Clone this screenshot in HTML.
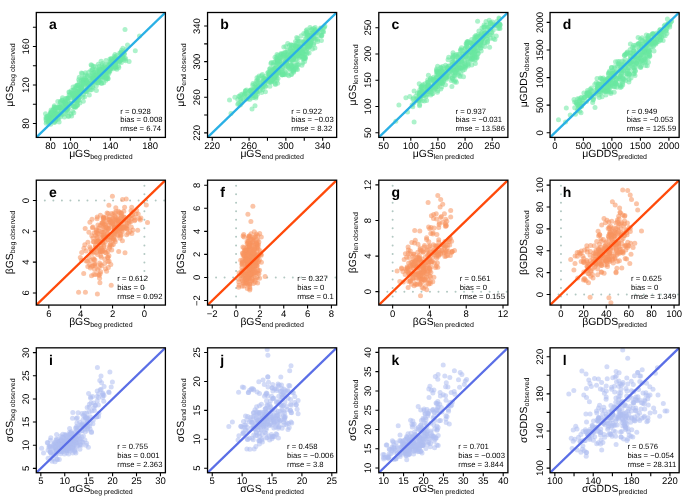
<!DOCTYPE html>
<html><head><meta charset="utf-8"><style>
html,body{margin:0;padding:0;background:#fff;width:685px;height:503px;overflow:hidden}
svg{display:block;font-family:"Liberation Sans",sans-serif;fill:#000;text-rendering:geometricPrecision;will-change:transform}
text{fill:#000}
</style></head><body>
<svg width="685" height="503" viewBox="0 0 685 503">
<rect width="685" height="503" fill="#fff"/>
<defs><clipPath id="ca"><rect x="36.30" y="12.50" width="129.10" height="124.90"/></clipPath><clipPath id="cb"><rect x="207.55" y="12.50" width="129.10" height="124.90"/></clipPath><clipPath id="cc"><rect x="378.80" y="12.50" width="129.10" height="124.90"/></clipPath><clipPath id="cd"><rect x="550.05" y="12.50" width="129.10" height="124.90"/></clipPath><clipPath id="ce"><rect x="36.30" y="180.17" width="129.10" height="124.90"/></clipPath><clipPath id="cf"><rect x="207.55" y="180.17" width="129.10" height="124.90"/></clipPath><clipPath id="cg"><rect x="378.80" y="180.17" width="129.10" height="124.90"/></clipPath><clipPath id="ch"><rect x="550.05" y="180.17" width="129.10" height="124.90"/></clipPath><clipPath id="ci"><rect x="36.30" y="347.83" width="129.10" height="124.90"/></clipPath><clipPath id="cj"><rect x="207.55" y="347.83" width="129.10" height="124.90"/></clipPath><clipPath id="ck"><rect x="378.80" y="347.83" width="129.10" height="124.90"/></clipPath><clipPath id="cl"><rect x="550.05" y="347.83" width="129.10" height="124.90"/></clipPath></defs>
<g clip-path="url(#ca)">
<g fill="rgb(105,232,160)" fill-opacity="0.55"><circle cx="60.2" cy="107.9" r="2.5"/><circle cx="115.9" cy="67.2" r="2.5"/><circle cx="86.2" cy="80.3" r="2.5"/><circle cx="91.7" cy="79.6" r="2.5"/><circle cx="101.6" cy="74.4" r="2.5"/><circle cx="105.4" cy="71.4" r="2.5"/><circle cx="87.8" cy="84.1" r="2.5"/><circle cx="115.4" cy="62.7" r="2.5"/><circle cx="108.8" cy="73.4" r="2.5"/><circle cx="116.3" cy="61.1" r="2.5"/><circle cx="68.7" cy="107.7" r="2.5"/><circle cx="48.3" cy="118.7" r="2.5"/><circle cx="96.3" cy="85.7" r="2.5"/><circle cx="78.0" cy="85.6" r="2.5"/><circle cx="51.1" cy="116.9" r="2.5"/><circle cx="89.3" cy="95.1" r="2.5"/><circle cx="80.0" cy="93.3" r="2.5"/><circle cx="100.6" cy="79.2" r="2.5"/><circle cx="77.4" cy="94.5" r="2.5"/><circle cx="46.8" cy="116.4" r="2.5"/><circle cx="75.9" cy="91.0" r="2.5"/><circle cx="56.1" cy="119.7" r="2.5"/><circle cx="67.1" cy="109.5" r="2.5"/><circle cx="119.2" cy="61.9" r="2.5"/><circle cx="53.4" cy="109.4" r="2.5"/><circle cx="86.6" cy="82.2" r="2.5"/><circle cx="75.1" cy="101.1" r="2.5"/><circle cx="95.4" cy="66.8" r="2.5"/><circle cx="99.3" cy="71.7" r="2.5"/><circle cx="104.3" cy="75.8" r="2.5"/><circle cx="113.4" cy="62.3" r="2.5"/><circle cx="59.5" cy="107.8" r="2.5"/><circle cx="70.2" cy="97.5" r="2.5"/><circle cx="112.6" cy="63.5" r="2.5"/><circle cx="50.6" cy="113.6" r="2.5"/><circle cx="84.7" cy="84.6" r="2.5"/><circle cx="79.6" cy="94.0" r="2.5"/><circle cx="62.1" cy="100.4" r="2.5"/><circle cx="125.9" cy="49.6" r="2.5"/><circle cx="114.4" cy="67.6" r="2.5"/><circle cx="54.7" cy="110.5" r="2.5"/><circle cx="75.6" cy="107.2" r="2.5"/><circle cx="60.3" cy="101.4" r="2.5"/><circle cx="93.7" cy="78.3" r="2.5"/><circle cx="67.9" cy="97.9" r="2.5"/><circle cx="93.8" cy="72.4" r="2.5"/><circle cx="74.8" cy="98.8" r="2.5"/><circle cx="104.4" cy="77.5" r="2.5"/><circle cx="87.2" cy="80.6" r="2.5"/><circle cx="97.5" cy="70.9" r="2.5"/><circle cx="115.3" cy="59.3" r="2.5"/><circle cx="59.9" cy="110.9" r="2.5"/><circle cx="74.8" cy="96.7" r="2.5"/><circle cx="91.6" cy="76.4" r="2.5"/><circle cx="60.6" cy="102.4" r="2.5"/><circle cx="113.0" cy="65.9" r="2.5"/><circle cx="124.4" cy="53.9" r="2.5"/><circle cx="109.8" cy="66.9" r="2.5"/><circle cx="46.6" cy="118.3" r="2.5"/><circle cx="122.9" cy="48.3" r="2.5"/><circle cx="77.6" cy="101.6" r="2.5"/><circle cx="54.2" cy="113.2" r="2.5"/><circle cx="48.9" cy="121.1" r="2.5"/><circle cx="113.9" cy="61.3" r="2.5"/><circle cx="69.9" cy="104.0" r="2.5"/><circle cx="101.8" cy="83.3" r="2.5"/><circle cx="108.2" cy="78.5" r="2.5"/><circle cx="113.2" cy="66.3" r="2.5"/><circle cx="85.4" cy="91.2" r="2.5"/><circle cx="64.8" cy="102.3" r="2.5"/><circle cx="124.2" cy="60.0" r="2.5"/><circle cx="54.8" cy="111.2" r="2.5"/><circle cx="76.7" cy="102.4" r="2.5"/><circle cx="99.3" cy="73.7" r="2.5"/><circle cx="84.7" cy="96.7" r="2.5"/><circle cx="64.1" cy="102.4" r="2.5"/><circle cx="94.3" cy="81.3" r="2.5"/><circle cx="74.2" cy="90.0" r="2.5"/><circle cx="83.3" cy="89.6" r="2.5"/><circle cx="95.6" cy="69.4" r="2.5"/><circle cx="108.9" cy="65.2" r="2.5"/><circle cx="87.5" cy="75.7" r="2.5"/><circle cx="106.0" cy="60.6" r="2.5"/><circle cx="46.2" cy="123.2" r="2.5"/><circle cx="64.4" cy="117.0" r="2.5"/><circle cx="111.4" cy="67.7" r="2.5"/><circle cx="115.0" cy="66.6" r="2.5"/><circle cx="46.0" cy="119.8" r="2.5"/><circle cx="112.9" cy="64.1" r="2.5"/><circle cx="99.0" cy="77.2" r="2.5"/><circle cx="91.7" cy="65.5" r="2.5"/><circle cx="81.2" cy="87.0" r="2.5"/><circle cx="114.1" cy="56.4" r="2.5"/><circle cx="52.3" cy="118.8" r="2.5"/><circle cx="62.2" cy="99.9" r="2.5"/><circle cx="75.7" cy="100.4" r="2.5"/><circle cx="99.3" cy="66.3" r="2.5"/><circle cx="60.3" cy="116.9" r="2.5"/><circle cx="51.9" cy="115.6" r="2.5"/><circle cx="113.5" cy="68.7" r="2.5"/><circle cx="77.4" cy="91.7" r="2.5"/><circle cx="102.3" cy="67.4" r="2.5"/><circle cx="97.5" cy="77.6" r="2.5"/><circle cx="98.4" cy="79.8" r="2.5"/><circle cx="125.7" cy="60.8" r="2.5"/><circle cx="73.1" cy="86.9" r="2.5"/><circle cx="49.9" cy="115.7" r="2.5"/><circle cx="121.3" cy="62.6" r="2.5"/><circle cx="54.6" cy="114.8" r="2.5"/><circle cx="71.0" cy="114.0" r="2.5"/><circle cx="115.3" cy="66.5" r="2.5"/><circle cx="75.4" cy="106.8" r="2.5"/><circle cx="68.2" cy="101.4" r="2.5"/><circle cx="99.5" cy="68.7" r="2.5"/><circle cx="73.0" cy="95.8" r="2.5"/><circle cx="92.1" cy="78.3" r="2.5"/><circle cx="102.8" cy="76.9" r="2.5"/><circle cx="76.7" cy="100.5" r="2.5"/><circle cx="55.4" cy="109.2" r="2.5"/><circle cx="92.4" cy="70.1" r="2.5"/><circle cx="74.7" cy="107.1" r="2.5"/><circle cx="90.9" cy="70.5" r="2.5"/><circle cx="112.6" cy="62.3" r="2.5"/><circle cx="54.3" cy="122.3" r="2.5"/><circle cx="74.8" cy="98.3" r="2.5"/><circle cx="87.3" cy="83.1" r="2.5"/><circle cx="61.3" cy="111.1" r="2.5"/><circle cx="53.7" cy="116.0" r="2.5"/><circle cx="71.6" cy="115.9" r="2.5"/><circle cx="93.9" cy="74.5" r="2.5"/><circle cx="54.6" cy="107.6" r="2.5"/><circle cx="72.5" cy="93.5" r="2.5"/><circle cx="111.4" cy="59.0" r="2.5"/><circle cx="106.4" cy="67.6" r="2.5"/><circle cx="57.2" cy="114.3" r="2.5"/><circle cx="58.2" cy="119.3" r="2.5"/><circle cx="45.9" cy="117.7" r="2.5"/><circle cx="56.3" cy="113.6" r="2.5"/><circle cx="92.9" cy="78.0" r="2.5"/><circle cx="99.8" cy="73.2" r="2.5"/><circle cx="81.0" cy="88.5" r="2.5"/><circle cx="104.7" cy="64.7" r="2.5"/><circle cx="50.7" cy="124.2" r="2.5"/><circle cx="53.0" cy="114.5" r="2.5"/><circle cx="106.7" cy="72.3" r="2.5"/><circle cx="99.2" cy="73.5" r="2.5"/><circle cx="97.8" cy="82.2" r="2.5"/><circle cx="91.3" cy="78.5" r="2.5"/><circle cx="104.4" cy="76.2" r="2.5"/><circle cx="109.7" cy="63.2" r="2.5"/><circle cx="95.8" cy="74.4" r="2.5"/><circle cx="65.6" cy="103.6" r="2.5"/><circle cx="73.7" cy="105.9" r="2.5"/><circle cx="124.4" cy="57.9" r="2.5"/><circle cx="110.7" cy="68.8" r="2.5"/><circle cx="49.2" cy="115.7" r="2.5"/><circle cx="55.0" cy="113.6" r="2.5"/><circle cx="54.1" cy="107.0" r="2.5"/><circle cx="118.8" cy="67.5" r="2.5"/><circle cx="91.2" cy="84.8" r="2.5"/><circle cx="66.9" cy="98.4" r="2.5"/><circle cx="48.3" cy="118.0" r="2.5"/><circle cx="65.4" cy="102.6" r="2.5"/><circle cx="59.4" cy="105.6" r="2.5"/><circle cx="122.6" cy="57.7" r="2.5"/><circle cx="113.5" cy="64.4" r="2.5"/><circle cx="83.4" cy="82.4" r="2.5"/><circle cx="72.5" cy="94.9" r="2.5"/><circle cx="102.2" cy="69.7" r="2.5"/><circle cx="68.9" cy="91.9" r="2.5"/><circle cx="53.1" cy="117.3" r="2.5"/><circle cx="64.4" cy="110.0" r="2.5"/><circle cx="111.0" cy="66.5" r="2.5"/><circle cx="85.5" cy="79.8" r="2.5"/><circle cx="51.1" cy="110.0" r="2.5"/><circle cx="59.6" cy="107.3" r="2.5"/><circle cx="107.7" cy="78.8" r="2.5"/><circle cx="111.3" cy="68.1" r="2.5"/><circle cx="85.8" cy="91.5" r="2.5"/><circle cx="60.6" cy="113.2" r="2.5"/><circle cx="116.0" cy="68.1" r="2.5"/><circle cx="109.9" cy="59.1" r="2.5"/><circle cx="114.0" cy="64.7" r="2.5"/><circle cx="68.1" cy="116.2" r="2.5"/><circle cx="57.5" cy="114.7" r="2.5"/><circle cx="92.2" cy="83.1" r="2.5"/><circle cx="82.9" cy="97.1" r="2.5"/><circle cx="63.6" cy="106.5" r="2.5"/><circle cx="98.3" cy="64.2" r="2.5"/><circle cx="105.5" cy="76.9" r="2.5"/><circle cx="50.6" cy="116.8" r="2.5"/><circle cx="116.1" cy="59.4" r="2.5"/><circle cx="51.6" cy="118.6" r="2.5"/><circle cx="55.2" cy="113.7" r="2.5"/><circle cx="65.2" cy="103.5" r="2.5"/><circle cx="111.9" cy="63.0" r="2.5"/><circle cx="65.8" cy="103.5" r="2.5"/><circle cx="51.2" cy="119.7" r="2.5"/><circle cx="119.7" cy="61.6" r="2.5"/><circle cx="50.3" cy="121.5" r="2.5"/><circle cx="78.6" cy="97.4" r="2.5"/><circle cx="94.6" cy="81.5" r="2.5"/><circle cx="104.2" cy="71.4" r="2.5"/><circle cx="51.2" cy="113.5" r="2.5"/><circle cx="57.8" cy="101.4" r="2.5"/><circle cx="120.8" cy="59.4" r="2.5"/><circle cx="121.0" cy="54.8" r="2.5"/><circle cx="63.0" cy="102.4" r="2.5"/><circle cx="78.1" cy="96.7" r="2.5"/><circle cx="67.1" cy="110.5" r="2.5"/><circle cx="83.4" cy="80.1" r="2.5"/><circle cx="55.7" cy="108.1" r="2.5"/><circle cx="106.0" cy="76.7" r="2.5"/><circle cx="74.0" cy="93.8" r="2.5"/><circle cx="65.4" cy="104.6" r="2.5"/><circle cx="93.5" cy="66.3" r="2.5"/><circle cx="116.6" cy="59.4" r="2.5"/><circle cx="52.6" cy="110.3" r="2.5"/><circle cx="80.5" cy="91.3" r="2.5"/><circle cx="95.0" cy="83.1" r="2.5"/><circle cx="93.6" cy="77.8" r="2.5"/><circle cx="51.4" cy="119.8" r="2.5"/><circle cx="80.6" cy="91.8" r="2.5"/><circle cx="88.2" cy="84.1" r="2.5"/><circle cx="109.6" cy="64.4" r="2.5"/><circle cx="78.9" cy="91.8" r="2.5"/><circle cx="69.8" cy="92.2" r="2.5"/><circle cx="79.3" cy="77.2" r="2.5"/><circle cx="65.9" cy="104.5" r="2.5"/><circle cx="100.6" cy="73.6" r="2.5"/><circle cx="121.3" cy="51.9" r="2.5"/><circle cx="55.7" cy="107.8" r="2.5"/><circle cx="102.0" cy="75.8" r="2.5"/><circle cx="116.9" cy="69.3" r="2.5"/><circle cx="120.1" cy="58.2" r="2.5"/><circle cx="68.1" cy="106.8" r="2.5"/><circle cx="120.6" cy="53.1" r="2.5"/><circle cx="83.7" cy="80.5" r="2.5"/><circle cx="76.6" cy="87.6" r="2.5"/><circle cx="68.2" cy="98.4" r="2.5"/><circle cx="55.1" cy="121.1" r="2.5"/><circle cx="100.2" cy="80.6" r="2.5"/><circle cx="65.7" cy="102.6" r="2.5"/><circle cx="109.9" cy="71.3" r="2.5"/><circle cx="79.9" cy="103.1" r="2.5"/><circle cx="83.4" cy="79.6" r="2.5"/><circle cx="116.0" cy="60.0" r="2.5"/><circle cx="101.0" cy="76.6" r="2.5"/><circle cx="109.5" cy="71.1" r="2.5"/><circle cx="76.4" cy="93.6" r="2.5"/><circle cx="113.6" cy="62.1" r="2.5"/><circle cx="81.5" cy="80.5" r="2.5"/><circle cx="81.6" cy="86.6" r="2.5"/><circle cx="103.7" cy="82.7" r="2.5"/><circle cx="67.8" cy="111.9" r="2.5"/><circle cx="80.5" cy="87.9" r="2.5"/><circle cx="91.7" cy="89.7" r="2.5"/><circle cx="51.2" cy="118.0" r="2.5"/><circle cx="72.6" cy="98.2" r="2.5"/><circle cx="54.4" cy="105.7" r="2.5"/><circle cx="100.2" cy="74.8" r="2.5"/><circle cx="122.3" cy="55.6" r="2.5"/><circle cx="75.5" cy="96.8" r="2.5"/><circle cx="114.4" cy="58.2" r="2.5"/><circle cx="100.1" cy="71.7" r="2.5"/><circle cx="59.2" cy="114.3" r="2.5"/><circle cx="119.7" cy="53.0" r="2.5"/><circle cx="116.8" cy="61.2" r="2.5"/><circle cx="97.4" cy="76.5" r="2.5"/><circle cx="50.7" cy="112.7" r="2.5"/><circle cx="106.4" cy="71.4" r="2.5"/><circle cx="95.6" cy="75.7" r="2.5"/><circle cx="124.1" cy="53.7" r="2.5"/><circle cx="50.8" cy="112.0" r="2.5"/><circle cx="98.8" cy="69.7" r="2.5"/><circle cx="92.3" cy="81.2" r="2.5"/><circle cx="73.3" cy="106.2" r="2.5"/><circle cx="98.9" cy="82.6" r="2.5"/><circle cx="115.0" cy="54.6" r="2.5"/><circle cx="87.4" cy="87.7" r="2.5"/><circle cx="84.2" cy="91.3" r="2.5"/><circle cx="55.5" cy="110.1" r="2.5"/><circle cx="93.5" cy="78.7" r="2.5"/><circle cx="66.3" cy="107.5" r="2.5"/><circle cx="123.8" cy="52.0" r="2.5"/><circle cx="81.6" cy="87.0" r="2.5"/><circle cx="74.6" cy="98.7" r="2.5"/><circle cx="79.4" cy="84.7" r="2.5"/><circle cx="114.8" cy="66.5" r="2.5"/><circle cx="51.4" cy="117.7" r="2.5"/><circle cx="125.6" cy="58.5" r="2.5"/><circle cx="113.6" cy="64.5" r="2.5"/><circle cx="59.4" cy="106.8" r="2.5"/><circle cx="102.1" cy="65.7" r="2.5"/><circle cx="105.7" cy="73.6" r="2.5"/><circle cx="102.2" cy="73.0" r="2.5"/><circle cx="50.7" cy="118.8" r="2.5"/><circle cx="76.8" cy="105.0" r="2.5"/><circle cx="86.9" cy="76.6" r="2.5"/><circle cx="79.4" cy="81.4" r="2.5"/><circle cx="72.5" cy="111.2" r="2.5"/><circle cx="95.1" cy="78.4" r="2.5"/><circle cx="77.2" cy="105.6" r="2.5"/><circle cx="95.1" cy="81.3" r="2.5"/><circle cx="90.0" cy="75.6" r="2.5"/><circle cx="85.0" cy="81.8" r="2.5"/><circle cx="100.4" cy="69.6" r="2.5"/><circle cx="105.8" cy="80.3" r="2.5"/><circle cx="76.2" cy="97.8" r="2.5"/><circle cx="73.8" cy="112.7" r="2.5"/><circle cx="107.9" cy="71.6" r="2.5"/><circle cx="95.3" cy="74.9" r="2.5"/><circle cx="71.5" cy="93.0" r="2.5"/><circle cx="86.9" cy="80.1" r="2.5"/><circle cx="53.7" cy="114.1" r="2.5"/><circle cx="60.5" cy="106.7" r="2.5"/><circle cx="87.6" cy="89.9" r="2.5"/><circle cx="105.2" cy="69.0" r="2.5"/><circle cx="67.8" cy="108.8" r="2.5"/><circle cx="73.6" cy="106.5" r="2.5"/><circle cx="100.1" cy="71.1" r="2.5"/><circle cx="55.3" cy="114.4" r="2.5"/><circle cx="122.1" cy="52.8" r="2.5"/><circle cx="85.4" cy="74.9" r="2.5"/><circle cx="54.3" cy="114.1" r="2.5"/><circle cx="96.3" cy="73.7" r="2.5"/><circle cx="71.5" cy="90.4" r="2.5"/><circle cx="115.8" cy="64.8" r="2.5"/><circle cx="78.6" cy="91.2" r="2.5"/><circle cx="70.1" cy="103.4" r="2.5"/><circle cx="119.4" cy="57.9" r="2.5"/><circle cx="118.4" cy="66.1" r="2.5"/><circle cx="77.2" cy="85.4" r="2.5"/><circle cx="78.8" cy="100.3" r="2.5"/><circle cx="45.5" cy="113.7" r="2.5"/><circle cx="51.8" cy="113.1" r="2.5"/><circle cx="111.1" cy="58.8" r="2.5"/><circle cx="107.3" cy="76.2" r="2.5"/><circle cx="56.6" cy="114.0" r="2.5"/><circle cx="107.9" cy="68.1" r="2.5"/><circle cx="117.3" cy="61.1" r="2.5"/><circle cx="76.0" cy="93.1" r="2.5"/><circle cx="73.5" cy="90.0" r="2.5"/><circle cx="61.5" cy="108.2" r="2.5"/><circle cx="96.4" cy="90.4" r="2.5"/><circle cx="81.4" cy="73.0" r="2.5"/><circle cx="101.4" cy="70.2" r="2.5"/><circle cx="64.9" cy="101.3" r="2.5"/><circle cx="55.6" cy="119.6" r="2.5"/><circle cx="54.5" cy="122.2" r="2.5"/><circle cx="109.1" cy="70.1" r="2.5"/><circle cx="77.9" cy="94.4" r="2.5"/><circle cx="99.2" cy="80.7" r="2.5"/><circle cx="103.5" cy="77.1" r="2.5"/><circle cx="114.5" cy="57.9" r="2.5"/><circle cx="105.5" cy="78.4" r="2.5"/><circle cx="59.1" cy="122.0" r="2.5"/><circle cx="89.9" cy="83.2" r="2.5"/><circle cx="65.8" cy="103.8" r="2.5"/><circle cx="74.1" cy="102.8" r="2.5"/><circle cx="84.9" cy="89.9" r="2.5"/><circle cx="78.4" cy="99.7" r="2.5"/><circle cx="111.6" cy="61.0" r="2.5"/><circle cx="65.5" cy="113.1" r="2.5"/><circle cx="50.9" cy="113.4" r="2.5"/><circle cx="93.0" cy="88.1" r="2.5"/><circle cx="112.3" cy="63.6" r="2.5"/><circle cx="113.0" cy="62.1" r="2.5"/><circle cx="83.3" cy="101.2" r="2.5"/><circle cx="114.6" cy="64.3" r="2.5"/><circle cx="87.9" cy="84.1" r="2.5"/><circle cx="59.7" cy="108.1" r="2.5"/><circle cx="122.7" cy="57.4" r="2.5"/><circle cx="81.5" cy="87.8" r="2.5"/><circle cx="91.1" cy="64.8" r="2.5"/><circle cx="58.0" cy="117.8" r="2.5"/><circle cx="81.3" cy="83.2" r="2.5"/><circle cx="63.2" cy="105.9" r="2.5"/><circle cx="107.6" cy="64.5" r="2.5"/><circle cx="69.1" cy="95.0" r="2.5"/><circle cx="104.3" cy="67.0" r="2.5"/><circle cx="65.2" cy="109.3" r="2.5"/><circle cx="64.0" cy="113.9" r="2.5"/><circle cx="92.7" cy="69.6" r="2.5"/><circle cx="101.3" cy="83.3" r="2.5"/><circle cx="86.8" cy="91.7" r="2.5"/><circle cx="83.5" cy="83.7" r="2.5"/><circle cx="58.4" cy="107.9" r="2.5"/><circle cx="75.8" cy="86.1" r="2.5"/><circle cx="95.4" cy="72.0" r="2.5"/><circle cx="68.8" cy="116.2" r="2.5"/><circle cx="115.9" cy="57.1" r="2.5"/><circle cx="102.5" cy="63.6" r="2.5"/><circle cx="47.7" cy="116.1" r="2.5"/><circle cx="109.2" cy="69.5" r="2.5"/><circle cx="71.0" cy="103.1" r="2.5"/><circle cx="96.8" cy="76.0" r="2.5"/><circle cx="96.3" cy="78.8" r="2.5"/><circle cx="110.4" cy="61.3" r="2.5"/><circle cx="55.6" cy="118.1" r="2.5"/><circle cx="82.3" cy="73.4" r="2.5"/><circle cx="75.6" cy="95.9" r="2.5"/><circle cx="77.6" cy="84.8" r="2.5"/><circle cx="112.2" cy="64.7" r="2.5"/><circle cx="86.9" cy="82.4" r="2.5"/><circle cx="113.4" cy="63.5" r="2.5"/><circle cx="98.1" cy="77.0" r="2.5"/><circle cx="74.8" cy="99.5" r="2.5"/><circle cx="82.1" cy="77.9" r="2.5"/><circle cx="78.7" cy="79.8" r="2.5"/><circle cx="80.3" cy="92.1" r="2.5"/><circle cx="104.9" cy="74.0" r="2.5"/><circle cx="60.6" cy="114.0" r="2.5"/><circle cx="121.5" cy="57.6" r="2.5"/><circle cx="89.8" cy="84.1" r="2.5"/><circle cx="101.1" cy="61.2" r="2.5"/><circle cx="97.9" cy="82.9" r="2.5"/><circle cx="120.3" cy="60.6" r="2.5"/><circle cx="104.3" cy="69.2" r="2.5"/><circle cx="84.0" cy="78.0" r="2.5"/><circle cx="103.6" cy="68.4" r="2.5"/><circle cx="104.8" cy="71.8" r="2.5"/><circle cx="85.5" cy="72.8" r="2.5"/><circle cx="48.4" cy="121.6" r="2.5"/><circle cx="116.9" cy="55.4" r="2.5"/><circle cx="57.5" cy="115.0" r="2.5"/><circle cx="64.0" cy="107.9" r="2.5"/><circle cx="105.5" cy="68.3" r="2.5"/><circle cx="110.7" cy="64.0" r="2.5"/><circle cx="78.2" cy="88.2" r="2.5"/><circle cx="65.6" cy="98.5" r="2.5"/><circle cx="46.5" cy="121.6" r="2.5"/><circle cx="107.1" cy="77.1" r="2.5"/><circle cx="90.0" cy="83.4" r="2.5"/><circle cx="88.7" cy="88.3" r="2.5"/><circle cx="108.2" cy="72.5" r="2.5"/><circle cx="77.5" cy="104.9" r="2.5"/><circle cx="53.8" cy="117.0" r="2.5"/><circle cx="106.5" cy="78.6" r="2.5"/><circle cx="115.5" cy="65.7" r="2.5"/><circle cx="92.5" cy="73.3" r="2.5"/><circle cx="82.8" cy="83.0" r="2.5"/><circle cx="106.9" cy="69.9" r="2.5"/><circle cx="81.1" cy="88.0" r="2.5"/><circle cx="57.5" cy="107.2" r="2.5"/><circle cx="88.8" cy="72.3" r="2.5"/><circle cx="92.7" cy="86.8" r="2.5"/><circle cx="61.2" cy="106.9" r="2.5"/><circle cx="87.1" cy="82.3" r="2.5"/><circle cx="75.1" cy="88.4" r="2.5"/><circle cx="70.0" cy="95.0" r="2.5"/><circle cx="62.5" cy="97.7" r="2.5"/><circle cx="121.6" cy="50.3" r="2.5"/><circle cx="61.5" cy="114.9" r="2.5"/><circle cx="92.3" cy="75.2" r="2.5"/><circle cx="87.5" cy="81.9" r="2.5"/><circle cx="78.4" cy="93.7" r="2.5"/><circle cx="83.5" cy="84.3" r="2.5"/><circle cx="76.9" cy="98.8" r="2.5"/><circle cx="90.1" cy="90.1" r="2.5"/><circle cx="67.3" cy="99.9" r="2.5"/><circle cx="83.4" cy="94.4" r="2.5"/><circle cx="58.1" cy="113.0" r="2.5"/><circle cx="122.0" cy="59.2" r="2.5"/><circle cx="48.6" cy="123.0" r="2.5"/><circle cx="115.5" cy="63.8" r="2.5"/><circle cx="86.1" cy="85.4" r="2.5"/><circle cx="73.5" cy="94.3" r="2.5"/><circle cx="79.5" cy="97.2" r="2.5"/><circle cx="66.0" cy="109.6" r="2.5"/><circle cx="125.0" cy="29.5" r="2.5"/><circle cx="139.5" cy="36.0" r="2.5"/><circle cx="127.5" cy="44.9" r="2.5"/><circle cx="135.3" cy="50.8" r="2.5"/><circle cx="129.1" cy="61.6" r="2.5"/></g>
<line x1="36.30" y1="137.40" x2="165.40" y2="12.50" stroke="#2ab0e5" stroke-width="2.3"/>
</g>
<rect x="36.30" y="12.50" width="129.10" height="124.90" fill="none" stroke="#000" stroke-width="1.3"/>
<path d="M50.60 137.40v3.4M36.30 123.57h-3.4M70.51 137.40v3.4M36.30 104.30h-3.4M90.43 137.40v3.4M36.30 85.04h-3.4M110.34 137.40v3.4M36.30 65.77h-3.4M130.25 137.40v3.4M36.30 46.50h-3.4M150.17 137.40v3.4M36.30 27.24h-3.4" stroke="#000" stroke-width="1.1" fill="none"/>
<text x="50.60" y="148.90" text-anchor="middle" font-size="9.5">80</text>
<text x="70.51" y="148.90" text-anchor="middle" font-size="9.5">100</text>
<text x="110.34" y="148.90" text-anchor="middle" font-size="9.5">140</text>
<text x="150.17" y="148.90" text-anchor="middle" font-size="9.5">180</text>
<text x="28.90" y="123.57" text-anchor="middle" font-size="9.5" transform="rotate(-90 28.90 123.57)">80</text>
<text x="28.90" y="85.04" text-anchor="middle" font-size="9.5" transform="rotate(-90 28.90 85.04)">120</text>
<text x="28.90" y="46.50" text-anchor="middle" font-size="9.5" transform="rotate(-90 28.90 46.50)">160</text>
<text x="100.85" y="157.10" text-anchor="middle" font-size="10.4">μGS<tspan font-size="7" dy="2">beg predicted</tspan></text>
<text x="13.10" y="74.95" text-anchor="middle" font-size="10.4" transform="rotate(-90 13.10 74.95)">μGS<tspan font-size="7" dy="2">beg observed</tspan></text>
<text x="48.90" y="29.20" font-size="14" font-weight="bold">a</text>
<g font-size="7.7">
<text x="120.33" y="113.75">r = 0.928</text>
<text x="120.33" y="122.30">bias = 0.008</text>
<text x="120.33" y="131.35">rmse = 6.74</text>
</g>
<g clip-path="url(#cb)">
<g fill="rgb(105,232,160)" fill-opacity="0.55"><circle cx="296.7" cy="37.5" r="2.5"/><circle cx="271.0" cy="75.7" r="2.5"/><circle cx="268.7" cy="75.2" r="2.5"/><circle cx="314.3" cy="31.5" r="2.5"/><circle cx="307.5" cy="42.3" r="2.5"/><circle cx="310.6" cy="42.7" r="2.5"/><circle cx="286.6" cy="63.3" r="2.5"/><circle cx="292.8" cy="61.1" r="2.5"/><circle cx="275.1" cy="70.5" r="2.5"/><circle cx="270.9" cy="63.6" r="2.5"/><circle cx="311.8" cy="29.9" r="2.5"/><circle cx="265.4" cy="79.2" r="2.5"/><circle cx="295.0" cy="56.6" r="2.5"/><circle cx="288.3" cy="67.4" r="2.5"/><circle cx="311.5" cy="38.5" r="2.5"/><circle cx="293.4" cy="55.8" r="2.5"/><circle cx="313.7" cy="28.4" r="2.5"/><circle cx="274.1" cy="70.9" r="2.5"/><circle cx="293.3" cy="57.5" r="2.5"/><circle cx="246.5" cy="89.9" r="2.5"/><circle cx="292.0" cy="45.3" r="2.5"/><circle cx="273.1" cy="64.9" r="2.5"/><circle cx="282.3" cy="72.6" r="2.5"/><circle cx="276.0" cy="75.9" r="2.5"/><circle cx="299.1" cy="41.6" r="2.5"/><circle cx="274.4" cy="78.6" r="2.5"/><circle cx="301.3" cy="51.0" r="2.5"/><circle cx="283.0" cy="54.8" r="2.5"/><circle cx="276.8" cy="56.7" r="2.5"/><circle cx="285.6" cy="52.2" r="2.5"/><circle cx="253.7" cy="97.5" r="2.5"/><circle cx="253.1" cy="95.6" r="2.5"/><circle cx="259.1" cy="76.1" r="2.5"/><circle cx="263.3" cy="78.1" r="2.5"/><circle cx="263.3" cy="78.0" r="2.5"/><circle cx="305.8" cy="47.1" r="2.5"/><circle cx="303.8" cy="41.8" r="2.5"/><circle cx="283.2" cy="55.9" r="2.5"/><circle cx="279.7" cy="61.5" r="2.5"/><circle cx="315.2" cy="27.6" r="2.5"/><circle cx="276.0" cy="73.0" r="2.5"/><circle cx="256.0" cy="91.9" r="2.5"/><circle cx="308.4" cy="35.3" r="2.5"/><circle cx="277.0" cy="74.3" r="2.5"/><circle cx="305.2" cy="57.7" r="2.5"/><circle cx="305.6" cy="51.4" r="2.5"/><circle cx="299.7" cy="56.8" r="2.5"/><circle cx="278.8" cy="72.7" r="2.5"/><circle cx="308.8" cy="44.8" r="2.5"/><circle cx="284.8" cy="74.8" r="2.5"/><circle cx="301.6" cy="53.2" r="2.5"/><circle cx="294.1" cy="65.6" r="2.5"/><circle cx="308.4" cy="45.0" r="2.5"/><circle cx="310.4" cy="33.3" r="2.5"/><circle cx="245.8" cy="94.3" r="2.5"/><circle cx="297.4" cy="51.7" r="2.5"/><circle cx="268.4" cy="72.5" r="2.5"/><circle cx="260.6" cy="83.8" r="2.5"/><circle cx="305.0" cy="43.3" r="2.5"/><circle cx="283.4" cy="74.6" r="2.5"/><circle cx="299.7" cy="50.0" r="2.5"/><circle cx="256.1" cy="91.5" r="2.5"/><circle cx="258.0" cy="80.1" r="2.5"/><circle cx="291.0" cy="64.9" r="2.5"/><circle cx="300.7" cy="55.5" r="2.5"/><circle cx="295.3" cy="68.5" r="2.5"/><circle cx="303.6" cy="58.7" r="2.5"/><circle cx="305.3" cy="43.7" r="2.5"/><circle cx="277.5" cy="70.5" r="2.5"/><circle cx="293.9" cy="57.8" r="2.5"/><circle cx="310.8" cy="45.0" r="2.5"/><circle cx="279.3" cy="58.5" r="2.5"/><circle cx="321.4" cy="40.5" r="2.5"/><circle cx="296.3" cy="56.1" r="2.5"/><circle cx="287.3" cy="74.6" r="2.5"/><circle cx="269.9" cy="86.2" r="2.5"/><circle cx="309.6" cy="38.5" r="2.5"/><circle cx="286.2" cy="58.7" r="2.5"/><circle cx="294.7" cy="52.6" r="2.5"/><circle cx="256.0" cy="85.8" r="2.5"/><circle cx="239.6" cy="96.5" r="2.5"/><circle cx="276.5" cy="67.0" r="2.5"/><circle cx="273.0" cy="79.3" r="2.5"/><circle cx="287.8" cy="65.4" r="2.5"/><circle cx="292.2" cy="53.5" r="2.5"/><circle cx="286.3" cy="61.3" r="2.5"/><circle cx="281.3" cy="54.5" r="2.5"/><circle cx="282.2" cy="75.0" r="2.5"/><circle cx="283.8" cy="47.0" r="2.5"/><circle cx="269.1" cy="75.9" r="2.5"/><circle cx="315.0" cy="30.6" r="2.5"/><circle cx="265.3" cy="86.2" r="2.5"/><circle cx="292.2" cy="67.3" r="2.5"/><circle cx="307.8" cy="43.9" r="2.5"/><circle cx="309.4" cy="41.7" r="2.5"/><circle cx="285.8" cy="55.2" r="2.5"/><circle cx="312.3" cy="35.5" r="2.5"/><circle cx="299.0" cy="47.2" r="2.5"/><circle cx="260.1" cy="90.4" r="2.5"/><circle cx="307.0" cy="44.7" r="2.5"/><circle cx="296.5" cy="47.1" r="2.5"/><circle cx="287.5" cy="50.2" r="2.5"/><circle cx="255.9" cy="97.9" r="2.5"/><circle cx="254.8" cy="93.6" r="2.5"/><circle cx="306.5" cy="32.4" r="2.5"/><circle cx="301.4" cy="45.5" r="2.5"/><circle cx="274.1" cy="81.2" r="2.5"/><circle cx="302.3" cy="53.8" r="2.5"/><circle cx="292.8" cy="59.2" r="2.5"/><circle cx="306.9" cy="43.4" r="2.5"/><circle cx="281.0" cy="54.6" r="2.5"/><circle cx="252.8" cy="85.2" r="2.5"/><circle cx="275.2" cy="74.9" r="2.5"/><circle cx="320.6" cy="27.9" r="2.5"/><circle cx="293.4" cy="69.9" r="2.5"/><circle cx="320.8" cy="28.4" r="2.5"/><circle cx="304.1" cy="54.3" r="2.5"/><circle cx="269.6" cy="68.9" r="2.5"/><circle cx="282.4" cy="68.3" r="2.5"/><circle cx="284.5" cy="54.8" r="2.5"/><circle cx="297.5" cy="56.0" r="2.5"/><circle cx="310.7" cy="36.1" r="2.5"/><circle cx="301.9" cy="65.3" r="2.5"/><circle cx="307.6" cy="48.3" r="2.5"/><circle cx="302.7" cy="63.1" r="2.5"/><circle cx="299.4" cy="47.7" r="2.5"/><circle cx="308.8" cy="45.4" r="2.5"/><circle cx="297.7" cy="38.5" r="2.5"/><circle cx="314.0" cy="33.4" r="2.5"/><circle cx="256.2" cy="87.4" r="2.5"/><circle cx="246.7" cy="99.1" r="2.5"/><circle cx="297.9" cy="53.8" r="2.5"/><circle cx="258.5" cy="77.8" r="2.5"/><circle cx="308.9" cy="41.4" r="2.5"/><circle cx="291.0" cy="54.3" r="2.5"/><circle cx="296.2" cy="65.3" r="2.5"/><circle cx="269.5" cy="75.7" r="2.5"/><circle cx="248.1" cy="98.6" r="2.5"/><circle cx="286.6" cy="56.7" r="2.5"/><circle cx="299.6" cy="46.2" r="2.5"/><circle cx="265.8" cy="79.9" r="2.5"/><circle cx="271.5" cy="75.7" r="2.5"/><circle cx="291.1" cy="47.5" r="2.5"/><circle cx="272.7" cy="72.6" r="2.5"/><circle cx="288.3" cy="53.7" r="2.5"/><circle cx="311.6" cy="33.7" r="2.5"/><circle cx="296.0" cy="47.2" r="2.5"/><circle cx="264.4" cy="84.6" r="2.5"/><circle cx="245.4" cy="90.8" r="2.5"/><circle cx="304.1" cy="58.3" r="2.5"/><circle cx="286.4" cy="62.1" r="2.5"/><circle cx="292.5" cy="51.1" r="2.5"/><circle cx="299.1" cy="49.4" r="2.5"/><circle cx="277.6" cy="83.3" r="2.5"/><circle cx="321.8" cy="35.6" r="2.5"/><circle cx="307.3" cy="34.7" r="2.5"/><circle cx="275.8" cy="64.8" r="2.5"/><circle cx="309.3" cy="39.5" r="2.5"/><circle cx="300.2" cy="45.9" r="2.5"/><circle cx="294.0" cy="51.2" r="2.5"/><circle cx="292.0" cy="60.2" r="2.5"/><circle cx="274.0" cy="69.2" r="2.5"/><circle cx="240.9" cy="101.4" r="2.5"/><circle cx="296.6" cy="67.1" r="2.5"/><circle cx="263.7" cy="80.8" r="2.5"/><circle cx="313.9" cy="42.9" r="2.5"/><circle cx="271.4" cy="62.4" r="2.5"/><circle cx="297.5" cy="46.6" r="2.5"/><circle cx="273.6" cy="62.4" r="2.5"/><circle cx="316.1" cy="38.9" r="2.5"/><circle cx="293.6" cy="72.2" r="2.5"/><circle cx="293.9" cy="53.9" r="2.5"/><circle cx="279.8" cy="61.4" r="2.5"/><circle cx="264.6" cy="78.4" r="2.5"/><circle cx="255.8" cy="96.4" r="2.5"/><circle cx="271.4" cy="80.4" r="2.5"/><circle cx="288.4" cy="66.2" r="2.5"/><circle cx="292.1" cy="53.1" r="2.5"/><circle cx="282.2" cy="74.7" r="2.5"/><circle cx="271.5" cy="79.0" r="2.5"/><circle cx="302.0" cy="51.2" r="2.5"/><circle cx="289.9" cy="55.7" r="2.5"/><circle cx="277.2" cy="60.4" r="2.5"/><circle cx="281.7" cy="60.5" r="2.5"/><circle cx="282.3" cy="57.1" r="2.5"/><circle cx="251.8" cy="93.9" r="2.5"/><circle cx="305.3" cy="47.6" r="2.5"/><circle cx="262.8" cy="81.4" r="2.5"/><circle cx="250.5" cy="90.5" r="2.5"/><circle cx="303.2" cy="41.9" r="2.5"/><circle cx="276.7" cy="72.5" r="2.5"/><circle cx="306.4" cy="37.3" r="2.5"/><circle cx="292.7" cy="57.5" r="2.5"/><circle cx="309.1" cy="53.0" r="2.5"/><circle cx="265.3" cy="79.4" r="2.5"/><circle cx="301.2" cy="50.8" r="2.5"/><circle cx="285.9" cy="72.8" r="2.5"/><circle cx="285.1" cy="62.0" r="2.5"/><circle cx="299.5" cy="50.3" r="2.5"/><circle cx="300.5" cy="41.0" r="2.5"/><circle cx="270.2" cy="78.3" r="2.5"/><circle cx="272.4" cy="80.1" r="2.5"/><circle cx="296.0" cy="59.8" r="2.5"/><circle cx="269.8" cy="81.9" r="2.5"/><circle cx="275.0" cy="68.5" r="2.5"/><circle cx="296.7" cy="51.9" r="2.5"/><circle cx="285.5" cy="57.7" r="2.5"/><circle cx="261.6" cy="92.6" r="2.5"/><circle cx="291.5" cy="74.5" r="2.5"/><circle cx="278.0" cy="78.5" r="2.5"/><circle cx="269.2" cy="73.7" r="2.5"/><circle cx="305.3" cy="39.0" r="2.5"/><circle cx="274.6" cy="77.1" r="2.5"/><circle cx="256.9" cy="89.5" r="2.5"/><circle cx="240.7" cy="94.8" r="2.5"/><circle cx="305.3" cy="43.6" r="2.5"/><circle cx="307.2" cy="31.9" r="2.5"/><circle cx="252.4" cy="95.8" r="2.5"/><circle cx="273.6" cy="69.0" r="2.5"/><circle cx="286.1" cy="65.9" r="2.5"/><circle cx="290.2" cy="69.1" r="2.5"/><circle cx="274.1" cy="75.5" r="2.5"/><circle cx="253.1" cy="90.9" r="2.5"/><circle cx="252.3" cy="93.0" r="2.5"/><circle cx="280.1" cy="72.3" r="2.5"/><circle cx="307.5" cy="36.3" r="2.5"/><circle cx="287.8" cy="52.0" r="2.5"/><circle cx="315.4" cy="32.5" r="2.5"/><circle cx="274.1" cy="74.1" r="2.5"/><circle cx="313.3" cy="34.0" r="2.5"/><circle cx="257.5" cy="91.7" r="2.5"/><circle cx="265.9" cy="79.5" r="2.5"/><circle cx="257.8" cy="86.5" r="2.5"/><circle cx="281.0" cy="53.6" r="2.5"/><circle cx="297.2" cy="52.6" r="2.5"/><circle cx="290.2" cy="61.9" r="2.5"/><circle cx="242.4" cy="98.2" r="2.5"/><circle cx="309.9" cy="45.7" r="2.5"/><circle cx="313.7" cy="44.4" r="2.5"/><circle cx="289.2" cy="57.3" r="2.5"/><circle cx="304.6" cy="61.4" r="2.5"/><circle cx="275.0" cy="57.3" r="2.5"/><circle cx="279.1" cy="71.4" r="2.5"/><circle cx="277.2" cy="62.5" r="2.5"/><circle cx="285.3" cy="61.3" r="2.5"/><circle cx="292.5" cy="70.6" r="2.5"/><circle cx="253.0" cy="83.6" r="2.5"/><circle cx="275.1" cy="61.7" r="2.5"/><circle cx="288.8" cy="75.8" r="2.5"/><circle cx="266.8" cy="80.5" r="2.5"/><circle cx="256.9" cy="77.8" r="2.5"/><circle cx="322.1" cy="31.9" r="2.5"/><circle cx="238.7" cy="103.4" r="2.5"/><circle cx="290.4" cy="57.9" r="2.5"/><circle cx="315.8" cy="32.9" r="2.5"/><circle cx="310.0" cy="27.4" r="2.5"/><circle cx="270.7" cy="82.1" r="2.5"/><circle cx="290.6" cy="53.8" r="2.5"/><circle cx="303.9" cy="48.9" r="2.5"/><circle cx="305.3" cy="58.8" r="2.5"/><circle cx="296.1" cy="54.2" r="2.5"/><circle cx="306.7" cy="49.2" r="2.5"/><circle cx="311.7" cy="41.5" r="2.5"/><circle cx="282.3" cy="66.4" r="2.5"/><circle cx="269.6" cy="73.8" r="2.5"/><circle cx="250.1" cy="90.8" r="2.5"/><circle cx="303.8" cy="33.5" r="2.5"/><circle cx="262.9" cy="86.5" r="2.5"/><circle cx="295.6" cy="53.5" r="2.5"/><circle cx="293.6" cy="71.2" r="2.5"/><circle cx="313.8" cy="38.3" r="2.5"/><circle cx="280.7" cy="58.2" r="2.5"/><circle cx="288.0" cy="59.6" r="2.5"/><circle cx="309.8" cy="44.7" r="2.5"/><circle cx="324.4" cy="27.2" r="2.5"/><circle cx="302.8" cy="58.7" r="2.5"/><circle cx="262.4" cy="74.6" r="2.5"/><circle cx="291.7" cy="68.6" r="2.5"/><circle cx="269.6" cy="76.5" r="2.5"/><circle cx="323.5" cy="31.9" r="2.5"/><circle cx="298.2" cy="53.3" r="2.5"/><circle cx="312.0" cy="39.2" r="2.5"/><circle cx="314.9" cy="48.1" r="2.5"/><circle cx="265.2" cy="80.5" r="2.5"/><circle cx="318.2" cy="30.8" r="2.5"/><circle cx="241.7" cy="102.8" r="2.5"/><circle cx="285.8" cy="46.4" r="2.5"/><circle cx="299.6" cy="52.4" r="2.5"/><circle cx="293.7" cy="59.1" r="2.5"/><circle cx="274.6" cy="77.3" r="2.5"/><circle cx="311.3" cy="29.2" r="2.5"/><circle cx="310.0" cy="46.4" r="2.5"/><circle cx="308.8" cy="47.3" r="2.5"/><circle cx="252.6" cy="90.3" r="2.5"/><circle cx="317.6" cy="41.5" r="2.5"/><circle cx="278.6" cy="73.4" r="2.5"/><circle cx="269.5" cy="77.3" r="2.5"/><circle cx="293.3" cy="59.3" r="2.5"/><circle cx="257.8" cy="85.1" r="2.5"/><circle cx="275.9" cy="71.0" r="2.5"/><circle cx="261.4" cy="85.2" r="2.5"/><circle cx="278.4" cy="70.1" r="2.5"/><circle cx="284.9" cy="71.5" r="2.5"/><circle cx="283.8" cy="55.8" r="2.5"/><circle cx="290.7" cy="49.3" r="2.5"/><circle cx="289.5" cy="45.2" r="2.5"/><circle cx="254.1" cy="87.2" r="2.5"/><circle cx="237.8" cy="99.6" r="2.5"/><circle cx="297.9" cy="46.4" r="2.5"/><circle cx="245.6" cy="93.3" r="2.5"/><circle cx="276.7" cy="80.6" r="2.5"/><circle cx="295.8" cy="46.1" r="2.5"/><circle cx="276.4" cy="77.8" r="2.5"/><circle cx="281.6" cy="69.7" r="2.5"/><circle cx="295.7" cy="46.3" r="2.5"/><circle cx="295.5" cy="41.5" r="2.5"/><circle cx="268.3" cy="79.8" r="2.5"/><circle cx="297.9" cy="41.7" r="2.5"/><circle cx="291.1" cy="74.2" r="2.5"/><circle cx="291.0" cy="44.8" r="2.5"/><circle cx="293.8" cy="69.8" r="2.5"/><circle cx="250.3" cy="93.3" r="2.5"/><circle cx="261.5" cy="75.7" r="2.5"/><circle cx="245.4" cy="91.3" r="2.5"/><circle cx="307.2" cy="46.5" r="2.5"/><circle cx="283.3" cy="74.3" r="2.5"/><circle cx="262.8" cy="89.6" r="2.5"/><circle cx="304.9" cy="54.2" r="2.5"/><circle cx="295.5" cy="46.3" r="2.5"/><circle cx="261.2" cy="87.9" r="2.5"/><circle cx="315.4" cy="29.6" r="2.5"/><circle cx="251.1" cy="91.2" r="2.5"/><circle cx="302.8" cy="52.1" r="2.5"/><circle cx="296.5" cy="47.1" r="2.5"/><circle cx="302.2" cy="56.6" r="2.5"/><circle cx="271.3" cy="82.1" r="2.5"/><circle cx="257.5" cy="94.1" r="2.5"/><circle cx="304.6" cy="42.6" r="2.5"/><circle cx="298.3" cy="65.0" r="2.5"/><circle cx="290.2" cy="49.0" r="2.5"/><circle cx="316.7" cy="33.2" r="2.5"/><circle cx="312.0" cy="37.2" r="2.5"/><circle cx="312.4" cy="49.0" r="2.5"/><circle cx="305.6" cy="33.8" r="2.5"/><circle cx="257.4" cy="82.0" r="2.5"/><circle cx="289.5" cy="69.5" r="2.5"/><circle cx="305.2" cy="57.2" r="2.5"/><circle cx="288.3" cy="57.6" r="2.5"/><circle cx="286.3" cy="62.4" r="2.5"/><circle cx="297.5" cy="69.4" r="2.5"/><circle cx="274.6" cy="70.5" r="2.5"/><circle cx="284.7" cy="52.9" r="2.5"/><circle cx="320.9" cy="35.4" r="2.5"/><circle cx="295.7" cy="47.9" r="2.5"/><circle cx="324.9" cy="26.1" r="2.5"/><circle cx="255.0" cy="84.1" r="2.5"/><circle cx="265.1" cy="82.0" r="2.5"/><circle cx="277.5" cy="63.6" r="2.5"/><circle cx="277.1" cy="62.2" r="2.5"/><circle cx="242.6" cy="94.0" r="2.5"/><circle cx="275.1" cy="83.5" r="2.5"/><circle cx="317.9" cy="31.7" r="2.5"/><circle cx="244.4" cy="95.0" r="2.5"/><circle cx="299.3" cy="55.2" r="2.5"/><circle cx="279.7" cy="67.0" r="2.5"/><circle cx="275.4" cy="68.2" r="2.5"/><circle cx="288.1" cy="54.9" r="2.5"/><circle cx="269.9" cy="73.7" r="2.5"/><circle cx="275.4" cy="84.4" r="2.5"/><circle cx="277.5" cy="60.8" r="2.5"/><circle cx="317.4" cy="39.5" r="2.5"/><circle cx="308.4" cy="40.2" r="2.5"/><circle cx="249.8" cy="90.8" r="2.5"/><circle cx="262.7" cy="87.2" r="2.5"/><circle cx="287.7" cy="43.6" r="2.5"/><circle cx="307.2" cy="52.3" r="2.5"/><circle cx="273.4" cy="75.7" r="2.5"/><circle cx="321.6" cy="35.8" r="2.5"/><circle cx="282.4" cy="74.6" r="2.5"/><circle cx="276.2" cy="58.7" r="2.5"/><circle cx="323.3" cy="28.3" r="2.5"/><circle cx="278.4" cy="72.2" r="2.5"/><circle cx="278.6" cy="59.6" r="2.5"/><circle cx="292.7" cy="65.9" r="2.5"/><circle cx="304.3" cy="58.1" r="2.5"/><circle cx="300.9" cy="52.4" r="2.5"/><circle cx="306.9" cy="29.7" r="2.5"/><circle cx="293.3" cy="45.3" r="2.5"/><circle cx="301.2" cy="35.7" r="2.5"/><circle cx="314.1" cy="36.3" r="2.5"/><circle cx="265.4" cy="80.6" r="2.5"/><circle cx="310.1" cy="43.6" r="2.5"/><circle cx="244.2" cy="94.3" r="2.5"/><circle cx="250.2" cy="94.7" r="2.5"/><circle cx="281.9" cy="64.1" r="2.5"/><circle cx="310.3" cy="41.3" r="2.5"/><circle cx="299.3" cy="57.6" r="2.5"/><circle cx="258.1" cy="86.4" r="2.5"/><circle cx="278.7" cy="64.6" r="2.5"/><circle cx="291.5" cy="65.5" r="2.5"/><circle cx="265.4" cy="91.7" r="2.5"/><circle cx="297.3" cy="55.9" r="2.5"/><circle cx="251.3" cy="89.4" r="2.5"/><circle cx="300.1" cy="48.6" r="2.5"/><circle cx="292.5" cy="49.7" r="2.5"/><circle cx="272.8" cy="78.0" r="2.5"/><circle cx="297.3" cy="61.6" r="2.5"/><circle cx="256.4" cy="89.8" r="2.5"/><circle cx="265.8" cy="86.2" r="2.5"/><circle cx="237.8" cy="104.3" r="2.5"/><circle cx="313.1" cy="32.2" r="2.5"/><circle cx="306.4" cy="41.1" r="2.5"/><circle cx="270.3" cy="68.5" r="2.5"/><circle cx="275.0" cy="75.7" r="2.5"/><circle cx="289.2" cy="56.2" r="2.5"/><circle cx="278.2" cy="55.5" r="2.5"/><circle cx="272.9" cy="72.3" r="2.5"/><circle cx="283.6" cy="53.0" r="2.5"/><circle cx="301.3" cy="48.9" r="2.5"/><circle cx="287.8" cy="58.7" r="2.5"/><circle cx="308.0" cy="42.2" r="2.5"/><circle cx="268.6" cy="81.8" r="2.5"/><circle cx="291.0" cy="66.0" r="2.5"/><circle cx="302.6" cy="52.7" r="2.5"/><circle cx="319.0" cy="35.2" r="2.5"/><circle cx="256.3" cy="80.9" r="2.5"/><circle cx="254.2" cy="89.9" r="2.5"/><circle cx="302.4" cy="52.6" r="2.5"/><circle cx="243.5" cy="99.0" r="2.5"/><circle cx="256.4" cy="92.3" r="2.5"/><circle cx="309.5" cy="35.2" r="2.5"/><circle cx="271.5" cy="75.4" r="2.5"/><circle cx="306.2" cy="30.8" r="2.5"/><circle cx="280.3" cy="64.5" r="2.5"/><circle cx="272.0" cy="80.7" r="2.5"/><circle cx="267.7" cy="72.8" r="2.5"/><circle cx="310.7" cy="38.9" r="2.5"/><circle cx="277.4" cy="59.1" r="2.5"/><circle cx="279.9" cy="56.9" r="2.5"/><circle cx="251.8" cy="97.9" r="2.5"/><circle cx="302.7" cy="52.7" r="2.5"/><circle cx="270.1" cy="71.0" r="2.5"/><circle cx="295.1" cy="45.4" r="2.5"/><circle cx="282.4" cy="71.0" r="2.5"/><circle cx="275.9" cy="68.5" r="2.5"/><circle cx="296.2" cy="69.2" r="2.5"/><circle cx="284.2" cy="64.0" r="2.5"/><circle cx="263.2" cy="81.4" r="2.5"/><circle cx="296.6" cy="43.2" r="2.5"/><circle cx="302.3" cy="49.2" r="2.5"/><circle cx="277.0" cy="54.5" r="2.5"/><circle cx="265.0" cy="76.6" r="2.5"/><circle cx="291.1" cy="59.8" r="2.5"/><circle cx="255.9" cy="96.3" r="2.5"/><circle cx="247.5" cy="96.8" r="2.5"/><circle cx="297.7" cy="64.6" r="2.5"/><circle cx="274.5" cy="75.4" r="2.5"/><circle cx="272.1" cy="69.9" r="2.5"/><circle cx="255.5" cy="87.7" r="2.5"/><circle cx="322.9" cy="31.2" r="2.5"/><circle cx="259.2" cy="81.7" r="2.5"/><circle cx="240.6" cy="98.7" r="2.5"/><circle cx="295.4" cy="49.2" r="2.5"/><circle cx="249.6" cy="99.6" r="2.5"/><circle cx="265.1" cy="83.4" r="2.5"/><circle cx="314.5" cy="38.1" r="2.5"/><circle cx="285.9" cy="67.0" r="2.5"/><circle cx="306.9" cy="53.9" r="2.5"/><circle cx="269.4" cy="73.2" r="2.5"/><circle cx="255.8" cy="90.8" r="2.5"/><circle cx="229.5" cy="99.9" r="2.5"/><circle cx="234.9" cy="97.3" r="2.5"/><circle cx="238.8" cy="96.2" r="2.5"/><circle cx="231.0" cy="113.6" r="2.5"/><circle cx="240.3" cy="105.0" r="2.5"/><circle cx="252.0" cy="108.9" r="2.5"/><circle cx="255.0" cy="105.8" r="2.5"/></g>
<line x1="207.55" y1="137.40" x2="336.65" y2="12.50" stroke="#2ab0e5" stroke-width="2.3"/>
</g>
<rect x="207.55" y="12.50" width="129.10" height="124.90" fill="none" stroke="#000" stroke-width="1.3"/>
<path d="M212.24 137.40v3.4M207.55 132.86h-3.4M230.65 137.40v3.4M207.55 115.06h-3.4M249.05 137.40v3.4M207.55 97.25h-3.4M267.45 137.40v3.4M207.55 79.45h-3.4M285.86 137.40v3.4M207.55 61.64h-3.4M304.26 137.40v3.4M207.55 43.84h-3.4M322.66 137.40v3.4M207.55 26.03h-3.4" stroke="#000" stroke-width="1.1" fill="none"/>
<text x="212.24" y="148.90" text-anchor="middle" font-size="9.5">220</text>
<text x="249.05" y="148.90" text-anchor="middle" font-size="9.5">260</text>
<text x="285.86" y="148.90" text-anchor="middle" font-size="9.5">300</text>
<text x="322.66" y="148.90" text-anchor="middle" font-size="9.5">340</text>
<text x="200.15" y="132.86" text-anchor="middle" font-size="9.5" transform="rotate(-90 200.15 132.86)">220</text>
<text x="200.15" y="97.25" text-anchor="middle" font-size="9.5" transform="rotate(-90 200.15 97.25)">260</text>
<text x="200.15" y="61.64" text-anchor="middle" font-size="9.5" transform="rotate(-90 200.15 61.64)">300</text>
<text x="200.15" y="26.03" text-anchor="middle" font-size="9.5" transform="rotate(-90 200.15 26.03)">340</text>
<text x="272.10" y="157.10" text-anchor="middle" font-size="10.4">μGS<tspan font-size="7" dy="2">end predicted</tspan></text>
<text x="184.35" y="74.95" text-anchor="middle" font-size="10.4" transform="rotate(-90 184.35 74.95)">μGS<tspan font-size="7" dy="2">end observed</tspan></text>
<text x="220.15" y="29.20" font-size="14" font-weight="bold">b</text>
<g font-size="7.7">
<text x="291.37" y="113.75">r = 0.922</text>
<text x="291.37" y="122.30">bias = −0.03</text>
<text x="291.37" y="131.35">rmse = 8.32</text>
</g>
<g clip-path="url(#cc)">
<g fill="rgb(105,232,160)" fill-opacity="0.55"><circle cx="427.8" cy="86.9" r="2.5"/><circle cx="431.9" cy="93.8" r="2.5"/><circle cx="422.2" cy="92.8" r="2.5"/><circle cx="465.2" cy="48.3" r="2.5"/><circle cx="495.0" cy="25.4" r="2.5"/><circle cx="480.5" cy="41.7" r="2.5"/><circle cx="478.2" cy="53.2" r="2.5"/><circle cx="487.6" cy="41.4" r="2.5"/><circle cx="467.0" cy="59.7" r="2.5"/><circle cx="467.8" cy="47.9" r="2.5"/><circle cx="499.6" cy="23.8" r="2.5"/><circle cx="477.5" cy="43.1" r="2.5"/><circle cx="446.5" cy="79.2" r="2.5"/><circle cx="436.2" cy="78.1" r="2.5"/><circle cx="443.1" cy="76.7" r="2.5"/><circle cx="442.1" cy="71.5" r="2.5"/><circle cx="499.4" cy="27.9" r="2.5"/><circle cx="466.4" cy="56.5" r="2.5"/><circle cx="428.4" cy="75.3" r="2.5"/><circle cx="421.9" cy="87.9" r="2.5"/><circle cx="500.0" cy="28.6" r="2.5"/><circle cx="498.0" cy="28.5" r="2.5"/><circle cx="474.7" cy="36.7" r="2.5"/><circle cx="455.8" cy="67.6" r="2.5"/><circle cx="441.1" cy="80.0" r="2.5"/><circle cx="474.0" cy="54.6" r="2.5"/><circle cx="448.7" cy="57.3" r="2.5"/><circle cx="434.7" cy="84.3" r="2.5"/><circle cx="461.1" cy="58.4" r="2.5"/><circle cx="456.2" cy="54.5" r="2.5"/><circle cx="422.6" cy="92.1" r="2.5"/><circle cx="443.4" cy="75.0" r="2.5"/><circle cx="437.0" cy="82.5" r="2.5"/><circle cx="456.8" cy="56.7" r="2.5"/><circle cx="412.8" cy="106.8" r="2.5"/><circle cx="426.5" cy="86.5" r="2.5"/><circle cx="471.4" cy="58.4" r="2.5"/><circle cx="438.4" cy="74.9" r="2.5"/><circle cx="423.0" cy="84.7" r="2.5"/><circle cx="467.3" cy="44.3" r="2.5"/><circle cx="492.0" cy="34.3" r="2.5"/><circle cx="421.1" cy="90.9" r="2.5"/><circle cx="439.4" cy="81.1" r="2.5"/><circle cx="479.7" cy="36.5" r="2.5"/><circle cx="453.1" cy="57.3" r="2.5"/><circle cx="449.2" cy="76.3" r="2.5"/><circle cx="475.4" cy="57.0" r="2.5"/><circle cx="486.0" cy="21.5" r="2.5"/><circle cx="456.6" cy="69.2" r="2.5"/><circle cx="471.7" cy="39.5" r="2.5"/><circle cx="422.2" cy="93.4" r="2.5"/><circle cx="470.9" cy="43.3" r="2.5"/><circle cx="472.9" cy="56.8" r="2.5"/><circle cx="459.6" cy="54.4" r="2.5"/><circle cx="477.4" cy="40.2" r="2.5"/><circle cx="421.9" cy="93.5" r="2.5"/><circle cx="440.8" cy="88.9" r="2.5"/><circle cx="437.4" cy="92.2" r="2.5"/><circle cx="424.1" cy="90.9" r="2.5"/><circle cx="426.6" cy="100.6" r="2.5"/><circle cx="419.6" cy="94.4" r="2.5"/><circle cx="427.7" cy="80.1" r="2.5"/><circle cx="473.0" cy="43.7" r="2.5"/><circle cx="476.0" cy="51.1" r="2.5"/><circle cx="448.1" cy="59.8" r="2.5"/><circle cx="476.3" cy="51.1" r="2.5"/><circle cx="447.6" cy="68.0" r="2.5"/><circle cx="459.2" cy="75.5" r="2.5"/><circle cx="443.6" cy="80.0" r="2.5"/><circle cx="454.7" cy="62.4" r="2.5"/><circle cx="439.7" cy="72.1" r="2.5"/><circle cx="461.2" cy="62.1" r="2.5"/><circle cx="436.8" cy="72.0" r="2.5"/><circle cx="435.9" cy="87.5" r="2.5"/><circle cx="462.9" cy="57.0" r="2.5"/><circle cx="437.9" cy="90.6" r="2.5"/><circle cx="473.1" cy="59.1" r="2.5"/><circle cx="433.2" cy="86.7" r="2.5"/><circle cx="428.1" cy="82.2" r="2.5"/><circle cx="421.7" cy="95.8" r="2.5"/><circle cx="474.1" cy="49.1" r="2.5"/><circle cx="448.5" cy="66.3" r="2.5"/><circle cx="430.8" cy="91.9" r="2.5"/><circle cx="473.2" cy="42.9" r="2.5"/><circle cx="453.4" cy="75.8" r="2.5"/><circle cx="435.2" cy="89.0" r="2.5"/><circle cx="458.1" cy="67.1" r="2.5"/><circle cx="436.5" cy="77.6" r="2.5"/><circle cx="420.9" cy="87.3" r="2.5"/><circle cx="487.4" cy="27.9" r="2.5"/><circle cx="496.3" cy="36.1" r="2.5"/><circle cx="479.8" cy="45.6" r="2.5"/><circle cx="482.3" cy="39.1" r="2.5"/><circle cx="472.5" cy="58.1" r="2.5"/><circle cx="494.7" cy="25.1" r="2.5"/><circle cx="441.5" cy="81.3" r="2.5"/><circle cx="481.0" cy="40.9" r="2.5"/><circle cx="475.2" cy="45.3" r="2.5"/><circle cx="433.6" cy="89.9" r="2.5"/><circle cx="490.3" cy="22.4" r="2.5"/><circle cx="451.2" cy="71.6" r="2.5"/><circle cx="472.7" cy="44.3" r="2.5"/><circle cx="435.6" cy="84.1" r="2.5"/><circle cx="415.9" cy="96.1" r="2.5"/><circle cx="472.3" cy="53.6" r="2.5"/><circle cx="451.3" cy="70.4" r="2.5"/><circle cx="472.3" cy="48.7" r="2.5"/><circle cx="412.9" cy="99.3" r="2.5"/><circle cx="476.4" cy="43.4" r="2.5"/><circle cx="456.2" cy="64.9" r="2.5"/><circle cx="492.5" cy="22.0" r="2.5"/><circle cx="455.4" cy="80.4" r="2.5"/><circle cx="419.7" cy="92.5" r="2.5"/><circle cx="440.7" cy="75.9" r="2.5"/><circle cx="460.1" cy="76.4" r="2.5"/><circle cx="475.6" cy="44.4" r="2.5"/><circle cx="451.8" cy="62.5" r="2.5"/><circle cx="490.5" cy="23.6" r="2.5"/><circle cx="496.9" cy="24.5" r="2.5"/><circle cx="458.4" cy="64.4" r="2.5"/><circle cx="480.4" cy="44.9" r="2.5"/><circle cx="427.0" cy="90.2" r="2.5"/><circle cx="464.6" cy="67.0" r="2.5"/><circle cx="492.4" cy="25.2" r="2.5"/><circle cx="452.5" cy="58.8" r="2.5"/><circle cx="432.8" cy="87.5" r="2.5"/><circle cx="454.6" cy="75.8" r="2.5"/><circle cx="442.7" cy="66.6" r="2.5"/><circle cx="416.9" cy="99.6" r="2.5"/><circle cx="436.6" cy="70.2" r="2.5"/><circle cx="451.9" cy="86.5" r="2.5"/><circle cx="441.2" cy="67.9" r="2.5"/><circle cx="474.6" cy="38.7" r="2.5"/><circle cx="428.5" cy="83.4" r="2.5"/><circle cx="456.8" cy="71.8" r="2.5"/><circle cx="446.8" cy="68.1" r="2.5"/><circle cx="487.5" cy="35.4" r="2.5"/><circle cx="487.4" cy="32.4" r="2.5"/><circle cx="426.8" cy="89.6" r="2.5"/><circle cx="445.1" cy="71.9" r="2.5"/><circle cx="476.3" cy="40.6" r="2.5"/><circle cx="424.2" cy="94.9" r="2.5"/><circle cx="458.2" cy="73.3" r="2.5"/><circle cx="420.1" cy="93.5" r="2.5"/><circle cx="433.1" cy="81.5" r="2.5"/><circle cx="437.6" cy="66.2" r="2.5"/><circle cx="477.0" cy="57.1" r="2.5"/><circle cx="478.2" cy="42.6" r="2.5"/><circle cx="455.2" cy="72.2" r="2.5"/><circle cx="484.0" cy="33.4" r="2.5"/><circle cx="474.4" cy="46.2" r="2.5"/><circle cx="441.7" cy="78.7" r="2.5"/><circle cx="437.0" cy="83.6" r="2.5"/><circle cx="471.8" cy="64.9" r="2.5"/><circle cx="498.9" cy="17.9" r="2.5"/><circle cx="472.1" cy="44.6" r="2.5"/><circle cx="476.9" cy="58.1" r="2.5"/><circle cx="499.4" cy="18.8" r="2.5"/><circle cx="482.2" cy="39.0" r="2.5"/><circle cx="452.1" cy="78.6" r="2.5"/><circle cx="492.4" cy="24.0" r="2.5"/><circle cx="446.1" cy="74.3" r="2.5"/><circle cx="442.3" cy="83.6" r="2.5"/><circle cx="463.5" cy="76.7" r="2.5"/><circle cx="466.7" cy="52.9" r="2.5"/><circle cx="436.9" cy="81.3" r="2.5"/><circle cx="480.4" cy="48.0" r="2.5"/><circle cx="470.8" cy="48.3" r="2.5"/><circle cx="458.6" cy="61.5" r="2.5"/><circle cx="462.7" cy="66.5" r="2.5"/><circle cx="447.2" cy="68.3" r="2.5"/><circle cx="496.8" cy="21.6" r="2.5"/><circle cx="452.4" cy="78.1" r="2.5"/><circle cx="418.4" cy="101.0" r="2.5"/><circle cx="436.6" cy="74.0" r="2.5"/><circle cx="487.3" cy="42.8" r="2.5"/><circle cx="490.4" cy="23.7" r="2.5"/><circle cx="484.3" cy="42.9" r="2.5"/><circle cx="467.8" cy="64.4" r="2.5"/><circle cx="486.5" cy="38.5" r="2.5"/><circle cx="456.0" cy="63.8" r="2.5"/><circle cx="485.0" cy="42.2" r="2.5"/><circle cx="452.8" cy="72.9" r="2.5"/><circle cx="430.9" cy="88.6" r="2.5"/><circle cx="430.6" cy="78.2" r="2.5"/><circle cx="466.8" cy="42.1" r="2.5"/><circle cx="467.1" cy="47.0" r="2.5"/><circle cx="440.5" cy="76.2" r="2.5"/><circle cx="473.5" cy="50.1" r="2.5"/><circle cx="451.0" cy="68.8" r="2.5"/><circle cx="437.7" cy="73.3" r="2.5"/><circle cx="467.9" cy="41.8" r="2.5"/><circle cx="475.2" cy="59.9" r="2.5"/><circle cx="484.1" cy="27.3" r="2.5"/><circle cx="470.4" cy="56.8" r="2.5"/><circle cx="467.3" cy="42.9" r="2.5"/><circle cx="437.6" cy="86.4" r="2.5"/><circle cx="469.4" cy="52.3" r="2.5"/><circle cx="465.5" cy="67.6" r="2.5"/><circle cx="476.7" cy="45.5" r="2.5"/><circle cx="425.0" cy="83.8" r="2.5"/><circle cx="433.8" cy="79.4" r="2.5"/><circle cx="443.0" cy="75.4" r="2.5"/><circle cx="481.4" cy="39.7" r="2.5"/><circle cx="428.1" cy="84.7" r="2.5"/><circle cx="483.6" cy="30.2" r="2.5"/><circle cx="438.4" cy="72.0" r="2.5"/><circle cx="429.1" cy="86.4" r="2.5"/><circle cx="465.7" cy="56.9" r="2.5"/><circle cx="427.8" cy="87.1" r="2.5"/><circle cx="454.2" cy="68.8" r="2.5"/><circle cx="466.1" cy="43.7" r="2.5"/><circle cx="477.7" cy="50.4" r="2.5"/><circle cx="483.6" cy="37.0" r="2.5"/><circle cx="426.9" cy="91.8" r="2.5"/><circle cx="441.7" cy="79.8" r="2.5"/><circle cx="440.7" cy="67.3" r="2.5"/><circle cx="490.1" cy="34.8" r="2.5"/><circle cx="419.6" cy="95.8" r="2.5"/><circle cx="425.9" cy="96.7" r="2.5"/><circle cx="458.3" cy="54.5" r="2.5"/><circle cx="466.5" cy="52.6" r="2.5"/><circle cx="465.0" cy="52.9" r="2.5"/><circle cx="435.9" cy="78.1" r="2.5"/><circle cx="471.5" cy="59.2" r="2.5"/><circle cx="432.3" cy="80.9" r="2.5"/><circle cx="474.1" cy="48.8" r="2.5"/><circle cx="459.4" cy="67.3" r="2.5"/><circle cx="430.2" cy="80.1" r="2.5"/><circle cx="423.2" cy="86.9" r="2.5"/><circle cx="445.3" cy="71.7" r="2.5"/><circle cx="462.9" cy="54.3" r="2.5"/><circle cx="422.4" cy="85.8" r="2.5"/><circle cx="414.1" cy="102.8" r="2.5"/><circle cx="446.7" cy="67.0" r="2.5"/><circle cx="484.1" cy="25.0" r="2.5"/><circle cx="417.5" cy="93.1" r="2.5"/><circle cx="454.9" cy="64.1" r="2.5"/><circle cx="439.8" cy="83.9" r="2.5"/><circle cx="440.9" cy="71.1" r="2.5"/><circle cx="481.3" cy="41.6" r="2.5"/><circle cx="431.1" cy="87.0" r="2.5"/><circle cx="438.7" cy="72.9" r="2.5"/><circle cx="491.0" cy="29.5" r="2.5"/><circle cx="449.7" cy="72.0" r="2.5"/><circle cx="446.5" cy="77.2" r="2.5"/><circle cx="454.2" cy="69.8" r="2.5"/><circle cx="439.9" cy="81.0" r="2.5"/><circle cx="441.5" cy="75.2" r="2.5"/><circle cx="455.0" cy="55.5" r="2.5"/><circle cx="420.9" cy="96.6" r="2.5"/><circle cx="483.0" cy="38.3" r="2.5"/><circle cx="452.8" cy="69.7" r="2.5"/><circle cx="427.7" cy="94.0" r="2.5"/><circle cx="419.7" cy="90.2" r="2.5"/><circle cx="473.6" cy="50.0" r="2.5"/><circle cx="429.4" cy="89.0" r="2.5"/><circle cx="418.7" cy="99.1" r="2.5"/><circle cx="437.1" cy="86.2" r="2.5"/><circle cx="472.8" cy="55.1" r="2.5"/><circle cx="474.4" cy="52.5" r="2.5"/><circle cx="460.4" cy="62.6" r="2.5"/><circle cx="437.4" cy="85.2" r="2.5"/><circle cx="489.6" cy="47.3" r="2.5"/><circle cx="445.6" cy="65.3" r="2.5"/><circle cx="440.8" cy="74.3" r="2.5"/><circle cx="493.3" cy="30.1" r="2.5"/><circle cx="452.6" cy="64.4" r="2.5"/><circle cx="466.9" cy="43.7" r="2.5"/><circle cx="451.3" cy="80.5" r="2.5"/><circle cx="470.7" cy="43.3" r="2.5"/><circle cx="460.4" cy="50.5" r="2.5"/><circle cx="448.2" cy="72.8" r="2.5"/><circle cx="471.4" cy="51.5" r="2.5"/><circle cx="490.3" cy="29.2" r="2.5"/><circle cx="478.5" cy="42.0" r="2.5"/><circle cx="468.1" cy="61.9" r="2.5"/><circle cx="441.1" cy="70.5" r="2.5"/><circle cx="448.9" cy="66.0" r="2.5"/><circle cx="419.9" cy="93.1" r="2.5"/><circle cx="465.5" cy="55.6" r="2.5"/><circle cx="478.1" cy="34.8" r="2.5"/><circle cx="430.8" cy="95.1" r="2.5"/><circle cx="460.3" cy="68.0" r="2.5"/><circle cx="443.1" cy="71.3" r="2.5"/><circle cx="480.9" cy="48.1" r="2.5"/><circle cx="463.3" cy="66.5" r="2.5"/><circle cx="430.9" cy="88.6" r="2.5"/><circle cx="464.5" cy="69.4" r="2.5"/><circle cx="450.7" cy="68.5" r="2.5"/><circle cx="454.3" cy="63.4" r="2.5"/><circle cx="436.5" cy="80.6" r="2.5"/><circle cx="429.9" cy="88.9" r="2.5"/><circle cx="414.1" cy="91.1" r="2.5"/><circle cx="428.4" cy="85.4" r="2.5"/><circle cx="456.4" cy="82.2" r="2.5"/><circle cx="458.6" cy="62.0" r="2.5"/><circle cx="475.9" cy="35.6" r="2.5"/><circle cx="449.6" cy="68.5" r="2.5"/><circle cx="412.1" cy="104.9" r="2.5"/><circle cx="427.9" cy="91.8" r="2.5"/><circle cx="484.6" cy="32.7" r="2.5"/><circle cx="483.1" cy="37.2" r="2.5"/><circle cx="480.8" cy="42.9" r="2.5"/><circle cx="500.1" cy="24.7" r="2.5"/><circle cx="430.0" cy="85.6" r="2.5"/><circle cx="427.2" cy="88.7" r="2.5"/><circle cx="437.3" cy="82.4" r="2.5"/><circle cx="480.0" cy="35.7" r="2.5"/><circle cx="427.5" cy="82.3" r="2.5"/><circle cx="432.8" cy="93.6" r="2.5"/><circle cx="465.2" cy="65.3" r="2.5"/><circle cx="460.8" cy="68.3" r="2.5"/><circle cx="417.8" cy="100.0" r="2.5"/><circle cx="476.8" cy="46.6" r="2.5"/><circle cx="468.6" cy="55.6" r="2.5"/><circle cx="420.3" cy="96.0" r="2.5"/><circle cx="475.0" cy="58.3" r="2.5"/><circle cx="427.6" cy="85.9" r="2.5"/><circle cx="448.3" cy="76.4" r="2.5"/><circle cx="481.9" cy="27.9" r="2.5"/><circle cx="459.5" cy="68.2" r="2.5"/><circle cx="462.9" cy="62.4" r="2.5"/><circle cx="462.4" cy="57.8" r="2.5"/><circle cx="476.5" cy="37.0" r="2.5"/><circle cx="439.3" cy="82.8" r="2.5"/><circle cx="455.7" cy="72.9" r="2.5"/><circle cx="436.9" cy="71.2" r="2.5"/><circle cx="423.7" cy="95.7" r="2.5"/><circle cx="464.9" cy="60.7" r="2.5"/><circle cx="480.2" cy="42.9" r="2.5"/><circle cx="474.9" cy="55.1" r="2.5"/><circle cx="478.1" cy="47.3" r="2.5"/><circle cx="500.0" cy="24.9" r="2.5"/><circle cx="487.9" cy="39.2" r="2.5"/><circle cx="470.7" cy="60.5" r="2.5"/><circle cx="422.5" cy="95.2" r="2.5"/><circle cx="480.3" cy="44.2" r="2.5"/><circle cx="422.0" cy="87.4" r="2.5"/><circle cx="461.8" cy="62.2" r="2.5"/><circle cx="465.6" cy="65.7" r="2.5"/><circle cx="460.9" cy="73.2" r="2.5"/><circle cx="465.1" cy="64.0" r="2.5"/><circle cx="440.9" cy="83.1" r="2.5"/><circle cx="447.2" cy="68.2" r="2.5"/><circle cx="440.6" cy="79.7" r="2.5"/><circle cx="472.4" cy="59.3" r="2.5"/><circle cx="472.6" cy="44.9" r="2.5"/><circle cx="467.8" cy="41.5" r="2.5"/><circle cx="470.4" cy="52.0" r="2.5"/><circle cx="462.8" cy="70.2" r="2.5"/><circle cx="485.9" cy="36.0" r="2.5"/><circle cx="454.6" cy="82.0" r="2.5"/><circle cx="475.8" cy="37.6" r="2.5"/><circle cx="445.5" cy="76.7" r="2.5"/><circle cx="461.7" cy="60.8" r="2.5"/><circle cx="426.5" cy="95.2" r="2.5"/><circle cx="481.9" cy="32.6" r="2.5"/><circle cx="434.2" cy="80.1" r="2.5"/><circle cx="468.2" cy="66.0" r="2.5"/><circle cx="424.3" cy="100.9" r="2.5"/><circle cx="458.4" cy="58.8" r="2.5"/><circle cx="481.2" cy="51.1" r="2.5"/><circle cx="488.4" cy="27.1" r="2.5"/><circle cx="422.3" cy="100.7" r="2.5"/><circle cx="460.8" cy="49.6" r="2.5"/><circle cx="461.5" cy="47.8" r="2.5"/><circle cx="444.0" cy="73.3" r="2.5"/><circle cx="428.9" cy="91.6" r="2.5"/><circle cx="465.0" cy="48.7" r="2.5"/><circle cx="424.3" cy="92.7" r="2.5"/><circle cx="452.1" cy="64.4" r="2.5"/><circle cx="419.2" cy="83.8" r="2.5"/><circle cx="487.5" cy="33.2" r="2.5"/><circle cx="487.9" cy="27.2" r="2.5"/><circle cx="490.6" cy="38.3" r="2.5"/><circle cx="443.7" cy="81.2" r="2.5"/><circle cx="419.6" cy="105.7" r="2.5"/><circle cx="426.6" cy="87.9" r="2.5"/><circle cx="419.2" cy="101.2" r="2.5"/><circle cx="481.1" cy="34.0" r="2.5"/><circle cx="438.9" cy="79.9" r="2.5"/><circle cx="434.1" cy="82.0" r="2.5"/><circle cx="477.8" cy="36.6" r="2.5"/><circle cx="466.2" cy="46.1" r="2.5"/><circle cx="499.0" cy="24.1" r="2.5"/><circle cx="437.7" cy="80.4" r="2.5"/><circle cx="440.6" cy="78.7" r="2.5"/><circle cx="430.6" cy="79.1" r="2.5"/><circle cx="469.8" cy="51.4" r="2.5"/><circle cx="442.2" cy="68.8" r="2.5"/><circle cx="427.9" cy="85.2" r="2.5"/><circle cx="484.0" cy="35.4" r="2.5"/><circle cx="440.6" cy="82.8" r="2.5"/><circle cx="478.9" cy="31.0" r="2.5"/><circle cx="452.6" cy="56.9" r="2.5"/><circle cx="435.0" cy="80.5" r="2.5"/><circle cx="428.8" cy="85.9" r="2.5"/><circle cx="483.9" cy="27.1" r="2.5"/><circle cx="438.1" cy="74.8" r="2.5"/><circle cx="471.4" cy="52.6" r="2.5"/><circle cx="462.4" cy="67.6" r="2.5"/><circle cx="453.3" cy="80.0" r="2.5"/><circle cx="419.7" cy="94.7" r="2.5"/><circle cx="493.4" cy="38.4" r="2.5"/><circle cx="417.3" cy="98.1" r="2.5"/><circle cx="458.8" cy="66.1" r="2.5"/><circle cx="419.8" cy="98.7" r="2.5"/><circle cx="453.4" cy="67.1" r="2.5"/><circle cx="420.1" cy="97.1" r="2.5"/><circle cx="433.6" cy="77.3" r="2.5"/><circle cx="419.3" cy="93.2" r="2.5"/><circle cx="466.5" cy="53.3" r="2.5"/><circle cx="422.2" cy="91.5" r="2.5"/><circle cx="469.3" cy="58.1" r="2.5"/><circle cx="486.6" cy="33.7" r="2.5"/><circle cx="455.0" cy="60.3" r="2.5"/><circle cx="442.4" cy="83.3" r="2.5"/><circle cx="469.8" cy="42.5" r="2.5"/><circle cx="442.2" cy="76.4" r="2.5"/><circle cx="435.5" cy="86.5" r="2.5"/><circle cx="432.8" cy="78.9" r="2.5"/><circle cx="484.8" cy="46.5" r="2.5"/><circle cx="420.3" cy="99.4" r="2.5"/><circle cx="445.8" cy="75.7" r="2.5"/><circle cx="486.1" cy="25.3" r="2.5"/><circle cx="442.4" cy="78.1" r="2.5"/><circle cx="461.0" cy="68.4" r="2.5"/><circle cx="482.1" cy="45.8" r="2.5"/><circle cx="441.7" cy="87.1" r="2.5"/><circle cx="453.0" cy="52.7" r="2.5"/><circle cx="454.8" cy="70.8" r="2.5"/><circle cx="422.8" cy="92.0" r="2.5"/><circle cx="437.7" cy="71.5" r="2.5"/><circle cx="454.9" cy="75.6" r="2.5"/><circle cx="485.7" cy="32.5" r="2.5"/><circle cx="413.4" cy="98.1" r="2.5"/><circle cx="461.9" cy="50.5" r="2.5"/><circle cx="442.2" cy="81.6" r="2.5"/><circle cx="453.0" cy="54.9" r="2.5"/><circle cx="430.0" cy="89.0" r="2.5"/><circle cx="421.2" cy="86.3" r="2.5"/><circle cx="482.2" cy="35.0" r="2.5"/><circle cx="458.0" cy="56.8" r="2.5"/><circle cx="429.6" cy="87.7" r="2.5"/><circle cx="443.0" cy="77.3" r="2.5"/><circle cx="452.6" cy="61.7" r="2.5"/><circle cx="445.0" cy="78.1" r="2.5"/><circle cx="473.5" cy="41.6" r="2.5"/><circle cx="475.3" cy="63.5" r="2.5"/><circle cx="498.7" cy="26.1" r="2.5"/><circle cx="491.8" cy="32.6" r="2.5"/><circle cx="489.2" cy="20.2" r="2.5"/><circle cx="464.7" cy="55.4" r="2.5"/><circle cx="445.4" cy="84.8" r="2.5"/><circle cx="447.1" cy="74.0" r="2.5"/><circle cx="468.2" cy="63.9" r="2.5"/><circle cx="419.6" cy="104.5" r="2.5"/><circle cx="436.6" cy="69.1" r="2.5"/><circle cx="430.5" cy="89.7" r="2.5"/><circle cx="496.9" cy="25.2" r="2.5"/><circle cx="457.1" cy="70.1" r="2.5"/><circle cx="474.1" cy="53.7" r="2.5"/><circle cx="477.9" cy="54.0" r="2.5"/><circle cx="494.9" cy="39.5" r="2.5"/><circle cx="458.0" cy="68.7" r="2.5"/><circle cx="462.6" cy="53.8" r="2.5"/><circle cx="435.2" cy="84.4" r="2.5"/><circle cx="434.0" cy="89.1" r="2.5"/><circle cx="446.0" cy="77.9" r="2.5"/><circle cx="398.9" cy="105.0" r="2.5"/><circle cx="395.8" cy="121.3" r="2.5"/><circle cx="414.1" cy="122.1" r="2.5"/><circle cx="407.5" cy="112.0" r="2.5"/><circle cx="405.9" cy="97.8" r="2.5"/><circle cx="409.8" cy="96.5" r="2.5"/><circle cx="477.6" cy="21.3" r="2.5"/></g>
<line x1="378.80" y1="137.40" x2="507.90" y2="12.50" stroke="#2ab0e5" stroke-width="2.3"/>
</g>
<rect x="378.80" y="12.50" width="129.10" height="124.90" fill="none" stroke="#000" stroke-width="1.3"/>
<path d="M383.65 137.40v3.4M378.80 132.71h-3.4M410.79 137.40v3.4M378.80 106.45h-3.4M437.93 137.40v3.4M378.80 80.19h-3.4M465.07 137.40v3.4M378.80 53.94h-3.4M492.21 137.40v3.4M378.80 27.68h-3.4" stroke="#000" stroke-width="1.1" fill="none"/>
<text x="383.65" y="148.90" text-anchor="middle" font-size="9.5">50</text>
<text x="410.79" y="148.90" text-anchor="middle" font-size="9.5">100</text>
<text x="437.93" y="148.90" text-anchor="middle" font-size="9.5">150</text>
<text x="465.07" y="148.90" text-anchor="middle" font-size="9.5">200</text>
<text x="492.21" y="148.90" text-anchor="middle" font-size="9.5">250</text>
<text x="371.40" y="132.71" text-anchor="middle" font-size="9.5" transform="rotate(-90 371.40 132.71)">50</text>
<text x="371.40" y="106.45" text-anchor="middle" font-size="9.5" transform="rotate(-90 371.40 106.45)">100</text>
<text x="371.40" y="80.19" text-anchor="middle" font-size="9.5" transform="rotate(-90 371.40 80.19)">150</text>
<text x="371.40" y="53.94" text-anchor="middle" font-size="9.5" transform="rotate(-90 371.40 53.94)">200</text>
<text x="371.40" y="27.68" text-anchor="middle" font-size="9.5" transform="rotate(-90 371.40 27.68)">250</text>
<text x="443.35" y="157.10" text-anchor="middle" font-size="10.4">μGS<tspan font-size="7" dy="2">len predicted</tspan></text>
<text x="355.60" y="74.95" text-anchor="middle" font-size="10.4" transform="rotate(-90 355.60 74.95)">μGS<tspan font-size="7" dy="2">len observed</tspan></text>
<text x="391.40" y="29.20" font-size="14" font-weight="bold">c</text>
<g font-size="7.7">
<text x="455.56" y="113.75">r = 0.937</text>
<text x="455.56" y="122.30">bias = −0.031</text>
<text x="455.56" y="131.35">rmse = 13.586</text>
</g>
<g clip-path="url(#cd)">
<g fill="rgb(105,232,160)" fill-opacity="0.55"><circle cx="660.2" cy="29.6" r="2.5"/><circle cx="638.1" cy="37.4" r="2.5"/><circle cx="633.4" cy="45.5" r="2.5"/><circle cx="603.8" cy="89.9" r="2.5"/><circle cx="626.9" cy="74.1" r="2.5"/><circle cx="661.3" cy="37.7" r="2.5"/><circle cx="598.8" cy="86.9" r="2.5"/><circle cx="604.9" cy="80.0" r="2.5"/><circle cx="663.1" cy="40.5" r="2.5"/><circle cx="616.4" cy="78.4" r="2.5"/><circle cx="649.4" cy="52.1" r="2.5"/><circle cx="600.9" cy="89.5" r="2.5"/><circle cx="633.5" cy="73.9" r="2.5"/><circle cx="577.6" cy="98.8" r="2.5"/><circle cx="660.8" cy="32.7" r="2.5"/><circle cx="597.9" cy="83.6" r="2.5"/><circle cx="640.6" cy="44.3" r="2.5"/><circle cx="644.6" cy="52.1" r="2.5"/><circle cx="630.8" cy="53.0" r="2.5"/><circle cx="638.6" cy="58.9" r="2.5"/><circle cx="616.6" cy="84.2" r="2.5"/><circle cx="601.0" cy="78.5" r="2.5"/><circle cx="589.7" cy="94.2" r="2.5"/><circle cx="649.8" cy="56.2" r="2.5"/><circle cx="644.6" cy="52.6" r="2.5"/><circle cx="623.1" cy="64.2" r="2.5"/><circle cx="611.2" cy="84.1" r="2.5"/><circle cx="628.6" cy="67.9" r="2.5"/><circle cx="666.9" cy="33.4" r="2.5"/><circle cx="599.3" cy="89.2" r="2.5"/><circle cx="645.6" cy="65.4" r="2.5"/><circle cx="636.4" cy="53.3" r="2.5"/><circle cx="652.1" cy="43.5" r="2.5"/><circle cx="627.4" cy="73.6" r="2.5"/><circle cx="621.6" cy="74.9" r="2.5"/><circle cx="601.7" cy="86.4" r="2.5"/><circle cx="644.9" cy="42.3" r="2.5"/><circle cx="652.0" cy="34.5" r="2.5"/><circle cx="644.5" cy="41.4" r="2.5"/><circle cx="597.2" cy="88.0" r="2.5"/><circle cx="631.3" cy="62.1" r="2.5"/><circle cx="581.4" cy="103.6" r="2.5"/><circle cx="602.2" cy="78.9" r="2.5"/><circle cx="630.7" cy="56.5" r="2.5"/><circle cx="591.1" cy="95.8" r="2.5"/><circle cx="586.6" cy="96.5" r="2.5"/><circle cx="650.0" cy="44.5" r="2.5"/><circle cx="608.2" cy="81.3" r="2.5"/><circle cx="609.7" cy="87.9" r="2.5"/><circle cx="608.7" cy="86.8" r="2.5"/><circle cx="649.6" cy="40.8" r="2.5"/><circle cx="651.5" cy="40.1" r="2.5"/><circle cx="633.8" cy="62.3" r="2.5"/><circle cx="633.0" cy="67.1" r="2.5"/><circle cx="580.2" cy="106.8" r="2.5"/><circle cx="623.2" cy="70.8" r="2.5"/><circle cx="663.3" cy="29.5" r="2.5"/><circle cx="574.7" cy="107.7" r="2.5"/><circle cx="653.6" cy="41.9" r="2.5"/><circle cx="612.3" cy="75.2" r="2.5"/><circle cx="629.1" cy="79.4" r="2.5"/><circle cx="589.1" cy="95.3" r="2.5"/><circle cx="581.4" cy="106.0" r="2.5"/><circle cx="632.8" cy="53.1" r="2.5"/><circle cx="659.2" cy="33.1" r="2.5"/><circle cx="645.5" cy="50.5" r="2.5"/><circle cx="642.8" cy="54.4" r="2.5"/><circle cx="614.4" cy="71.7" r="2.5"/><circle cx="599.0" cy="84.8" r="2.5"/><circle cx="644.1" cy="48.6" r="2.5"/><circle cx="646.5" cy="42.5" r="2.5"/><circle cx="651.3" cy="44.1" r="2.5"/><circle cx="635.7" cy="51.9" r="2.5"/><circle cx="638.6" cy="44.1" r="2.5"/><circle cx="605.8" cy="84.3" r="2.5"/><circle cx="656.8" cy="39.8" r="2.5"/><circle cx="596.3" cy="89.8" r="2.5"/><circle cx="667.6" cy="24.0" r="2.5"/><circle cx="598.0" cy="85.8" r="2.5"/><circle cx="634.2" cy="73.6" r="2.5"/><circle cx="631.6" cy="62.3" r="2.5"/><circle cx="624.2" cy="79.4" r="2.5"/><circle cx="600.9" cy="88.0" r="2.5"/><circle cx="584.4" cy="97.5" r="2.5"/><circle cx="650.2" cy="42.7" r="2.5"/><circle cx="620.1" cy="85.0" r="2.5"/><circle cx="615.5" cy="82.5" r="2.5"/><circle cx="625.5" cy="54.0" r="2.5"/><circle cx="627.0" cy="53.5" r="2.5"/><circle cx="619.4" cy="71.5" r="2.5"/><circle cx="598.7" cy="84.4" r="2.5"/><circle cx="621.1" cy="70.1" r="2.5"/><circle cx="587.4" cy="95.6" r="2.5"/><circle cx="614.4" cy="82.5" r="2.5"/><circle cx="645.5" cy="42.9" r="2.5"/><circle cx="640.5" cy="38.9" r="2.5"/><circle cx="614.4" cy="68.2" r="2.5"/><circle cx="634.4" cy="67.9" r="2.5"/><circle cx="669.7" cy="26.9" r="2.5"/><circle cx="622.4" cy="83.5" r="2.5"/><circle cx="629.7" cy="61.7" r="2.5"/><circle cx="611.8" cy="74.3" r="2.5"/><circle cx="630.4" cy="43.9" r="2.5"/><circle cx="636.0" cy="66.6" r="2.5"/><circle cx="599.9" cy="91.4" r="2.5"/><circle cx="640.1" cy="57.8" r="2.5"/><circle cx="620.2" cy="85.8" r="2.5"/><circle cx="576.1" cy="102.5" r="2.5"/><circle cx="620.4" cy="87.4" r="2.5"/><circle cx="592.3" cy="91.4" r="2.5"/><circle cx="653.8" cy="39.5" r="2.5"/><circle cx="615.6" cy="83.8" r="2.5"/><circle cx="636.2" cy="58.1" r="2.5"/><circle cx="635.1" cy="56.2" r="2.5"/><circle cx="612.5" cy="70.5" r="2.5"/><circle cx="612.6" cy="85.6" r="2.5"/><circle cx="587.9" cy="92.3" r="2.5"/><circle cx="620.4" cy="76.4" r="2.5"/><circle cx="584.1" cy="97.5" r="2.5"/><circle cx="599.7" cy="85.2" r="2.5"/><circle cx="658.6" cy="33.6" r="2.5"/><circle cx="625.5" cy="80.8" r="2.5"/><circle cx="641.2" cy="45.9" r="2.5"/><circle cx="649.6" cy="54.6" r="2.5"/><circle cx="604.4" cy="90.1" r="2.5"/><circle cx="645.5" cy="58.1" r="2.5"/><circle cx="618.2" cy="63.8" r="2.5"/><circle cx="606.9" cy="82.2" r="2.5"/><circle cx="579.2" cy="107.1" r="2.5"/><circle cx="629.4" cy="74.0" r="2.5"/><circle cx="663.6" cy="35.5" r="2.5"/><circle cx="624.9" cy="59.6" r="2.5"/><circle cx="607.7" cy="84.6" r="2.5"/><circle cx="640.4" cy="67.1" r="2.5"/><circle cx="590.0" cy="95.5" r="2.5"/><circle cx="652.5" cy="33.7" r="2.5"/><circle cx="657.4" cy="36.5" r="2.5"/><circle cx="665.9" cy="30.6" r="2.5"/><circle cx="640.5" cy="54.7" r="2.5"/><circle cx="619.2" cy="64.0" r="2.5"/><circle cx="622.7" cy="81.5" r="2.5"/><circle cx="597.6" cy="90.1" r="2.5"/><circle cx="606.1" cy="90.9" r="2.5"/><circle cx="645.4" cy="38.9" r="2.5"/><circle cx="619.5" cy="61.6" r="2.5"/><circle cx="639.5" cy="56.1" r="2.5"/><circle cx="633.8" cy="56.7" r="2.5"/><circle cx="597.9" cy="86.5" r="2.5"/><circle cx="649.4" cy="51.2" r="2.5"/><circle cx="651.2" cy="47.0" r="2.5"/><circle cx="604.9" cy="85.8" r="2.5"/><circle cx="636.6" cy="63.8" r="2.5"/><circle cx="607.6" cy="91.5" r="2.5"/><circle cx="610.8" cy="79.8" r="2.5"/><circle cx="640.7" cy="67.5" r="2.5"/><circle cx="651.5" cy="41.2" r="2.5"/><circle cx="622.7" cy="84.9" r="2.5"/><circle cx="589.6" cy="94.8" r="2.5"/><circle cx="605.0" cy="86.0" r="2.5"/><circle cx="609.1" cy="83.4" r="2.5"/><circle cx="605.2" cy="81.7" r="2.5"/><circle cx="599.4" cy="97.4" r="2.5"/><circle cx="619.4" cy="78.7" r="2.5"/><circle cx="621.9" cy="70.3" r="2.5"/><circle cx="614.0" cy="75.6" r="2.5"/><circle cx="605.5" cy="83.6" r="2.5"/><circle cx="632.1" cy="64.0" r="2.5"/><circle cx="612.6" cy="72.9" r="2.5"/><circle cx="608.8" cy="80.6" r="2.5"/><circle cx="602.0" cy="90.2" r="2.5"/><circle cx="607.9" cy="84.7" r="2.5"/><circle cx="665.9" cy="31.2" r="2.5"/><circle cx="623.9" cy="70.4" r="2.5"/><circle cx="648.6" cy="39.4" r="2.5"/><circle cx="599.5" cy="87.3" r="2.5"/><circle cx="647.3" cy="65.8" r="2.5"/><circle cx="581.4" cy="97.4" r="2.5"/><circle cx="643.9" cy="57.6" r="2.5"/><circle cx="647.3" cy="50.8" r="2.5"/><circle cx="633.6" cy="57.6" r="2.5"/><circle cx="646.6" cy="45.3" r="2.5"/><circle cx="620.5" cy="70.0" r="2.5"/><circle cx="579.8" cy="100.6" r="2.5"/><circle cx="607.7" cy="89.9" r="2.5"/><circle cx="644.4" cy="59.0" r="2.5"/><circle cx="579.4" cy="104.5" r="2.5"/><circle cx="588.8" cy="95.7" r="2.5"/><circle cx="645.5" cy="53.6" r="2.5"/><circle cx="630.5" cy="59.2" r="2.5"/><circle cx="641.0" cy="44.4" r="2.5"/><circle cx="622.3" cy="76.9" r="2.5"/><circle cx="633.8" cy="57.5" r="2.5"/><circle cx="631.0" cy="77.9" r="2.5"/><circle cx="669.4" cy="25.3" r="2.5"/><circle cx="579.5" cy="100.5" r="2.5"/><circle cx="605.9" cy="95.1" r="2.5"/><circle cx="629.9" cy="63.8" r="2.5"/><circle cx="671.6" cy="21.0" r="2.5"/><circle cx="653.9" cy="45.2" r="2.5"/><circle cx="608.5" cy="73.3" r="2.5"/><circle cx="609.6" cy="71.1" r="2.5"/><circle cx="648.4" cy="62.2" r="2.5"/><circle cx="608.1" cy="89.6" r="2.5"/><circle cx="614.6" cy="66.7" r="2.5"/><circle cx="655.1" cy="42.9" r="2.5"/><circle cx="603.5" cy="82.0" r="2.5"/><circle cx="652.4" cy="40.2" r="2.5"/><circle cx="641.1" cy="55.1" r="2.5"/><circle cx="602.0" cy="84.5" r="2.5"/><circle cx="651.1" cy="37.6" r="2.5"/><circle cx="658.5" cy="41.4" r="2.5"/><circle cx="648.3" cy="36.1" r="2.5"/><circle cx="642.0" cy="40.6" r="2.5"/><circle cx="649.6" cy="55.5" r="2.5"/><circle cx="587.0" cy="93.5" r="2.5"/><circle cx="625.4" cy="67.2" r="2.5"/><circle cx="670.0" cy="24.1" r="2.5"/><circle cx="621.2" cy="73.3" r="2.5"/><circle cx="639.4" cy="48.9" r="2.5"/><circle cx="616.1" cy="71.7" r="2.5"/><circle cx="633.4" cy="55.4" r="2.5"/><circle cx="611.5" cy="67.5" r="2.5"/><circle cx="666.7" cy="25.9" r="2.5"/><circle cx="642.0" cy="37.7" r="2.5"/><circle cx="611.0" cy="91.9" r="2.5"/><circle cx="644.3" cy="51.5" r="2.5"/><circle cx="643.5" cy="61.0" r="2.5"/><circle cx="590.9" cy="93.7" r="2.5"/><circle cx="609.0" cy="72.5" r="2.5"/><circle cx="605.6" cy="79.6" r="2.5"/><circle cx="613.8" cy="77.1" r="2.5"/><circle cx="607.9" cy="83.9" r="2.5"/><circle cx="635.2" cy="56.7" r="2.5"/><circle cx="642.4" cy="51.2" r="2.5"/><circle cx="608.0" cy="85.6" r="2.5"/><circle cx="653.1" cy="46.8" r="2.5"/><circle cx="590.2" cy="89.2" r="2.5"/><circle cx="583.9" cy="92.9" r="2.5"/><circle cx="613.1" cy="73.8" r="2.5"/><circle cx="582.6" cy="100.3" r="2.5"/><circle cx="624.5" cy="55.3" r="2.5"/><circle cx="629.2" cy="74.3" r="2.5"/><circle cx="653.1" cy="33.6" r="2.5"/><circle cx="630.4" cy="55.7" r="2.5"/><circle cx="668.3" cy="23.3" r="2.5"/><circle cx="609.5" cy="91.9" r="2.5"/><circle cx="609.0" cy="78.0" r="2.5"/><circle cx="660.5" cy="40.1" r="2.5"/><circle cx="589.0" cy="92.8" r="2.5"/><circle cx="620.7" cy="80.6" r="2.5"/><circle cx="610.1" cy="79.2" r="2.5"/><circle cx="600.4" cy="78.1" r="2.5"/><circle cx="615.0" cy="86.8" r="2.5"/><circle cx="600.1" cy="84.7" r="2.5"/><circle cx="591.5" cy="90.6" r="2.5"/><circle cx="635.2" cy="71.3" r="2.5"/><circle cx="633.3" cy="67.7" r="2.5"/><circle cx="649.2" cy="50.2" r="2.5"/><circle cx="626.1" cy="77.5" r="2.5"/><circle cx="615.5" cy="61.8" r="2.5"/><circle cx="647.0" cy="45.8" r="2.5"/><circle cx="611.5" cy="67.8" r="2.5"/><circle cx="649.1" cy="49.4" r="2.5"/><circle cx="635.3" cy="62.0" r="2.5"/><circle cx="575.4" cy="114.2" r="2.5"/><circle cx="654.9" cy="43.1" r="2.5"/><circle cx="614.3" cy="77.0" r="2.5"/><circle cx="606.1" cy="81.7" r="2.5"/><circle cx="659.8" cy="30.3" r="2.5"/><circle cx="577.3" cy="110.7" r="2.5"/><circle cx="640.0" cy="58.7" r="2.5"/><circle cx="578.0" cy="108.7" r="2.5"/><circle cx="578.2" cy="105.4" r="2.5"/><circle cx="583.1" cy="103.4" r="2.5"/><circle cx="647.3" cy="54.1" r="2.5"/><circle cx="600.7" cy="84.9" r="2.5"/><circle cx="614.2" cy="73.6" r="2.5"/><circle cx="653.7" cy="34.2" r="2.5"/><circle cx="613.0" cy="78.0" r="2.5"/><circle cx="664.2" cy="25.9" r="2.5"/><circle cx="636.3" cy="62.9" r="2.5"/><circle cx="600.8" cy="93.3" r="2.5"/><circle cx="594.2" cy="97.1" r="2.5"/><circle cx="618.8" cy="76.6" r="2.5"/><circle cx="600.6" cy="92.0" r="2.5"/><circle cx="623.1" cy="79.0" r="2.5"/><circle cx="613.9" cy="86.7" r="2.5"/><circle cx="592.7" cy="102.6" r="2.5"/><circle cx="602.1" cy="81.6" r="2.5"/><circle cx="640.2" cy="58.1" r="2.5"/><circle cx="642.1" cy="63.0" r="2.5"/><circle cx="577.5" cy="104.4" r="2.5"/><circle cx="605.1" cy="91.2" r="2.5"/><circle cx="605.1" cy="91.7" r="2.5"/><circle cx="641.5" cy="60.2" r="2.5"/><circle cx="628.9" cy="82.0" r="2.5"/><circle cx="632.6" cy="47.5" r="2.5"/><circle cx="597.0" cy="78.6" r="2.5"/><circle cx="629.3" cy="74.9" r="2.5"/><circle cx="635.0" cy="75.4" r="2.5"/><circle cx="616.2" cy="79.7" r="2.5"/><circle cx="601.9" cy="89.3" r="2.5"/><circle cx="616.1" cy="83.6" r="2.5"/><circle cx="621.2" cy="67.7" r="2.5"/><circle cx="612.8" cy="76.7" r="2.5"/><circle cx="635.4" cy="60.0" r="2.5"/><circle cx="629.3" cy="71.1" r="2.5"/><circle cx="615.7" cy="82.0" r="2.5"/><circle cx="645.6" cy="61.6" r="2.5"/><circle cx="648.5" cy="38.1" r="2.5"/><circle cx="614.2" cy="92.2" r="2.5"/><circle cx="627.5" cy="69.4" r="2.5"/><circle cx="641.3" cy="65.9" r="2.5"/><circle cx="593.4" cy="99.3" r="2.5"/><circle cx="581.6" cy="100.1" r="2.5"/><circle cx="615.8" cy="73.0" r="2.5"/><circle cx="646.0" cy="47.6" r="2.5"/><circle cx="648.8" cy="51.3" r="2.5"/><circle cx="629.6" cy="63.3" r="2.5"/><circle cx="648.7" cy="41.9" r="2.5"/><circle cx="590.8" cy="97.8" r="2.5"/><circle cx="635.4" cy="45.3" r="2.5"/><circle cx="618.2" cy="78.2" r="2.5"/><circle cx="603.3" cy="78.1" r="2.5"/><circle cx="661.4" cy="36.6" r="2.5"/><circle cx="625.0" cy="68.1" r="2.5"/><circle cx="663.2" cy="31.4" r="2.5"/><circle cx="605.9" cy="80.9" r="2.5"/><circle cx="624.4" cy="55.2" r="2.5"/><circle cx="627.2" cy="64.3" r="2.5"/><circle cx="598.2" cy="83.9" r="2.5"/><circle cx="593.0" cy="100.0" r="2.5"/><circle cx="644.6" cy="62.7" r="2.5"/><circle cx="580.8" cy="98.1" r="2.5"/><circle cx="657.0" cy="41.8" r="2.5"/><circle cx="597.1" cy="89.1" r="2.5"/><circle cx="661.9" cy="33.6" r="2.5"/><circle cx="610.6" cy="85.1" r="2.5"/><circle cx="637.6" cy="44.4" r="2.5"/><circle cx="602.1" cy="96.7" r="2.5"/><circle cx="604.4" cy="88.8" r="2.5"/><circle cx="667.6" cy="24.8" r="2.5"/><circle cx="648.7" cy="35.6" r="2.5"/><circle cx="623.9" cy="65.9" r="2.5"/><circle cx="650.9" cy="42.3" r="2.5"/><circle cx="633.7" cy="50.5" r="2.5"/><circle cx="610.0" cy="79.4" r="2.5"/><circle cx="621.4" cy="86.8" r="2.5"/><circle cx="629.4" cy="60.0" r="2.5"/><circle cx="624.4" cy="61.9" r="2.5"/><circle cx="612.4" cy="73.3" r="2.5"/><circle cx="611.6" cy="77.7" r="2.5"/><circle cx="610.8" cy="93.4" r="2.5"/><circle cx="613.7" cy="76.2" r="2.5"/><circle cx="607.8" cy="78.7" r="2.5"/><circle cx="576.5" cy="103.0" r="2.5"/><circle cx="634.2" cy="47.7" r="2.5"/><circle cx="579.0" cy="104.1" r="2.5"/><circle cx="610.0" cy="79.5" r="2.5"/><circle cx="591.5" cy="87.9" r="2.5"/><circle cx="612.6" cy="74.1" r="2.5"/><circle cx="627.4" cy="52.1" r="2.5"/><circle cx="659.9" cy="36.4" r="2.5"/><circle cx="594.8" cy="84.5" r="2.5"/><circle cx="627.0" cy="52.8" r="2.5"/><circle cx="599.0" cy="84.2" r="2.5"/><circle cx="602.7" cy="82.8" r="2.5"/><circle cx="665.2" cy="35.8" r="2.5"/><circle cx="630.2" cy="49.5" r="2.5"/><circle cx="628.5" cy="67.2" r="2.5"/><circle cx="648.2" cy="42.9" r="2.5"/><circle cx="617.7" cy="66.0" r="2.5"/><circle cx="655.9" cy="44.0" r="2.5"/><circle cx="588.1" cy="93.8" r="2.5"/><circle cx="588.0" cy="93.5" r="2.5"/><circle cx="600.7" cy="87.7" r="2.5"/><circle cx="654.0" cy="51.1" r="2.5"/><circle cx="610.9" cy="86.4" r="2.5"/><circle cx="637.9" cy="60.3" r="2.5"/><circle cx="621.8" cy="65.3" r="2.5"/><circle cx="613.7" cy="76.2" r="2.5"/><circle cx="626.0" cy="54.5" r="2.5"/><circle cx="604.7" cy="90.2" r="2.5"/><circle cx="578.8" cy="99.1" r="2.5"/><circle cx="609.3" cy="80.8" r="2.5"/><circle cx="633.9" cy="51.6" r="2.5"/><circle cx="646.0" cy="52.4" r="2.5"/><circle cx="611.8" cy="80.2" r="2.5"/><circle cx="574.7" cy="102.0" r="2.5"/><circle cx="637.4" cy="64.2" r="2.5"/><circle cx="647.3" cy="56.0" r="2.5"/><circle cx="599.8" cy="87.0" r="2.5"/><circle cx="642.0" cy="52.4" r="2.5"/><circle cx="581.6" cy="106.3" r="2.5"/><circle cx="625.7" cy="72.9" r="2.5"/><circle cx="656.7" cy="33.1" r="2.5"/><circle cx="601.7" cy="88.7" r="2.5"/><circle cx="596.2" cy="82.8" r="2.5"/><circle cx="666.8" cy="29.1" r="2.5"/><circle cx="627.1" cy="63.7" r="2.5"/><circle cx="622.2" cy="61.3" r="2.5"/><circle cx="633.9" cy="70.4" r="2.5"/><circle cx="612.8" cy="83.4" r="2.5"/><circle cx="656.0" cy="42.7" r="2.5"/><circle cx="620.2" cy="76.1" r="2.5"/><circle cx="587.5" cy="90.5" r="2.5"/><circle cx="630.5" cy="52.8" r="2.5"/><circle cx="607.9" cy="90.7" r="2.5"/><circle cx="613.6" cy="76.3" r="2.5"/><circle cx="598.9" cy="94.9" r="2.5"/><circle cx="616.7" cy="87.3" r="2.5"/><circle cx="610.9" cy="75.5" r="2.5"/><circle cx="579.7" cy="111.3" r="2.5"/><circle cx="579.3" cy="106.6" r="2.5"/><circle cx="641.8" cy="46.5" r="2.5"/><circle cx="586.5" cy="101.5" r="2.5"/><circle cx="629.0" cy="73.7" r="2.5"/><circle cx="606.9" cy="87.0" r="2.5"/><circle cx="622.5" cy="78.6" r="2.5"/><circle cx="640.0" cy="62.3" r="2.5"/><circle cx="584.3" cy="97.4" r="2.5"/><circle cx="644.3" cy="51.1" r="2.5"/><circle cx="648.3" cy="57.5" r="2.5"/><circle cx="598.3" cy="91.4" r="2.5"/><circle cx="596.3" cy="93.5" r="2.5"/><circle cx="595.5" cy="93.0" r="2.5"/><circle cx="636.6" cy="57.0" r="2.5"/><circle cx="627.7" cy="71.4" r="2.5"/><circle cx="643.8" cy="50.5" r="2.5"/><circle cx="618.9" cy="70.1" r="2.5"/><circle cx="636.7" cy="62.9" r="2.5"/><circle cx="621.8" cy="72.6" r="2.5"/><circle cx="577.2" cy="103.9" r="2.5"/><circle cx="631.7" cy="65.3" r="2.5"/><circle cx="606.0" cy="82.3" r="2.5"/><circle cx="591.2" cy="96.0" r="2.5"/><circle cx="656.9" cy="38.6" r="2.5"/><circle cx="611.1" cy="82.1" r="2.5"/><circle cx="586.7" cy="93.2" r="2.5"/><circle cx="614.3" cy="75.6" r="2.5"/><circle cx="598.5" cy="87.6" r="2.5"/><circle cx="635.3" cy="70.4" r="2.5"/><circle cx="647.6" cy="37.7" r="2.5"/><circle cx="667.0" cy="27.3" r="2.5"/><circle cx="646.1" cy="46.7" r="2.5"/><circle cx="613.9" cy="76.7" r="2.5"/><circle cx="660.5" cy="39.9" r="2.5"/><circle cx="619.5" cy="65.7" r="2.5"/><circle cx="646.3" cy="35.0" r="2.5"/><circle cx="644.7" cy="45.9" r="2.5"/><circle cx="640.6" cy="61.5" r="2.5"/><circle cx="648.8" cy="40.1" r="2.5"/><circle cx="654.9" cy="38.3" r="2.5"/><circle cx="664.9" cy="24.9" r="2.5"/><circle cx="667.4" cy="19.1" r="2.5"/><circle cx="608.6" cy="74.7" r="2.5"/><circle cx="608.0" cy="86.2" r="2.5"/><circle cx="659.4" cy="37.2" r="2.5"/><circle cx="608.2" cy="79.7" r="2.5"/><circle cx="661.6" cy="31.6" r="2.5"/><circle cx="617.8" cy="61.6" r="2.5"/><circle cx="638.4" cy="43.5" r="2.5"/><circle cx="639.9" cy="42.8" r="2.5"/><circle cx="597.1" cy="86.7" r="2.5"/><circle cx="671.0" cy="21.8" r="2.5"/><circle cx="638.8" cy="48.6" r="2.5"/><circle cx="608.3" cy="78.1" r="2.5"/><circle cx="645.0" cy="59.2" r="2.5"/><circle cx="629.0" cy="62.4" r="2.5"/><circle cx="641.3" cy="54.0" r="2.5"/><circle cx="558.5" cy="119.8" r="2.5"/><circle cx="566.3" cy="108.1" r="2.5"/><circle cx="570.2" cy="115.1" r="2.5"/><circle cx="565.5" cy="122.1" r="2.5"/><circle cx="581.0" cy="112.8" r="2.5"/><circle cx="574.0" cy="99.6" r="2.5"/><circle cx="595.0" cy="107.4" r="2.5"/></g>
<line x1="550.05" y1="137.40" x2="679.15" y2="12.50" stroke="#2ab0e5" stroke-width="2.3"/>
</g>
<rect x="550.05" y="12.50" width="129.10" height="124.90" fill="none" stroke="#000" stroke-width="1.3"/>
<path d="M554.85 137.40v3.4M550.05 132.75h-3.4M583.37 137.40v3.4M550.05 105.17h-3.4M611.88 137.40v3.4M550.05 77.58h-3.4M640.39 137.40v3.4M550.05 50.00h-3.4M668.91 137.40v3.4M550.05 22.41h-3.4" stroke="#000" stroke-width="1.1" fill="none"/>
<text x="554.85" y="148.90" text-anchor="middle" font-size="9.5">0</text>
<text x="583.37" y="148.90" text-anchor="middle" font-size="9.5">500</text>
<text x="611.88" y="148.90" text-anchor="middle" font-size="9.5">1000</text>
<text x="640.39" y="148.90" text-anchor="middle" font-size="9.5">1500</text>
<text x="668.91" y="148.90" text-anchor="middle" font-size="9.5">2000</text>
<text x="542.65" y="132.75" text-anchor="middle" font-size="9.5" transform="rotate(-90 542.65 132.75)">0</text>
<text x="542.65" y="105.17" text-anchor="middle" font-size="9.5" transform="rotate(-90 542.65 105.17)">500</text>
<text x="542.65" y="77.58" text-anchor="middle" font-size="9.5" transform="rotate(-90 542.65 77.58)">1000</text>
<text x="542.65" y="50.00" text-anchor="middle" font-size="9.5" transform="rotate(-90 542.65 50.00)">1500</text>
<text x="542.65" y="22.41" text-anchor="middle" font-size="9.5" transform="rotate(-90 542.65 22.41)">2000</text>
<text x="614.60" y="157.10" text-anchor="middle" font-size="10.4">μGDDS<tspan font-size="7" dy="2">predicted</tspan></text>
<text x="526.85" y="74.95" text-anchor="middle" font-size="10.4" transform="rotate(-90 526.85 74.95)">μGDDS<tspan font-size="7" dy="2">observed</tspan></text>
<text x="562.65" y="29.20" font-size="14" font-weight="bold">d</text>
<g font-size="7.7">
<text x="626.81" y="113.75">r = 0.949</text>
<text x="626.81" y="122.30">bias = −0.053</text>
<text x="626.81" y="131.35">rmse = 125.59</text>
</g>
<g clip-path="url(#ce)">
<line x1="36.30" y1="200.48" x2="165.40" y2="200.48" stroke="#b2c8c2" stroke-width="2" stroke-linecap="round" stroke-dasharray="0 8.527"/>
<line x1="144.40" y1="305.07" x2="144.40" y2="180.17" stroke="#b2c8c2" stroke-width="2" stroke-linecap="round" stroke-dasharray="0 8.527"/>
<g fill="rgb(247,147,94)" fill-opacity="0.55"><circle cx="117.9" cy="215.7" r="2.5"/><circle cx="109.5" cy="246.8" r="2.5"/><circle cx="121.2" cy="212.8" r="2.5"/><circle cx="110.0" cy="244.9" r="2.5"/><circle cx="107.2" cy="228.5" r="2.5"/><circle cx="119.5" cy="212.4" r="2.5"/><circle cx="114.9" cy="227.3" r="2.5"/><circle cx="123.8" cy="211.2" r="2.5"/><circle cx="88.9" cy="232.3" r="2.5"/><circle cx="122.4" cy="240.7" r="2.5"/><circle cx="136.1" cy="213.9" r="2.5"/><circle cx="96.4" cy="232.3" r="2.5"/><circle cx="114.3" cy="232.6" r="2.5"/><circle cx="115.3" cy="241.7" r="2.5"/><circle cx="103.5" cy="217.0" r="2.5"/><circle cx="124.7" cy="217.5" r="2.5"/><circle cx="112.7" cy="234.6" r="2.5"/><circle cx="109.8" cy="240.0" r="2.5"/><circle cx="123.7" cy="221.7" r="2.5"/><circle cx="124.6" cy="207.2" r="2.5"/><circle cx="113.3" cy="233.2" r="2.5"/><circle cx="116.5" cy="219.9" r="2.5"/><circle cx="98.1" cy="233.6" r="2.5"/><circle cx="128.0" cy="220.7" r="2.5"/><circle cx="129.2" cy="217.3" r="2.5"/><circle cx="122.2" cy="221.1" r="2.5"/><circle cx="120.0" cy="233.9" r="2.5"/><circle cx="100.1" cy="251.8" r="2.5"/><circle cx="108.7" cy="222.3" r="2.5"/><circle cx="85.2" cy="228.5" r="2.5"/><circle cx="121.6" cy="215.5" r="2.5"/><circle cx="140.3" cy="219.9" r="2.5"/><circle cx="131.4" cy="215.5" r="2.5"/><circle cx="120.3" cy="228.7" r="2.5"/><circle cx="128.3" cy="233.3" r="2.5"/><circle cx="113.1" cy="238.5" r="2.5"/><circle cx="121.1" cy="228.5" r="2.5"/><circle cx="115.5" cy="219.5" r="2.5"/><circle cx="121.2" cy="234.8" r="2.5"/><circle cx="112.9" cy="214.4" r="2.5"/><circle cx="118.3" cy="223.5" r="2.5"/><circle cx="114.5" cy="212.7" r="2.5"/><circle cx="101.7" cy="223.0" r="2.5"/><circle cx="119.1" cy="221.0" r="2.5"/><circle cx="123.7" cy="218.9" r="2.5"/><circle cx="112.7" cy="223.5" r="2.5"/><circle cx="123.7" cy="216.8" r="2.5"/><circle cx="105.3" cy="223.6" r="2.5"/><circle cx="92.0" cy="219.2" r="2.5"/><circle cx="112.8" cy="219.6" r="2.5"/><circle cx="97.1" cy="218.8" r="2.5"/><circle cx="103.7" cy="221.7" r="2.5"/><circle cx="104.1" cy="236.1" r="2.5"/><circle cx="103.5" cy="226.8" r="2.5"/><circle cx="96.6" cy="229.5" r="2.5"/><circle cx="102.6" cy="223.2" r="2.5"/><circle cx="103.2" cy="236.9" r="2.5"/><circle cx="92.9" cy="226.9" r="2.5"/><circle cx="129.0" cy="223.1" r="2.5"/><circle cx="115.1" cy="227.1" r="2.5"/><circle cx="115.6" cy="217.6" r="2.5"/><circle cx="133.0" cy="212.2" r="2.5"/><circle cx="126.1" cy="228.0" r="2.5"/><circle cx="120.8" cy="236.1" r="2.5"/><circle cx="104.3" cy="237.9" r="2.5"/><circle cx="126.8" cy="225.8" r="2.5"/><circle cx="108.9" cy="205.2" r="2.5"/><circle cx="131.3" cy="226.9" r="2.5"/><circle cx="120.0" cy="238.2" r="2.5"/><circle cx="103.5" cy="218.1" r="2.5"/><circle cx="131.9" cy="233.6" r="2.5"/><circle cx="123.6" cy="226.7" r="2.5"/><circle cx="94.1" cy="232.9" r="2.5"/><circle cx="108.4" cy="229.4" r="2.5"/><circle cx="118.1" cy="220.0" r="2.5"/><circle cx="107.0" cy="213.1" r="2.5"/><circle cx="117.9" cy="234.8" r="2.5"/><circle cx="117.9" cy="221.1" r="2.5"/><circle cx="91.8" cy="235.8" r="2.5"/><circle cx="116.0" cy="228.3" r="2.5"/><circle cx="131.0" cy="221.5" r="2.5"/><circle cx="129.4" cy="221.5" r="2.5"/><circle cx="95.8" cy="235.2" r="2.5"/><circle cx="127.3" cy="223.5" r="2.5"/><circle cx="117.6" cy="220.9" r="2.5"/><circle cx="105.2" cy="237.3" r="2.5"/><circle cx="104.0" cy="245.0" r="2.5"/><circle cx="114.2" cy="230.4" r="2.5"/><circle cx="131.4" cy="218.8" r="2.5"/><circle cx="122.3" cy="227.4" r="2.5"/><circle cx="105.6" cy="237.0" r="2.5"/><circle cx="112.8" cy="221.8" r="2.5"/><circle cx="132.9" cy="229.9" r="2.5"/><circle cx="108.7" cy="220.1" r="2.5"/><circle cx="112.1" cy="235.0" r="2.5"/><circle cx="120.3" cy="224.6" r="2.5"/><circle cx="116.2" cy="211.7" r="2.5"/><circle cx="114.6" cy="216.2" r="2.5"/><circle cx="107.9" cy="251.4" r="2.5"/><circle cx="111.6" cy="224.7" r="2.5"/><circle cx="111.6" cy="213.4" r="2.5"/><circle cx="117.4" cy="235.6" r="2.5"/><circle cx="108.0" cy="235.9" r="2.5"/><circle cx="103.1" cy="218.7" r="2.5"/><circle cx="130.0" cy="231.4" r="2.5"/><circle cx="89.9" cy="222.3" r="2.5"/><circle cx="110.7" cy="244.0" r="2.5"/><circle cx="121.5" cy="230.4" r="2.5"/><circle cx="126.2" cy="225.6" r="2.5"/><circle cx="116.3" cy="230.5" r="2.5"/><circle cx="104.3" cy="224.4" r="2.5"/><circle cx="120.2" cy="218.4" r="2.5"/><circle cx="108.9" cy="228.2" r="2.5"/><circle cx="136.7" cy="210.4" r="2.5"/><circle cx="137.7" cy="230.3" r="2.5"/><circle cx="139.1" cy="218.4" r="2.5"/><circle cx="97.9" cy="224.9" r="2.5"/><circle cx="114.9" cy="239.9" r="2.5"/><circle cx="104.2" cy="217.4" r="2.5"/><circle cx="101.0" cy="237.1" r="2.5"/><circle cx="113.6" cy="238.9" r="2.5"/><circle cx="121.3" cy="213.6" r="2.5"/><circle cx="99.0" cy="227.9" r="2.5"/><circle cx="114.4" cy="234.3" r="2.5"/><circle cx="134.5" cy="220.7" r="2.5"/><circle cx="122.3" cy="231.5" r="2.5"/><circle cx="123.4" cy="228.2" r="2.5"/><circle cx="113.1" cy="224.1" r="2.5"/><circle cx="110.7" cy="236.8" r="2.5"/><circle cx="103.8" cy="219.1" r="2.5"/><circle cx="120.1" cy="229.0" r="2.5"/><circle cx="105.8" cy="227.8" r="2.5"/><circle cx="110.8" cy="219.6" r="2.5"/><circle cx="108.5" cy="228.5" r="2.5"/><circle cx="115.9" cy="231.2" r="2.5"/><circle cx="135.1" cy="219.8" r="2.5"/><circle cx="124.3" cy="226.7" r="2.5"/><circle cx="97.9" cy="233.3" r="2.5"/><circle cx="114.2" cy="231.0" r="2.5"/><circle cx="131.7" cy="207.3" r="2.5"/><circle cx="126.2" cy="199.1" r="2.5"/><circle cx="98.5" cy="230.7" r="2.5"/><circle cx="126.6" cy="234.8" r="2.5"/><circle cx="112.7" cy="223.6" r="2.5"/><circle cx="117.5" cy="226.6" r="2.5"/><circle cx="119.8" cy="227.5" r="2.5"/><circle cx="140.9" cy="218.1" r="2.5"/><circle cx="107.5" cy="233.6" r="2.5"/><circle cx="109.1" cy="225.5" r="2.5"/><circle cx="125.7" cy="220.2" r="2.5"/><circle cx="100.4" cy="215.3" r="2.5"/><circle cx="113.8" cy="236.8" r="2.5"/><circle cx="116.7" cy="222.9" r="2.5"/><circle cx="92.4" cy="227.8" r="2.5"/><circle cx="121.7" cy="225.4" r="2.5"/><circle cx="96.1" cy="230.6" r="2.5"/><circle cx="109.3" cy="216.8" r="2.5"/><circle cx="115.8" cy="207.7" r="2.5"/><circle cx="131.0" cy="210.7" r="2.5"/><circle cx="103.7" cy="229.0" r="2.5"/><circle cx="118.2" cy="226.4" r="2.5"/><circle cx="118.9" cy="227.1" r="2.5"/><circle cx="93.0" cy="238.0" r="2.5"/><circle cx="113.9" cy="227.9" r="2.5"/><circle cx="113.1" cy="218.2" r="2.5"/><circle cx="119.0" cy="219.7" r="2.5"/><circle cx="138.2" cy="213.9" r="2.5"/><circle cx="108.2" cy="213.4" r="2.5"/><circle cx="115.5" cy="229.3" r="2.5"/><circle cx="110.5" cy="221.9" r="2.5"/><circle cx="111.8" cy="222.3" r="2.5"/><circle cx="122.9" cy="227.5" r="2.5"/><circle cx="132.5" cy="215.1" r="2.5"/><circle cx="101.3" cy="231.8" r="2.5"/><circle cx="117.6" cy="230.6" r="2.5"/><circle cx="100.1" cy="250.1" r="2.5"/><circle cx="97.5" cy="241.5" r="2.5"/><circle cx="119.5" cy="230.4" r="2.5"/><circle cx="134.3" cy="217.6" r="2.5"/><circle cx="119.5" cy="226.1" r="2.5"/><circle cx="129.2" cy="217.3" r="2.5"/><circle cx="100.2" cy="225.6" r="2.5"/><circle cx="102.1" cy="225.1" r="2.5"/><circle cx="117.4" cy="231.2" r="2.5"/><circle cx="106.6" cy="227.3" r="2.5"/><circle cx="110.3" cy="221.4" r="2.5"/><circle cx="107.2" cy="233.0" r="2.5"/><circle cx="118.5" cy="211.3" r="2.5"/><circle cx="116.4" cy="222.1" r="2.5"/><circle cx="108.8" cy="219.5" r="2.5"/><circle cx="100.9" cy="246.2" r="2.5"/><circle cx="97.2" cy="217.0" r="2.5"/><circle cx="115.3" cy="227.2" r="2.5"/><circle cx="127.0" cy="229.2" r="2.5"/><circle cx="110.9" cy="237.8" r="2.5"/><circle cx="124.6" cy="227.9" r="2.5"/><circle cx="121.8" cy="217.3" r="2.5"/><circle cx="102.5" cy="222.8" r="2.5"/><circle cx="126.9" cy="228.4" r="2.5"/><circle cx="106.2" cy="218.1" r="2.5"/><circle cx="97.5" cy="254.4" r="2.5"/><circle cx="97.4" cy="247.4" r="2.5"/><circle cx="113.3" cy="244.5" r="2.5"/><circle cx="101.8" cy="265.7" r="2.5"/><circle cx="108.3" cy="267.5" r="2.5"/><circle cx="99.6" cy="262.9" r="2.5"/><circle cx="87.5" cy="261.2" r="2.5"/><circle cx="102.2" cy="235.3" r="2.5"/><circle cx="108.5" cy="236.7" r="2.5"/><circle cx="102.5" cy="250.4" r="2.5"/><circle cx="100.7" cy="255.7" r="2.5"/><circle cx="90.5" cy="248.7" r="2.5"/><circle cx="104.6" cy="263.4" r="2.5"/><circle cx="89.7" cy="246.9" r="2.5"/><circle cx="93.9" cy="251.9" r="2.5"/><circle cx="107.9" cy="261.6" r="2.5"/><circle cx="92.5" cy="253.5" r="2.5"/><circle cx="97.1" cy="237.7" r="2.5"/><circle cx="102.0" cy="251.5" r="2.5"/><circle cx="83.9" cy="248.2" r="2.5"/><circle cx="113.9" cy="228.1" r="2.5"/><circle cx="101.6" cy="251.9" r="2.5"/><circle cx="100.0" cy="242.0" r="2.5"/><circle cx="90.7" cy="260.4" r="2.5"/><circle cx="95.2" cy="264.6" r="2.5"/><circle cx="93.9" cy="241.8" r="2.5"/><circle cx="108.0" cy="239.9" r="2.5"/><circle cx="97.8" cy="240.7" r="2.5"/><circle cx="103.0" cy="242.3" r="2.5"/><circle cx="102.2" cy="240.6" r="2.5"/><circle cx="106.4" cy="253.1" r="2.5"/><circle cx="102.6" cy="242.9" r="2.5"/><circle cx="105.5" cy="268.7" r="2.5"/><circle cx="111.7" cy="250.0" r="2.5"/><circle cx="94.7" cy="265.8" r="2.5"/><circle cx="91.2" cy="251.9" r="2.5"/><circle cx="104.8" cy="259.0" r="2.5"/><circle cx="95.7" cy="247.9" r="2.5"/><circle cx="100.7" cy="271.7" r="2.5"/><circle cx="95.6" cy="246.4" r="2.5"/><circle cx="95.5" cy="245.0" r="2.5"/><circle cx="105.1" cy="237.1" r="2.5"/><circle cx="110.8" cy="264.4" r="2.5"/><circle cx="104.1" cy="246.4" r="2.5"/><circle cx="94.9" cy="259.9" r="2.5"/><circle cx="109.5" cy="248.3" r="2.5"/><circle cx="94.0" cy="259.4" r="2.5"/><circle cx="99.1" cy="267.6" r="2.5"/><circle cx="89.1" cy="257.0" r="2.5"/><circle cx="104.9" cy="231.4" r="2.5"/><circle cx="103.3" cy="232.2" r="2.5"/><circle cx="95.7" cy="249.5" r="2.5"/><circle cx="100.2" cy="250.5" r="2.5"/><circle cx="87.9" cy="242.2" r="2.5"/><circle cx="100.1" cy="273.8" r="2.5"/><circle cx="114.1" cy="228.4" r="2.5"/><circle cx="94.5" cy="263.7" r="2.5"/><circle cx="91.7" cy="266.6" r="2.5"/><circle cx="107.9" cy="257.5" r="2.5"/><circle cx="86.2" cy="261.1" r="2.5"/><circle cx="101.4" cy="248.0" r="2.5"/><circle cx="96.4" cy="241.4" r="2.5"/><circle cx="101.2" cy="257.3" r="2.5"/><circle cx="103.0" cy="250.8" r="2.5"/><circle cx="93.3" cy="258.5" r="2.5"/><circle cx="93.8" cy="274.4" r="2.5"/><circle cx="97.6" cy="269.5" r="2.5"/><circle cx="105.3" cy="225.2" r="2.5"/><circle cx="91.8" cy="250.8" r="2.5"/><circle cx="91.5" cy="275.7" r="2.5"/><circle cx="89.7" cy="264.8" r="2.5"/><circle cx="100.4" cy="264.8" r="2.5"/><circle cx="98.6" cy="240.9" r="2.5"/><circle cx="105.4" cy="252.5" r="2.5"/><circle cx="102.5" cy="232.2" r="2.5"/><circle cx="115.1" cy="230.1" r="2.5"/><circle cx="99.4" cy="243.0" r="2.5"/><circle cx="93.4" cy="241.8" r="2.5"/><circle cx="103.4" cy="235.4" r="2.5"/><circle cx="109.1" cy="261.3" r="2.5"/><circle cx="86.0" cy="250.9" r="2.5"/><circle cx="95.6" cy="274.6" r="2.5"/><circle cx="102.5" cy="241.6" r="2.5"/><circle cx="80.3" cy="257.6" r="2.5"/><circle cx="104.7" cy="249.7" r="2.5"/><circle cx="96.4" cy="241.5" r="2.5"/><circle cx="90.4" cy="268.1" r="2.5"/><circle cx="81.7" cy="252.6" r="2.5"/><circle cx="81.5" cy="260.3" r="2.5"/><circle cx="106.6" cy="271.2" r="2.5"/><circle cx="98.5" cy="241.3" r="2.5"/><circle cx="99.2" cy="275.6" r="2.5"/><circle cx="100.6" cy="248.3" r="2.5"/><circle cx="100.5" cy="251.4" r="2.5"/><circle cx="104.9" cy="238.9" r="2.5"/><circle cx="99.6" cy="278.3" r="2.5"/><circle cx="87.8" cy="266.4" r="2.5"/><circle cx="96.9" cy="237.1" r="2.5"/><circle cx="83.7" cy="273.5" r="2.5"/><circle cx="84.8" cy="244.7" r="2.5"/><circle cx="105.1" cy="238.3" r="2.5"/><circle cx="98.3" cy="274.5" r="2.5"/><circle cx="92.7" cy="265.8" r="2.5"/><circle cx="105.3" cy="242.1" r="2.5"/><circle cx="94.6" cy="269.6" r="2.5"/><circle cx="111.9" cy="245.3" r="2.5"/><circle cx="112.8" cy="240.6" r="2.5"/><circle cx="108.9" cy="255.8" r="2.5"/><circle cx="107.8" cy="257.2" r="2.5"/><circle cx="96.5" cy="252.5" r="2.5"/><circle cx="78.6" cy="292.3" r="2.5"/><circle cx="85.4" cy="292.3" r="2.5"/><circle cx="97.4" cy="294.0" r="2.5"/><circle cx="99.9" cy="282.8" r="2.5"/><circle cx="111.2" cy="285.3" r="2.5"/><circle cx="112.4" cy="196.3" r="2.5"/><circle cx="122.5" cy="199.5" r="2.5"/><circle cx="146.3" cy="205.1" r="2.5"/><circle cx="147.5" cy="222.6" r="2.5"/><circle cx="125.0" cy="252.7" r="2.5"/><circle cx="118.7" cy="251.4" r="2.5"/></g>
<line x1="36.30" y1="305.07" x2="165.40" y2="180.17" stroke="#ff4a0a" stroke-width="2.3"/>
</g>
<rect x="36.30" y="180.17" width="129.10" height="124.90" fill="none" stroke="#000" stroke-width="1.3"/>
<path d="M144.40 305.07v3.4M36.30 200.48h-3.4M112.54 305.07v3.4M36.30 231.31h-3.4M80.67 305.07v3.4M36.30 262.14h-3.4M48.81 305.07v3.4M36.30 292.97h-3.4" stroke="#000" stroke-width="1.1" fill="none"/>
<text x="144.40" y="316.57" text-anchor="middle" font-size="9.5">0</text>
<text x="112.54" y="316.57" text-anchor="middle" font-size="9.5">2</text>
<text x="80.67" y="316.57" text-anchor="middle" font-size="9.5">4</text>
<text x="48.81" y="316.57" text-anchor="middle" font-size="9.5">6</text>
<text x="28.90" y="200.48" text-anchor="middle" font-size="9.5" transform="rotate(-90 28.90 200.48)">0</text>
<text x="28.90" y="231.31" text-anchor="middle" font-size="9.5" transform="rotate(-90 28.90 231.31)">2</text>
<text x="28.90" y="262.14" text-anchor="middle" font-size="9.5" transform="rotate(-90 28.90 262.14)">4</text>
<text x="28.90" y="292.97" text-anchor="middle" font-size="9.5" transform="rotate(-90 28.90 292.97)">6</text>
<text x="100.85" y="324.77" text-anchor="middle" font-size="10.4">βGS<tspan font-size="7" dy="2">beg predicted</tspan></text>
<text x="13.10" y="242.62" text-anchor="middle" font-size="10.4" transform="rotate(-90 13.10 242.62)">βGS<tspan font-size="7" dy="2">beg observed</tspan></text>
<text x="48.90" y="196.87" font-size="14" font-weight="bold">e</text>
<g font-size="7.7">
<text x="117.35" y="281.42">r = 0.612</text>
<text x="117.35" y="289.97">bias = 0</text>
<text x="117.35" y="299.02">rmse = 0.092</text>
</g>
<g clip-path="url(#cf)">
<line x1="207.55" y1="277.47" x2="336.65" y2="277.47" stroke="#b2c8c2" stroke-width="2" stroke-linecap="round" stroke-dasharray="0 8.527"/>
<line x1="236.08" y1="305.07" x2="236.08" y2="180.17" stroke="#b2c8c2" stroke-width="2" stroke-linecap="round" stroke-dasharray="0 8.527"/>
<g fill="rgb(247,147,94)" fill-opacity="0.55"><circle cx="258.4" cy="244.6" r="2.5"/><circle cx="250.7" cy="273.8" r="2.5"/><circle cx="254.4" cy="249.9" r="2.5"/><circle cx="254.6" cy="273.2" r="2.5"/><circle cx="250.1" cy="244.1" r="2.5"/><circle cx="247.2" cy="276.9" r="2.5"/><circle cx="248.9" cy="266.4" r="2.5"/><circle cx="242.0" cy="264.4" r="2.5"/><circle cx="254.2" cy="254.4" r="2.5"/><circle cx="249.5" cy="246.8" r="2.5"/><circle cx="248.3" cy="277.0" r="2.5"/><circle cx="247.7" cy="273.8" r="2.5"/><circle cx="256.9" cy="265.4" r="2.5"/><circle cx="258.3" cy="249.1" r="2.5"/><circle cx="245.3" cy="267.4" r="2.5"/><circle cx="259.7" cy="233.6" r="2.5"/><circle cx="244.9" cy="257.4" r="2.5"/><circle cx="242.4" cy="260.4" r="2.5"/><circle cx="254.5" cy="252.4" r="2.5"/><circle cx="248.8" cy="259.1" r="2.5"/><circle cx="248.5" cy="270.8" r="2.5"/><circle cx="242.0" cy="263.7" r="2.5"/><circle cx="248.1" cy="255.3" r="2.5"/><circle cx="248.6" cy="237.6" r="2.5"/><circle cx="246.5" cy="253.9" r="2.5"/><circle cx="244.8" cy="251.1" r="2.5"/><circle cx="256.0" cy="256.8" r="2.5"/><circle cx="250.8" cy="261.1" r="2.5"/><circle cx="246.1" cy="257.5" r="2.5"/><circle cx="255.7" cy="236.0" r="2.5"/><circle cx="244.0" cy="236.9" r="2.5"/><circle cx="255.9" cy="256.7" r="2.5"/><circle cx="252.5" cy="251.2" r="2.5"/><circle cx="250.1" cy="258.5" r="2.5"/><circle cx="246.3" cy="266.4" r="2.5"/><circle cx="255.8" cy="258.0" r="2.5"/><circle cx="252.4" cy="262.6" r="2.5"/><circle cx="249.4" cy="253.5" r="2.5"/><circle cx="251.3" cy="249.2" r="2.5"/><circle cx="247.6" cy="259.9" r="2.5"/><circle cx="256.8" cy="244.3" r="2.5"/><circle cx="255.4" cy="272.4" r="2.5"/><circle cx="255.8" cy="258.1" r="2.5"/><circle cx="258.5" cy="256.0" r="2.5"/><circle cx="251.6" cy="280.9" r="2.5"/><circle cx="260.1" cy="250.8" r="2.5"/><circle cx="254.6" cy="249.0" r="2.5"/><circle cx="249.4" cy="235.8" r="2.5"/><circle cx="254.1" cy="258.6" r="2.5"/><circle cx="247.5" cy="249.7" r="2.5"/><circle cx="248.5" cy="249.2" r="2.5"/><circle cx="249.3" cy="278.1" r="2.5"/><circle cx="248.1" cy="253.6" r="2.5"/><circle cx="244.9" cy="275.2" r="2.5"/><circle cx="259.1" cy="254.9" r="2.5"/><circle cx="243.9" cy="247.8" r="2.5"/><circle cx="261.2" cy="255.3" r="2.5"/><circle cx="247.4" cy="283.2" r="2.5"/><circle cx="256.6" cy="239.8" r="2.5"/><circle cx="254.7" cy="254.2" r="2.5"/><circle cx="251.6" cy="245.1" r="2.5"/><circle cx="252.5" cy="266.5" r="2.5"/><circle cx="251.9" cy="262.7" r="2.5"/><circle cx="254.3" cy="231.7" r="2.5"/><circle cx="255.8" cy="260.7" r="2.5"/><circle cx="249.5" cy="262.9" r="2.5"/><circle cx="256.5" cy="263.0" r="2.5"/><circle cx="249.5" cy="244.9" r="2.5"/><circle cx="255.3" cy="278.0" r="2.5"/><circle cx="249.2" cy="261.5" r="2.5"/><circle cx="252.4" cy="269.1" r="2.5"/><circle cx="241.9" cy="267.6" r="2.5"/><circle cx="257.2" cy="244.7" r="2.5"/><circle cx="244.5" cy="255.7" r="2.5"/><circle cx="252.9" cy="254.9" r="2.5"/><circle cx="258.7" cy="261.4" r="2.5"/><circle cx="242.5" cy="262.3" r="2.5"/><circle cx="245.0" cy="259.1" r="2.5"/><circle cx="243.7" cy="234.5" r="2.5"/><circle cx="252.2" cy="261.5" r="2.5"/><circle cx="245.1" cy="260.4" r="2.5"/><circle cx="242.5" cy="252.9" r="2.5"/><circle cx="251.0" cy="239.0" r="2.5"/><circle cx="246.7" cy="251.1" r="2.5"/><circle cx="249.6" cy="270.9" r="2.5"/><circle cx="244.5" cy="256.2" r="2.5"/><circle cx="254.2" cy="257.7" r="2.5"/><circle cx="251.6" cy="274.4" r="2.5"/><circle cx="250.4" cy="267.0" r="2.5"/><circle cx="250.2" cy="253.2" r="2.5"/><circle cx="247.5" cy="262.7" r="2.5"/><circle cx="248.8" cy="236.2" r="2.5"/><circle cx="261.0" cy="254.2" r="2.5"/><circle cx="248.1" cy="263.1" r="2.5"/><circle cx="252.2" cy="258.7" r="2.5"/><circle cx="257.6" cy="269.8" r="2.5"/><circle cx="252.4" cy="266.1" r="2.5"/><circle cx="247.0" cy="247.4" r="2.5"/><circle cx="246.9" cy="258.0" r="2.5"/><circle cx="255.2" cy="282.3" r="2.5"/><circle cx="251.3" cy="274.6" r="2.5"/><circle cx="253.4" cy="250.4" r="2.5"/><circle cx="241.7" cy="271.0" r="2.5"/><circle cx="251.3" cy="261.5" r="2.5"/><circle cx="255.9" cy="244.2" r="2.5"/><circle cx="250.4" cy="260.3" r="2.5"/><circle cx="255.8" cy="261.5" r="2.5"/><circle cx="249.7" cy="262.4" r="2.5"/><circle cx="247.1" cy="243.5" r="2.5"/><circle cx="247.8" cy="265.9" r="2.5"/><circle cx="258.9" cy="273.7" r="2.5"/><circle cx="243.1" cy="255.5" r="2.5"/><circle cx="249.9" cy="236.6" r="2.5"/><circle cx="252.1" cy="252.8" r="2.5"/><circle cx="253.5" cy="238.0" r="2.5"/><circle cx="248.2" cy="241.4" r="2.5"/><circle cx="250.2" cy="271.2" r="2.5"/><circle cx="251.8" cy="256.4" r="2.5"/><circle cx="247.6" cy="258.1" r="2.5"/><circle cx="256.7" cy="257.6" r="2.5"/><circle cx="248.6" cy="241.3" r="2.5"/><circle cx="257.8" cy="239.9" r="2.5"/><circle cx="249.7" cy="247.5" r="2.5"/><circle cx="247.1" cy="241.2" r="2.5"/><circle cx="247.5" cy="264.1" r="2.5"/><circle cx="247.8" cy="246.2" r="2.5"/><circle cx="251.6" cy="270.3" r="2.5"/><circle cx="254.6" cy="261.7" r="2.5"/><circle cx="243.9" cy="271.8" r="2.5"/><circle cx="253.3" cy="241.6" r="2.5"/><circle cx="254.9" cy="262.6" r="2.5"/><circle cx="254.8" cy="247.5" r="2.5"/><circle cx="253.0" cy="273.5" r="2.5"/><circle cx="247.5" cy="253.4" r="2.5"/><circle cx="249.0" cy="246.1" r="2.5"/><circle cx="243.5" cy="254.6" r="2.5"/><circle cx="257.1" cy="254.8" r="2.5"/><circle cx="251.0" cy="254.6" r="2.5"/><circle cx="251.4" cy="257.2" r="2.5"/><circle cx="261.4" cy="262.2" r="2.5"/><circle cx="250.3" cy="267.1" r="2.5"/><circle cx="249.2" cy="243.2" r="2.5"/><circle cx="255.4" cy="256.8" r="2.5"/><circle cx="257.7" cy="256.2" r="2.5"/><circle cx="250.9" cy="252.2" r="2.5"/><circle cx="256.5" cy="272.8" r="2.5"/><circle cx="241.4" cy="272.6" r="2.5"/><circle cx="247.6" cy="273.0" r="2.5"/><circle cx="251.1" cy="233.8" r="2.5"/><circle cx="253.4" cy="260.1" r="2.5"/><circle cx="257.1" cy="248.0" r="2.5"/><circle cx="241.0" cy="278.5" r="2.5"/><circle cx="240.7" cy="260.3" r="2.5"/><circle cx="255.5" cy="255.6" r="2.5"/><circle cx="243.9" cy="262.9" r="2.5"/><circle cx="252.4" cy="242.6" r="2.5"/><circle cx="246.4" cy="260.3" r="2.5"/><circle cx="252.0" cy="257.5" r="2.5"/><circle cx="256.1" cy="242.7" r="2.5"/><circle cx="261.3" cy="237.1" r="2.5"/><circle cx="260.5" cy="253.1" r="2.5"/><circle cx="251.1" cy="262.1" r="2.5"/><circle cx="251.9" cy="260.0" r="2.5"/><circle cx="258.9" cy="241.9" r="2.5"/><circle cx="258.2" cy="270.8" r="2.5"/><circle cx="254.0" cy="269.6" r="2.5"/><circle cx="247.8" cy="268.3" r="2.5"/><circle cx="248.0" cy="243.3" r="2.5"/><circle cx="246.5" cy="250.8" r="2.5"/><circle cx="249.7" cy="267.9" r="2.5"/><circle cx="246.4" cy="265.8" r="2.5"/><circle cx="257.6" cy="257.8" r="2.5"/><circle cx="242.3" cy="262.7" r="2.5"/><circle cx="249.3" cy="270.1" r="2.5"/><circle cx="254.4" cy="268.1" r="2.5"/><circle cx="256.0" cy="260.2" r="2.5"/><circle cx="256.2" cy="265.5" r="2.5"/><circle cx="253.0" cy="257.9" r="2.5"/><circle cx="246.5" cy="261.4" r="2.5"/><circle cx="254.3" cy="266.8" r="2.5"/><circle cx="247.2" cy="251.4" r="2.5"/><circle cx="251.2" cy="251.4" r="2.5"/><circle cx="257.6" cy="283.1" r="2.5"/><circle cx="257.6" cy="254.7" r="2.5"/><circle cx="255.7" cy="263.9" r="2.5"/><circle cx="252.4" cy="270.5" r="2.5"/><circle cx="242.9" cy="247.1" r="2.5"/><circle cx="246.2" cy="253.7" r="2.5"/><circle cx="250.8" cy="250.3" r="2.5"/><circle cx="249.2" cy="264.2" r="2.5"/><circle cx="257.8" cy="235.5" r="2.5"/><circle cx="246.3" cy="250.6" r="2.5"/><circle cx="255.0" cy="265.7" r="2.5"/><circle cx="256.4" cy="233.9" r="2.5"/><circle cx="249.9" cy="268.1" r="2.5"/><circle cx="248.8" cy="238.1" r="2.5"/><circle cx="249.5" cy="261.3" r="2.5"/><circle cx="257.1" cy="266.1" r="2.5"/><circle cx="248.5" cy="266.7" r="2.5"/><circle cx="252.0" cy="270.7" r="2.5"/><circle cx="248.3" cy="269.2" r="2.5"/><circle cx="244.7" cy="252.4" r="2.5"/><circle cx="259.4" cy="259.8" r="2.5"/><circle cx="248.0" cy="278.2" r="2.5"/><circle cx="246.7" cy="254.7" r="2.5"/><circle cx="257.2" cy="277.4" r="2.5"/><circle cx="244.9" cy="250.7" r="2.5"/><circle cx="247.3" cy="263.4" r="2.5"/><circle cx="249.4" cy="260.5" r="2.5"/><circle cx="256.8" cy="243.3" r="2.5"/><circle cx="246.3" cy="283.3" r="2.5"/><circle cx="247.7" cy="254.6" r="2.5"/><circle cx="254.5" cy="265.5" r="2.5"/><circle cx="255.8" cy="244.4" r="2.5"/><circle cx="256.5" cy="251.1" r="2.5"/><circle cx="249.0" cy="266.3" r="2.5"/><circle cx="250.9" cy="243.8" r="2.5"/><circle cx="246.3" cy="259.7" r="2.5"/><circle cx="249.1" cy="261.2" r="2.5"/><circle cx="252.2" cy="268.0" r="2.5"/><circle cx="252.9" cy="240.1" r="2.5"/><circle cx="256.8" cy="247.5" r="2.5"/><circle cx="244.1" cy="275.3" r="2.5"/><circle cx="255.9" cy="259.5" r="2.5"/><circle cx="253.8" cy="274.7" r="2.5"/><circle cx="252.0" cy="246.0" r="2.5"/><circle cx="259.6" cy="270.2" r="2.5"/><circle cx="248.6" cy="258.4" r="2.5"/><circle cx="244.9" cy="249.9" r="2.5"/><circle cx="247.4" cy="259.9" r="2.5"/><circle cx="245.7" cy="273.0" r="2.5"/><circle cx="247.8" cy="263.1" r="2.5"/><circle cx="248.9" cy="274.7" r="2.5"/><circle cx="253.0" cy="239.7" r="2.5"/><circle cx="258.0" cy="246.6" r="2.5"/><circle cx="246.8" cy="279.8" r="2.5"/><circle cx="244.8" cy="271.9" r="2.5"/><circle cx="243.1" cy="236.1" r="2.5"/><circle cx="253.8" cy="249.6" r="2.5"/><circle cx="248.5" cy="261.5" r="2.5"/><circle cx="249.6" cy="245.7" r="2.5"/><circle cx="253.3" cy="253.5" r="2.5"/><circle cx="254.2" cy="248.0" r="2.5"/><circle cx="252.4" cy="262.7" r="2.5"/><circle cx="254.4" cy="237.1" r="2.5"/><circle cx="242.9" cy="253.6" r="2.5"/><circle cx="257.9" cy="273.6" r="2.5"/><circle cx="256.8" cy="258.9" r="2.5"/><circle cx="257.7" cy="262.5" r="2.5"/><circle cx="249.7" cy="252.5" r="2.5"/><circle cx="249.6" cy="274.6" r="2.5"/><circle cx="239.1" cy="279.3" r="2.5"/><circle cx="249.6" cy="283.7" r="2.5"/><circle cx="249.8" cy="289.9" r="2.5"/><circle cx="250.2" cy="275.2" r="2.5"/><circle cx="252.0" cy="275.8" r="2.5"/><circle cx="243.2" cy="282.3" r="2.5"/><circle cx="242.6" cy="274.2" r="2.5"/><circle cx="250.9" cy="274.1" r="2.5"/><circle cx="239.1" cy="273.1" r="2.5"/><circle cx="242.2" cy="286.2" r="2.5"/><circle cx="247.8" cy="275.7" r="2.5"/><circle cx="252.5" cy="278.9" r="2.5"/><circle cx="248.2" cy="284.2" r="2.5"/><circle cx="248.2" cy="278.9" r="2.5"/><circle cx="243.4" cy="283.2" r="2.5"/><circle cx="248.2" cy="272.9" r="2.5"/><circle cx="242.5" cy="280.7" r="2.5"/><circle cx="245.2" cy="277.4" r="2.5"/><circle cx="249.7" cy="274.4" r="2.5"/><circle cx="249.0" cy="268.2" r="2.5"/><circle cx="241.1" cy="275.5" r="2.5"/><circle cx="238.7" cy="287.3" r="2.5"/><circle cx="254.5" cy="270.5" r="2.5"/><circle cx="248.9" cy="278.3" r="2.5"/><circle cx="253.5" cy="272.6" r="2.5"/><circle cx="244.9" cy="278.8" r="2.5"/><circle cx="246.0" cy="281.9" r="2.5"/><circle cx="249.9" cy="288.4" r="2.5"/><circle cx="245.4" cy="278.8" r="2.5"/><circle cx="241.3" cy="274.8" r="2.5"/><circle cx="245.4" cy="283.2" r="2.5"/><circle cx="253.5" cy="283.4" r="2.5"/><circle cx="250.0" cy="284.3" r="2.5"/><circle cx="246.8" cy="280.9" r="2.5"/><circle cx="244.7" cy="279.3" r="2.5"/><circle cx="245.7" cy="274.8" r="2.5"/><circle cx="238.8" cy="282.0" r="2.5"/><circle cx="246.1" cy="278.8" r="2.5"/><circle cx="249.7" cy="286.4" r="2.5"/><circle cx="250.0" cy="274.0" r="2.5"/><circle cx="255.4" cy="280.0" r="2.5"/><circle cx="247.3" cy="288.6" r="2.5"/><circle cx="244.2" cy="285.9" r="2.5"/><circle cx="251.4" cy="281.1" r="2.5"/><circle cx="242.8" cy="272.9" r="2.5"/><circle cx="252.2" cy="279.6" r="2.5"/><circle cx="243.6" cy="270.0" r="2.5"/><circle cx="247.3" cy="277.1" r="2.5"/><circle cx="239.1" cy="285.3" r="2.5"/><circle cx="252.9" cy="206.3" r="2.5"/><circle cx="247.9" cy="214.3" r="2.5"/><circle cx="250.9" cy="221.4" r="2.5"/><circle cx="265.1" cy="276.5" r="2.5"/><circle cx="259.6" cy="278.2" r="2.5"/></g>
<line x1="207.55" y1="305.07" x2="336.65" y2="180.17" stroke="#ff4a0a" stroke-width="2.3"/>
</g>
<rect x="207.55" y="180.17" width="129.10" height="124.90" fill="none" stroke="#000" stroke-width="1.3"/>
<path d="M212.24 305.07v3.4M207.55 300.52h-3.4M236.08 305.07v3.4M207.55 277.47h-3.4M259.91 305.07v3.4M207.55 254.41h-3.4M283.74 305.07v3.4M207.55 231.35h-3.4M307.57 305.07v3.4M207.55 208.30h-3.4M331.41 305.07v3.4M207.55 185.24h-3.4" stroke="#000" stroke-width="1.1" fill="none"/>
<text x="212.24" y="316.57" text-anchor="middle" font-size="9.5">−2</text>
<text x="236.08" y="316.57" text-anchor="middle" font-size="9.5">0</text>
<text x="259.91" y="316.57" text-anchor="middle" font-size="9.5">2</text>
<text x="283.74" y="316.57" text-anchor="middle" font-size="9.5">4</text>
<text x="307.57" y="316.57" text-anchor="middle" font-size="9.5">6</text>
<text x="331.41" y="316.57" text-anchor="middle" font-size="9.5">8</text>
<text x="200.15" y="300.52" text-anchor="middle" font-size="9.5" transform="rotate(-90 200.15 300.52)">−2</text>
<text x="200.15" y="277.47" text-anchor="middle" font-size="9.5" transform="rotate(-90 200.15 277.47)">0</text>
<text x="200.15" y="254.41" text-anchor="middle" font-size="9.5" transform="rotate(-90 200.15 254.41)">2</text>
<text x="200.15" y="231.35" text-anchor="middle" font-size="9.5" transform="rotate(-90 200.15 231.35)">4</text>
<text x="200.15" y="208.30" text-anchor="middle" font-size="9.5" transform="rotate(-90 200.15 208.30)">6</text>
<text x="200.15" y="185.24" text-anchor="middle" font-size="9.5" transform="rotate(-90 200.15 185.24)">8</text>
<text x="272.10" y="324.77" text-anchor="middle" font-size="10.4">βGS<tspan font-size="7" dy="2">end predicted</tspan></text>
<text x="184.35" y="242.62" text-anchor="middle" font-size="10.4" transform="rotate(-90 184.35 242.62)">βGS<tspan font-size="7" dy="2">end observed</tspan></text>
<text x="220.15" y="196.87" font-size="14" font-weight="bold">f</text>
<g font-size="7.7">
<text x="297.16" y="281.42">r = 0.327</text>
<text x="297.16" y="289.97">bias = 0</text>
<text x="297.16" y="299.02">rmse = 0.1</text>
</g>
<g clip-path="url(#cg)">
<line x1="378.80" y1="291.67" x2="507.90" y2="291.67" stroke="#b2c8c2" stroke-width="2" stroke-linecap="round" stroke-dasharray="0 8.527"/>
<line x1="392.64" y1="305.07" x2="392.64" y2="180.17" stroke="#b2c8c2" stroke-width="2" stroke-linecap="round" stroke-dasharray="0 8.527"/>
<g fill="rgb(247,147,94)" fill-opacity="0.55"><circle cx="424.9" cy="262.8" r="2.5"/><circle cx="405.4" cy="253.8" r="2.5"/><circle cx="430.4" cy="281.2" r="2.5"/><circle cx="413.9" cy="265.3" r="2.5"/><circle cx="412.4" cy="264.5" r="2.5"/><circle cx="430.9" cy="272.4" r="2.5"/><circle cx="401.8" cy="268.7" r="2.5"/><circle cx="418.9" cy="271.3" r="2.5"/><circle cx="430.5" cy="276.8" r="2.5"/><circle cx="424.8" cy="276.4" r="2.5"/><circle cx="429.8" cy="258.8" r="2.5"/><circle cx="418.6" cy="272.9" r="2.5"/><circle cx="424.1" cy="271.1" r="2.5"/><circle cx="434.4" cy="263.1" r="2.5"/><circle cx="417.9" cy="256.9" r="2.5"/><circle cx="413.0" cy="277.7" r="2.5"/><circle cx="431.5" cy="249.3" r="2.5"/><circle cx="424.4" cy="266.4" r="2.5"/><circle cx="429.1" cy="259.6" r="2.5"/><circle cx="429.1" cy="267.9" r="2.5"/><circle cx="418.0" cy="244.3" r="2.5"/><circle cx="420.1" cy="272.7" r="2.5"/><circle cx="420.8" cy="276.7" r="2.5"/><circle cx="408.9" cy="257.4" r="2.5"/><circle cx="429.1" cy="253.8" r="2.5"/><circle cx="416.5" cy="266.5" r="2.5"/><circle cx="431.9" cy="261.5" r="2.5"/><circle cx="430.3" cy="252.0" r="2.5"/><circle cx="426.7" cy="289.8" r="2.5"/><circle cx="422.2" cy="250.5" r="2.5"/><circle cx="408.1" cy="247.1" r="2.5"/><circle cx="414.5" cy="271.7" r="2.5"/><circle cx="415.8" cy="266.5" r="2.5"/><circle cx="407.0" cy="268.0" r="2.5"/><circle cx="413.7" cy="253.9" r="2.5"/><circle cx="423.0" cy="277.4" r="2.5"/><circle cx="428.5" cy="263.1" r="2.5"/><circle cx="428.8" cy="253.4" r="2.5"/><circle cx="399.8" cy="281.6" r="2.5"/><circle cx="430.9" cy="267.0" r="2.5"/><circle cx="423.3" cy="270.2" r="2.5"/><circle cx="418.5" cy="273.6" r="2.5"/><circle cx="421.1" cy="262.3" r="2.5"/><circle cx="416.7" cy="267.9" r="2.5"/><circle cx="414.2" cy="285.7" r="2.5"/><circle cx="406.0" cy="269.3" r="2.5"/><circle cx="425.0" cy="270.4" r="2.5"/><circle cx="407.7" cy="272.0" r="2.5"/><circle cx="410.6" cy="281.3" r="2.5"/><circle cx="409.2" cy="273.9" r="2.5"/><circle cx="436.6" cy="256.3" r="2.5"/><circle cx="423.0" cy="251.9" r="2.5"/><circle cx="429.8" cy="270.9" r="2.5"/><circle cx="420.5" cy="295.7" r="2.5"/><circle cx="411.3" cy="267.6" r="2.5"/><circle cx="421.9" cy="261.7" r="2.5"/><circle cx="426.3" cy="276.9" r="2.5"/><circle cx="432.8" cy="281.7" r="2.5"/><circle cx="415.1" cy="261.0" r="2.5"/><circle cx="416.0" cy="274.2" r="2.5"/><circle cx="414.4" cy="261.0" r="2.5"/><circle cx="412.3" cy="262.3" r="2.5"/><circle cx="406.4" cy="270.8" r="2.5"/><circle cx="427.2" cy="250.4" r="2.5"/><circle cx="413.3" cy="259.4" r="2.5"/><circle cx="414.2" cy="264.7" r="2.5"/><circle cx="433.9" cy="277.2" r="2.5"/><circle cx="407.9" cy="268.6" r="2.5"/><circle cx="418.0" cy="262.2" r="2.5"/><circle cx="429.9" cy="245.7" r="2.5"/><circle cx="421.3" cy="265.6" r="2.5"/><circle cx="436.3" cy="266.1" r="2.5"/><circle cx="417.4" cy="274.6" r="2.5"/><circle cx="423.6" cy="263.1" r="2.5"/><circle cx="410.1" cy="280.0" r="2.5"/><circle cx="411.8" cy="242.4" r="2.5"/><circle cx="422.3" cy="273.5" r="2.5"/><circle cx="417.7" cy="257.5" r="2.5"/><circle cx="406.6" cy="257.2" r="2.5"/><circle cx="433.9" cy="252.6" r="2.5"/><circle cx="430.9" cy="262.3" r="2.5"/><circle cx="430.4" cy="261.5" r="2.5"/><circle cx="422.2" cy="287.5" r="2.5"/><circle cx="428.9" cy="284.0" r="2.5"/><circle cx="409.9" cy="275.6" r="2.5"/><circle cx="402.9" cy="271.6" r="2.5"/><circle cx="410.9" cy="274.0" r="2.5"/><circle cx="429.2" cy="259.2" r="2.5"/><circle cx="424.7" cy="270.1" r="2.5"/><circle cx="417.9" cy="266.1" r="2.5"/><circle cx="421.3" cy="280.2" r="2.5"/><circle cx="416.4" cy="278.1" r="2.5"/><circle cx="417.2" cy="284.2" r="2.5"/><circle cx="417.7" cy="252.2" r="2.5"/><circle cx="415.0" cy="263.8" r="2.5"/><circle cx="422.0" cy="259.1" r="2.5"/><circle cx="429.9" cy="269.2" r="2.5"/><circle cx="419.0" cy="279.4" r="2.5"/><circle cx="413.0" cy="265.5" r="2.5"/><circle cx="408.2" cy="253.2" r="2.5"/><circle cx="427.2" cy="261.8" r="2.5"/><circle cx="413.2" cy="264.3" r="2.5"/><circle cx="423.7" cy="266.7" r="2.5"/><circle cx="423.1" cy="268.0" r="2.5"/><circle cx="419.6" cy="259.6" r="2.5"/><circle cx="423.5" cy="272.7" r="2.5"/><circle cx="419.2" cy="267.2" r="2.5"/><circle cx="414.8" cy="274.7" r="2.5"/><circle cx="421.7" cy="272.1" r="2.5"/><circle cx="423.1" cy="265.2" r="2.5"/><circle cx="419.3" cy="255.6" r="2.5"/><circle cx="407.1" cy="267.0" r="2.5"/><circle cx="408.7" cy="281.5" r="2.5"/><circle cx="408.1" cy="287.4" r="2.5"/><circle cx="429.7" cy="276.1" r="2.5"/><circle cx="419.1" cy="277.5" r="2.5"/><circle cx="435.5" cy="267.5" r="2.5"/><circle cx="426.8" cy="249.5" r="2.5"/><circle cx="420.9" cy="278.9" r="2.5"/><circle cx="423.2" cy="252.0" r="2.5"/><circle cx="427.6" cy="255.3" r="2.5"/><circle cx="414.3" cy="278.2" r="2.5"/><circle cx="420.3" cy="274.1" r="2.5"/><circle cx="410.2" cy="253.8" r="2.5"/><circle cx="430.3" cy="283.6" r="2.5"/><circle cx="405.1" cy="274.4" r="2.5"/><circle cx="413.8" cy="254.6" r="2.5"/><circle cx="411.3" cy="271.7" r="2.5"/><circle cx="413.8" cy="273.5" r="2.5"/><circle cx="419.2" cy="258.6" r="2.5"/><circle cx="423.4" cy="267.7" r="2.5"/><circle cx="429.4" cy="268.6" r="2.5"/><circle cx="420.2" cy="248.0" r="2.5"/><circle cx="420.1" cy="249.6" r="2.5"/><circle cx="403.3" cy="281.9" r="2.5"/><circle cx="425.5" cy="256.8" r="2.5"/><circle cx="411.0" cy="262.3" r="2.5"/><circle cx="416.1" cy="260.3" r="2.5"/><circle cx="408.4" cy="250.1" r="2.5"/><circle cx="428.9" cy="246.4" r="2.5"/><circle cx="432.4" cy="261.4" r="2.5"/><circle cx="427.9" cy="271.6" r="2.5"/><circle cx="418.8" cy="260.0" r="2.5"/><circle cx="423.6" cy="288.4" r="2.5"/><circle cx="416.8" cy="257.8" r="2.5"/><circle cx="427.0" cy="266.8" r="2.5"/><circle cx="412.7" cy="279.0" r="2.5"/><circle cx="410.2" cy="280.9" r="2.5"/><circle cx="420.1" cy="284.6" r="2.5"/><circle cx="412.3" cy="274.3" r="2.5"/><circle cx="413.0" cy="256.3" r="2.5"/><circle cx="423.4" cy="271.0" r="2.5"/><circle cx="419.0" cy="275.8" r="2.5"/><circle cx="423.4" cy="272.5" r="2.5"/><circle cx="420.9" cy="251.0" r="2.5"/><circle cx="410.1" cy="266.6" r="2.5"/><circle cx="421.1" cy="278.6" r="2.5"/><circle cx="415.9" cy="284.6" r="2.5"/><circle cx="408.8" cy="273.2" r="2.5"/><circle cx="421.9" cy="261.9" r="2.5"/><circle cx="410.3" cy="251.1" r="2.5"/><circle cx="421.2" cy="265.9" r="2.5"/><circle cx="424.3" cy="272.3" r="2.5"/><circle cx="436.7" cy="258.3" r="2.5"/><circle cx="426.2" cy="268.6" r="2.5"/><circle cx="437.8" cy="267.3" r="2.5"/><circle cx="417.7" cy="266.9" r="2.5"/><circle cx="414.5" cy="243.0" r="2.5"/><circle cx="428.7" cy="283.2" r="2.5"/><circle cx="425.5" cy="286.3" r="2.5"/><circle cx="425.5" cy="281.2" r="2.5"/><circle cx="421.2" cy="269.5" r="2.5"/><circle cx="426.8" cy="273.9" r="2.5"/><circle cx="414.0" cy="262.9" r="2.5"/><circle cx="408.3" cy="270.5" r="2.5"/><circle cx="428.2" cy="264.9" r="2.5"/><circle cx="415.1" cy="283.4" r="2.5"/><circle cx="420.0" cy="283.7" r="2.5"/><circle cx="413.3" cy="267.8" r="2.5"/><circle cx="401.5" cy="268.1" r="2.5"/><circle cx="424.2" cy="280.1" r="2.5"/><circle cx="420.8" cy="275.6" r="2.5"/><circle cx="425.4" cy="279.5" r="2.5"/><circle cx="417.3" cy="262.7" r="2.5"/><circle cx="419.6" cy="258.0" r="2.5"/><circle cx="432.6" cy="257.1" r="2.5"/><circle cx="422.5" cy="266.7" r="2.5"/><circle cx="418.3" cy="275.8" r="2.5"/><circle cx="397.1" cy="271.0" r="2.5"/><circle cx="421.5" cy="282.4" r="2.5"/><circle cx="411.5" cy="284.3" r="2.5"/><circle cx="425.7" cy="262.4" r="2.5"/><circle cx="424.4" cy="247.1" r="2.5"/><circle cx="428.2" cy="272.7" r="2.5"/><circle cx="416.0" cy="262.4" r="2.5"/><circle cx="409.7" cy="265.8" r="2.5"/><circle cx="408.6" cy="263.1" r="2.5"/><circle cx="428.3" cy="279.8" r="2.5"/><circle cx="404.2" cy="259.4" r="2.5"/><circle cx="422.8" cy="279.5" r="2.5"/><circle cx="436.2" cy="246.2" r="2.5"/><circle cx="446.8" cy="241.8" r="2.5"/><circle cx="451.6" cy="241.3" r="2.5"/><circle cx="441.8" cy="250.6" r="2.5"/><circle cx="444.9" cy="256.5" r="2.5"/><circle cx="438.4" cy="254.4" r="2.5"/><circle cx="447.8" cy="244.9" r="2.5"/><circle cx="433.7" cy="250.4" r="2.5"/><circle cx="444.3" cy="247.8" r="2.5"/><circle cx="448.6" cy="251.6" r="2.5"/><circle cx="439.0" cy="246.5" r="2.5"/><circle cx="445.8" cy="245.7" r="2.5"/><circle cx="446.3" cy="252.1" r="2.5"/><circle cx="437.2" cy="254.5" r="2.5"/><circle cx="446.3" cy="251.0" r="2.5"/><circle cx="452.0" cy="251.6" r="2.5"/><circle cx="446.0" cy="256.1" r="2.5"/><circle cx="436.1" cy="247.9" r="2.5"/><circle cx="435.1" cy="245.7" r="2.5"/><circle cx="437.4" cy="263.0" r="2.5"/><circle cx="437.7" cy="253.7" r="2.5"/><circle cx="450.3" cy="255.4" r="2.5"/><circle cx="434.1" cy="254.7" r="2.5"/><circle cx="445.1" cy="246.8" r="2.5"/><circle cx="441.8" cy="244.5" r="2.5"/><circle cx="449.2" cy="241.5" r="2.5"/><circle cx="440.6" cy="253.6" r="2.5"/><circle cx="452.3" cy="251.4" r="2.5"/><circle cx="439.4" cy="250.6" r="2.5"/><circle cx="447.2" cy="247.9" r="2.5"/><circle cx="443.6" cy="244.9" r="2.5"/><circle cx="429.0" cy="255.2" r="2.5"/><circle cx="451.5" cy="252.6" r="2.5"/><circle cx="434.4" cy="252.8" r="2.5"/><circle cx="438.9" cy="252.3" r="2.5"/><circle cx="443.2" cy="245.6" r="2.5"/><circle cx="435.7" cy="252.5" r="2.5"/><circle cx="444.5" cy="251.9" r="2.5"/><circle cx="454.5" cy="250.6" r="2.5"/><circle cx="449.7" cy="245.0" r="2.5"/><circle cx="443.8" cy="252.7" r="2.5"/><circle cx="438.3" cy="255.3" r="2.5"/><circle cx="438.1" cy="252.7" r="2.5"/><circle cx="444.9" cy="241.5" r="2.5"/><circle cx="447.6" cy="255.5" r="2.5"/><circle cx="449.8" cy="238.2" r="2.5"/><circle cx="448.9" cy="239.6" r="2.5"/><circle cx="440.7" cy="254.3" r="2.5"/><circle cx="450.3" cy="238.2" r="2.5"/><circle cx="436.1" cy="250.9" r="2.5"/><circle cx="441.9" cy="250.2" r="2.5"/><circle cx="433.3" cy="244.7" r="2.5"/><circle cx="438.3" cy="256.2" r="2.5"/><circle cx="437.3" cy="245.7" r="2.5"/><circle cx="438.8" cy="241.9" r="2.5"/><circle cx="446.0" cy="226.1" r="2.5"/><circle cx="445.4" cy="223.8" r="2.5"/><circle cx="433.5" cy="218.6" r="2.5"/><circle cx="450.7" cy="217.1" r="2.5"/><circle cx="445.7" cy="219.2" r="2.5"/><circle cx="431.1" cy="227.4" r="2.5"/><circle cx="444.4" cy="213.8" r="2.5"/><circle cx="434.0" cy="228.1" r="2.5"/><circle cx="439.3" cy="222.7" r="2.5"/><circle cx="433.1" cy="232.8" r="2.5"/><circle cx="428.8" cy="241.8" r="2.5"/><circle cx="414.7" cy="230.6" r="2.5"/><circle cx="440.1" cy="207.0" r="2.5"/><circle cx="446.8" cy="221.3" r="2.5"/><circle cx="432.8" cy="234.0" r="2.5"/><circle cx="433.7" cy="214.5" r="2.5"/><circle cx="419.8" cy="231.0" r="2.5"/><circle cx="438.7" cy="239.8" r="2.5"/><circle cx="424.5" cy="245.6" r="2.5"/><circle cx="429.7" cy="228.8" r="2.5"/><circle cx="442.8" cy="222.3" r="2.5"/><circle cx="437.8" cy="195.5" r="2.5"/><circle cx="428.6" cy="226.9" r="2.5"/><circle cx="439.1" cy="224.5" r="2.5"/><circle cx="445.4" cy="226.2" r="2.5"/><circle cx="441.4" cy="216.5" r="2.5"/><circle cx="430.8" cy="233.5" r="2.5"/><circle cx="426.6" cy="237.7" r="2.5"/><circle cx="436.2" cy="213.8" r="2.5"/><circle cx="426.6" cy="239.4" r="2.5"/><circle cx="436.5" cy="219.1" r="2.5"/><circle cx="436.9" cy="234.4" r="2.5"/><circle cx="438.7" cy="227.4" r="2.5"/><circle cx="446.3" cy="225.2" r="2.5"/><circle cx="415.3" cy="240.3" r="2.5"/><circle cx="428.1" cy="202.6" r="2.5"/><circle cx="440.7" cy="199.5" r="2.5"/><circle cx="442.7" cy="204.3" r="2.5"/><circle cx="450.7" cy="210.6" r="2.5"/><circle cx="431.4" cy="215.8" r="2.5"/><circle cx="440.7" cy="217.6" r="2.5"/></g>
<line x1="378.80" y1="305.07" x2="507.90" y2="180.17" stroke="#ff4a0a" stroke-width="2.3"/>
</g>
<rect x="378.80" y="180.17" width="129.10" height="124.90" fill="none" stroke="#000" stroke-width="1.3"/>
<path d="M392.64 305.07v3.4M378.80 291.67h-3.4M429.44 305.07v3.4M378.80 256.08h-3.4M466.23 305.07v3.4M378.80 220.48h-3.4M503.02 305.07v3.4M378.80 184.88h-3.4" stroke="#000" stroke-width="1.1" fill="none"/>
<text x="392.64" y="316.57" text-anchor="middle" font-size="9.5">0</text>
<text x="429.44" y="316.57" text-anchor="middle" font-size="9.5">4</text>
<text x="466.23" y="316.57" text-anchor="middle" font-size="9.5">8</text>
<text x="503.02" y="316.57" text-anchor="middle" font-size="9.5">12</text>
<text x="371.40" y="291.67" text-anchor="middle" font-size="9.5" transform="rotate(-90 371.40 291.67)">0</text>
<text x="371.40" y="256.08" text-anchor="middle" font-size="9.5" transform="rotate(-90 371.40 256.08)">4</text>
<text x="371.40" y="220.48" text-anchor="middle" font-size="9.5" transform="rotate(-90 371.40 220.48)">8</text>
<text x="371.40" y="184.88" text-anchor="middle" font-size="9.5" transform="rotate(-90 371.40 184.88)">12</text>
<text x="443.35" y="324.77" text-anchor="middle" font-size="10.4">βGS<tspan font-size="7" dy="2">len predicted</tspan></text>
<text x="355.60" y="242.62" text-anchor="middle" font-size="10.4" transform="rotate(-90 355.60 242.62)">βGS<tspan font-size="7" dy="2">len observed</tspan></text>
<text x="391.40" y="196.87" font-size="14" font-weight="bold">g</text>
<g font-size="7.7">
<text x="459.85" y="281.42">r = 0.561</text>
<text x="459.85" y="289.97">bias = 0</text>
<text x="459.85" y="299.02">rmse = 0.155</text>
</g>
<g clip-path="url(#ch)">
<line x1="550.05" y1="294.49" x2="679.15" y2="294.49" stroke="#b2c8c2" stroke-width="2" stroke-linecap="round" stroke-dasharray="0 8.527"/>
<line x1="560.98" y1="305.07" x2="560.98" y2="180.17" stroke="#b2c8c2" stroke-width="2" stroke-linecap="round" stroke-dasharray="0 8.527"/>
<g fill="rgb(247,147,94)" fill-opacity="0.55"><circle cx="605.7" cy="260.8" r="2.5"/><circle cx="618.4" cy="241.2" r="2.5"/><circle cx="634.8" cy="243.3" r="2.5"/><circle cx="606.8" cy="262.1" r="2.5"/><circle cx="605.1" cy="265.1" r="2.5"/><circle cx="619.9" cy="248.7" r="2.5"/><circle cx="604.3" cy="255.3" r="2.5"/><circle cx="610.7" cy="242.7" r="2.5"/><circle cx="628.8" cy="245.9" r="2.5"/><circle cx="608.2" cy="246.4" r="2.5"/><circle cx="616.5" cy="243.0" r="2.5"/><circle cx="613.3" cy="263.0" r="2.5"/><circle cx="610.0" cy="234.9" r="2.5"/><circle cx="600.4" cy="256.0" r="2.5"/><circle cx="581.3" cy="251.1" r="2.5"/><circle cx="600.7" cy="256.1" r="2.5"/><circle cx="577.2" cy="252.5" r="2.5"/><circle cx="590.7" cy="271.4" r="2.5"/><circle cx="577.7" cy="277.9" r="2.5"/><circle cx="595.8" cy="263.3" r="2.5"/><circle cx="586.4" cy="270.8" r="2.5"/><circle cx="590.6" cy="260.5" r="2.5"/><circle cx="613.2" cy="246.4" r="2.5"/><circle cx="616.0" cy="272.0" r="2.5"/><circle cx="593.0" cy="278.0" r="2.5"/><circle cx="614.7" cy="258.8" r="2.5"/><circle cx="614.0" cy="242.2" r="2.5"/><circle cx="606.3" cy="259.2" r="2.5"/><circle cx="600.1" cy="250.7" r="2.5"/><circle cx="598.7" cy="252.3" r="2.5"/><circle cx="589.0" cy="264.5" r="2.5"/><circle cx="629.8" cy="263.6" r="2.5"/><circle cx="598.6" cy="235.7" r="2.5"/><circle cx="599.4" cy="253.0" r="2.5"/><circle cx="605.6" cy="260.9" r="2.5"/><circle cx="598.9" cy="254.3" r="2.5"/><circle cx="625.9" cy="245.3" r="2.5"/><circle cx="598.2" cy="257.6" r="2.5"/><circle cx="584.2" cy="278.5" r="2.5"/><circle cx="601.4" cy="249.8" r="2.5"/><circle cx="616.1" cy="249.0" r="2.5"/><circle cx="608.9" cy="245.0" r="2.5"/><circle cx="600.8" cy="264.3" r="2.5"/><circle cx="575.0" cy="263.5" r="2.5"/><circle cx="621.7" cy="222.8" r="2.5"/><circle cx="587.0" cy="262.1" r="2.5"/><circle cx="608.1" cy="259.8" r="2.5"/><circle cx="597.8" cy="253.8" r="2.5"/><circle cx="593.4" cy="262.1" r="2.5"/><circle cx="590.4" cy="251.5" r="2.5"/><circle cx="584.4" cy="262.8" r="2.5"/><circle cx="586.7" cy="260.4" r="2.5"/><circle cx="595.1" cy="261.1" r="2.5"/><circle cx="600.7" cy="258.1" r="2.5"/><circle cx="618.1" cy="242.7" r="2.5"/><circle cx="580.0" cy="253.9" r="2.5"/><circle cx="616.6" cy="244.6" r="2.5"/><circle cx="598.7" cy="249.8" r="2.5"/><circle cx="598.5" cy="263.2" r="2.5"/><circle cx="583.8" cy="272.1" r="2.5"/><circle cx="607.5" cy="266.6" r="2.5"/><circle cx="588.4" cy="267.9" r="2.5"/><circle cx="609.3" cy="259.4" r="2.5"/><circle cx="616.9" cy="268.3" r="2.5"/><circle cx="590.8" cy="276.3" r="2.5"/><circle cx="626.6" cy="258.9" r="2.5"/><circle cx="601.9" cy="261.5" r="2.5"/><circle cx="605.5" cy="260.6" r="2.5"/><circle cx="599.4" cy="244.2" r="2.5"/><circle cx="597.1" cy="260.0" r="2.5"/><circle cx="620.8" cy="252.3" r="2.5"/><circle cx="628.1" cy="245.4" r="2.5"/><circle cx="608.6" cy="258.9" r="2.5"/><circle cx="619.3" cy="252.1" r="2.5"/><circle cx="627.1" cy="234.8" r="2.5"/><circle cx="616.9" cy="254.8" r="2.5"/><circle cx="599.8" cy="256.4" r="2.5"/><circle cx="615.0" cy="236.6" r="2.5"/><circle cx="609.3" cy="259.2" r="2.5"/><circle cx="602.0" cy="258.1" r="2.5"/><circle cx="575.1" cy="256.1" r="2.5"/><circle cx="603.3" cy="250.5" r="2.5"/><circle cx="594.6" cy="267.1" r="2.5"/><circle cx="604.1" cy="248.8" r="2.5"/><circle cx="596.0" cy="265.0" r="2.5"/><circle cx="592.5" cy="274.5" r="2.5"/><circle cx="618.9" cy="235.4" r="2.5"/><circle cx="633.1" cy="247.5" r="2.5"/><circle cx="612.8" cy="258.8" r="2.5"/><circle cx="608.5" cy="255.5" r="2.5"/><circle cx="595.8" cy="252.3" r="2.5"/><circle cx="606.2" cy="247.4" r="2.5"/><circle cx="597.7" cy="269.0" r="2.5"/><circle cx="609.8" cy="253.1" r="2.5"/><circle cx="591.2" cy="270.4" r="2.5"/><circle cx="583.5" cy="261.3" r="2.5"/><circle cx="610.3" cy="248.9" r="2.5"/><circle cx="609.4" cy="261.7" r="2.5"/><circle cx="605.1" cy="246.2" r="2.5"/><circle cx="631.0" cy="254.3" r="2.5"/><circle cx="606.4" cy="259.9" r="2.5"/><circle cx="621.8" cy="267.9" r="2.5"/><circle cx="581.2" cy="261.6" r="2.5"/><circle cx="616.2" cy="250.5" r="2.5"/><circle cx="595.6" cy="255.7" r="2.5"/><circle cx="609.6" cy="260.6" r="2.5"/><circle cx="607.0" cy="251.5" r="2.5"/><circle cx="603.3" cy="254.6" r="2.5"/><circle cx="601.5" cy="265.4" r="2.5"/><circle cx="612.9" cy="247.7" r="2.5"/><circle cx="617.3" cy="253.2" r="2.5"/><circle cx="609.4" cy="246.5" r="2.5"/><circle cx="593.0" cy="258.8" r="2.5"/><circle cx="600.2" cy="256.6" r="2.5"/><circle cx="597.6" cy="264.6" r="2.5"/><circle cx="607.5" cy="257.0" r="2.5"/><circle cx="616.5" cy="249.5" r="2.5"/><circle cx="607.4" cy="257.3" r="2.5"/><circle cx="599.5" cy="254.7" r="2.5"/><circle cx="623.1" cy="253.2" r="2.5"/><circle cx="611.6" cy="256.0" r="2.5"/><circle cx="607.0" cy="251.3" r="2.5"/><circle cx="577.3" cy="256.3" r="2.5"/><circle cx="618.8" cy="244.0" r="2.5"/><circle cx="593.0" cy="268.3" r="2.5"/><circle cx="625.7" cy="246.1" r="2.5"/><circle cx="587.3" cy="252.0" r="2.5"/><circle cx="612.4" cy="260.2" r="2.5"/><circle cx="583.5" cy="279.9" r="2.5"/><circle cx="620.4" cy="249.0" r="2.5"/><circle cx="586.1" cy="280.8" r="2.5"/><circle cx="613.4" cy="256.2" r="2.5"/><circle cx="616.6" cy="245.0" r="2.5"/><circle cx="614.8" cy="253.7" r="2.5"/><circle cx="616.0" cy="272.7" r="2.5"/><circle cx="588.4" cy="264.1" r="2.5"/><circle cx="595.4" cy="253.9" r="2.5"/><circle cx="619.2" cy="253.4" r="2.5"/><circle cx="579.1" cy="252.6" r="2.5"/><circle cx="587.1" cy="266.6" r="2.5"/><circle cx="618.5" cy="243.4" r="2.5"/><circle cx="604.1" cy="273.2" r="2.5"/><circle cx="611.3" cy="237.0" r="2.5"/><circle cx="599.8" cy="235.1" r="2.5"/><circle cx="582.8" cy="256.2" r="2.5"/><circle cx="590.6" cy="245.4" r="2.5"/><circle cx="625.8" cy="250.0" r="2.5"/><circle cx="601.1" cy="265.6" r="2.5"/><circle cx="599.6" cy="254.9" r="2.5"/><circle cx="609.8" cy="252.4" r="2.5"/><circle cx="601.2" cy="272.3" r="2.5"/><circle cx="597.5" cy="259.0" r="2.5"/><circle cx="604.7" cy="245.9" r="2.5"/><circle cx="601.3" cy="261.5" r="2.5"/><circle cx="594.2" cy="245.7" r="2.5"/><circle cx="609.8" cy="248.4" r="2.5"/><circle cx="630.7" cy="243.3" r="2.5"/><circle cx="607.2" cy="264.6" r="2.5"/><circle cx="601.6" cy="271.9" r="2.5"/><circle cx="598.7" cy="249.6" r="2.5"/><circle cx="625.2" cy="258.5" r="2.5"/><circle cx="573.9" cy="269.9" r="2.5"/><circle cx="593.7" cy="256.1" r="2.5"/><circle cx="588.5" cy="282.7" r="2.5"/><circle cx="611.0" cy="243.8" r="2.5"/><circle cx="587.2" cy="266.6" r="2.5"/><circle cx="586.8" cy="245.7" r="2.5"/><circle cx="624.4" cy="235.8" r="2.5"/><circle cx="595.6" cy="263.1" r="2.5"/><circle cx="600.8" cy="251.0" r="2.5"/><circle cx="601.4" cy="241.2" r="2.5"/><circle cx="622.8" cy="252.3" r="2.5"/><circle cx="622.9" cy="251.3" r="2.5"/><circle cx="619.9" cy="233.7" r="2.5"/><circle cx="596.2" cy="263.7" r="2.5"/><circle cx="617.5" cy="261.6" r="2.5"/><circle cx="570.7" cy="259.4" r="2.5"/><circle cx="600.5" cy="251.2" r="2.5"/><circle cx="595.9" cy="250.4" r="2.5"/><circle cx="624.2" cy="233.1" r="2.5"/><circle cx="609.8" cy="255.5" r="2.5"/><circle cx="601.2" cy="263.7" r="2.5"/><circle cx="593.8" cy="253.3" r="2.5"/><circle cx="597.6" cy="274.8" r="2.5"/><circle cx="595.3" cy="259.5" r="2.5"/><circle cx="584.5" cy="250.1" r="2.5"/><circle cx="603.0" cy="256.7" r="2.5"/><circle cx="590.1" cy="255.3" r="2.5"/><circle cx="602.4" cy="255.0" r="2.5"/><circle cx="621.3" cy="251.9" r="2.5"/><circle cx="583.5" cy="262.3" r="2.5"/><circle cx="591.7" cy="263.3" r="2.5"/><circle cx="588.1" cy="273.5" r="2.5"/><circle cx="626.9" cy="230.4" r="2.5"/><circle cx="627.8" cy="242.3" r="2.5"/><circle cx="608.3" cy="249.1" r="2.5"/><circle cx="606.3" cy="259.5" r="2.5"/><circle cx="581.1" cy="253.2" r="2.5"/><circle cx="611.4" cy="238.6" r="2.5"/><circle cx="602.4" cy="252.7" r="2.5"/><circle cx="609.5" cy="253.2" r="2.5"/><circle cx="605.4" cy="256.9" r="2.5"/><circle cx="619.1" cy="246.8" r="2.5"/><circle cx="584.8" cy="279.6" r="2.5"/><circle cx="587.1" cy="249.0" r="2.5"/><circle cx="615.2" cy="257.9" r="2.5"/><circle cx="583.8" cy="258.6" r="2.5"/><circle cx="600.3" cy="247.2" r="2.5"/><circle cx="599.5" cy="261.7" r="2.5"/><circle cx="588.3" cy="268.0" r="2.5"/><circle cx="619.4" cy="260.8" r="2.5"/><circle cx="588.5" cy="269.1" r="2.5"/><circle cx="588.9" cy="273.7" r="2.5"/><circle cx="621.5" cy="232.8" r="2.5"/><circle cx="627.4" cy="247.5" r="2.5"/><circle cx="614.4" cy="232.9" r="2.5"/><circle cx="615.4" cy="242.0" r="2.5"/><circle cx="610.2" cy="232.1" r="2.5"/><circle cx="596.7" cy="241.5" r="2.5"/><circle cx="620.5" cy="223.8" r="2.5"/><circle cx="611.1" cy="250.5" r="2.5"/><circle cx="598.1" cy="231.2" r="2.5"/><circle cx="613.7" cy="227.9" r="2.5"/><circle cx="609.3" cy="228.4" r="2.5"/><circle cx="613.7" cy="236.1" r="2.5"/><circle cx="603.3" cy="239.4" r="2.5"/><circle cx="621.3" cy="235.0" r="2.5"/><circle cx="615.1" cy="244.5" r="2.5"/><circle cx="618.7" cy="216.3" r="2.5"/><circle cx="609.3" cy="234.2" r="2.5"/><circle cx="600.9" cy="238.9" r="2.5"/><circle cx="624.5" cy="224.1" r="2.5"/><circle cx="620.0" cy="212.2" r="2.5"/><circle cx="616.1" cy="228.4" r="2.5"/><circle cx="624.3" cy="246.0" r="2.5"/><circle cx="605.7" cy="249.3" r="2.5"/><circle cx="609.2" cy="238.9" r="2.5"/><circle cx="619.0" cy="223.9" r="2.5"/><circle cx="608.9" cy="221.9" r="2.5"/><circle cx="598.1" cy="248.6" r="2.5"/><circle cx="624.2" cy="235.6" r="2.5"/><circle cx="608.0" cy="252.9" r="2.5"/><circle cx="618.1" cy="226.7" r="2.5"/><circle cx="622.8" cy="215.0" r="2.5"/><circle cx="611.9" cy="235.3" r="2.5"/><circle cx="629.1" cy="227.4" r="2.5"/><circle cx="608.8" cy="237.3" r="2.5"/><circle cx="614.5" cy="236.1" r="2.5"/><circle cx="616.0" cy="223.0" r="2.5"/><circle cx="617.5" cy="222.1" r="2.5"/><circle cx="621.7" cy="243.5" r="2.5"/><circle cx="627.4" cy="223.1" r="2.5"/><circle cx="623.1" cy="238.5" r="2.5"/><circle cx="616.0" cy="245.3" r="2.5"/><circle cx="626.8" cy="232.7" r="2.5"/><circle cx="621.2" cy="228.6" r="2.5"/><circle cx="620.4" cy="213.1" r="2.5"/><circle cx="609.8" cy="232.7" r="2.5"/><circle cx="630.3" cy="231.4" r="2.5"/><circle cx="609.2" cy="227.0" r="2.5"/><circle cx="599.6" cy="234.6" r="2.5"/><circle cx="613.5" cy="244.8" r="2.5"/><circle cx="601.7" cy="224.9" r="2.5"/><circle cx="611.7" cy="235.1" r="2.5"/><circle cx="626.0" cy="229.7" r="2.5"/><circle cx="605.4" cy="222.8" r="2.5"/><circle cx="624.5" cy="216.2" r="2.5"/><circle cx="614.4" cy="239.0" r="2.5"/><circle cx="604.0" cy="218.5" r="2.5"/><circle cx="607.0" cy="220.2" r="2.5"/><circle cx="616.4" cy="232.2" r="2.5"/><circle cx="623.5" cy="225.9" r="2.5"/><circle cx="604.9" cy="247.7" r="2.5"/><circle cx="610.8" cy="233.9" r="2.5"/><circle cx="619.6" cy="207.9" r="2.5"/><circle cx="611.8" cy="221.3" r="2.5"/><circle cx="612.2" cy="229.1" r="2.5"/><circle cx="619.0" cy="219.1" r="2.5"/><circle cx="615.8" cy="233.8" r="2.5"/><circle cx="606.4" cy="241.7" r="2.5"/><circle cx="610.6" cy="226.2" r="2.5"/><circle cx="630.3" cy="228.3" r="2.5"/><circle cx="621.6" cy="240.1" r="2.5"/><circle cx="624.9" cy="215.5" r="2.5"/><circle cx="617.6" cy="229.7" r="2.5"/><circle cx="614.8" cy="232.1" r="2.5"/><circle cx="608.4" cy="236.1" r="2.5"/><circle cx="612.4" cy="201.7" r="2.5"/><circle cx="618.5" cy="231.3" r="2.5"/><circle cx="605.7" cy="242.7" r="2.5"/><circle cx="608.2" cy="228.4" r="2.5"/><circle cx="612.5" cy="240.6" r="2.5"/><circle cx="624.5" cy="221.0" r="2.5"/><circle cx="612.0" cy="231.0" r="2.5"/><circle cx="617.4" cy="219.9" r="2.5"/><circle cx="622.7" cy="190.0" r="2.5"/><circle cx="627.7" cy="190.5" r="2.5"/><circle cx="630.2" cy="195.0" r="2.5"/><circle cx="631.5" cy="199.5" r="2.5"/><circle cx="636.5" cy="203.8" r="2.5"/><circle cx="637.7" cy="210.1" r="2.5"/><circle cx="615.2" cy="205.1" r="2.5"/><circle cx="590.1" cy="297.3" r="2.5"/><circle cx="608.9" cy="297.8" r="2.5"/><circle cx="610.9" cy="302.8" r="2.5"/><circle cx="641.5" cy="230.9" r="2.5"/></g>
<line x1="550.05" y1="305.07" x2="679.15" y2="180.17" stroke="#ff4a0a" stroke-width="2.3"/>
</g>
<rect x="550.05" y="180.17" width="129.10" height="124.90" fill="none" stroke="#000" stroke-width="1.3"/>
<path d="M560.98 305.07v3.4M550.05 294.49h-3.4M583.60 305.07v3.4M550.05 272.61h-3.4M606.22 305.07v3.4M550.05 250.73h-3.4M628.83 305.07v3.4M550.05 228.85h-3.4M651.45 305.07v3.4M550.05 206.97h-3.4M674.06 305.07v3.4M550.05 185.09h-3.4" stroke="#000" stroke-width="1.1" fill="none"/>
<text x="560.98" y="316.57" text-anchor="middle" font-size="9.5">0</text>
<text x="583.60" y="316.57" text-anchor="middle" font-size="9.5">20</text>
<text x="606.22" y="316.57" text-anchor="middle" font-size="9.5">40</text>
<text x="628.83" y="316.57" text-anchor="middle" font-size="9.5">60</text>
<text x="651.45" y="316.57" text-anchor="middle" font-size="9.5">80</text>
<text x="674.06" y="316.57" text-anchor="middle" font-size="9.5">100</text>
<text x="542.65" y="294.49" text-anchor="middle" font-size="9.5" transform="rotate(-90 542.65 294.49)">0</text>
<text x="542.65" y="272.61" text-anchor="middle" font-size="9.5" transform="rotate(-90 542.65 272.61)">20</text>
<text x="542.65" y="250.73" text-anchor="middle" font-size="9.5" transform="rotate(-90 542.65 250.73)">40</text>
<text x="542.65" y="228.85" text-anchor="middle" font-size="9.5" transform="rotate(-90 542.65 228.85)">60</text>
<text x="542.65" y="206.97" text-anchor="middle" font-size="9.5" transform="rotate(-90 542.65 206.97)">80</text>
<text x="542.65" y="185.09" text-anchor="middle" font-size="9.5" transform="rotate(-90 542.65 185.09)">100</text>
<text x="614.60" y="324.77" text-anchor="middle" font-size="10.4">βGDDS<tspan font-size="7" dy="2">predicted</tspan></text>
<text x="526.85" y="242.62" text-anchor="middle" font-size="10.4" transform="rotate(-90 526.85 242.62)">βGDDS<tspan font-size="7" dy="2">observed</tspan></text>
<text x="562.65" y="196.87" font-size="14" font-weight="bold">h</text>
<g font-size="7.7">
<text x="631.10" y="281.42">r = 0.625</text>
<text x="631.10" y="289.97">bias = 0</text>
<text x="631.10" y="299.02">rmse = 1.349</text>
</g>
<g clip-path="url(#ci)">
<g fill="rgb(175,190,240)" fill-opacity="0.55"><circle cx="71.6" cy="433.6" r="2.5"/><circle cx="65.7" cy="435.9" r="2.5"/><circle cx="74.7" cy="450.7" r="2.5"/><circle cx="62.6" cy="442.4" r="2.5"/><circle cx="74.1" cy="436.9" r="2.5"/><circle cx="50.6" cy="452.8" r="2.5"/><circle cx="79.8" cy="444.7" r="2.5"/><circle cx="64.4" cy="449.4" r="2.5"/><circle cx="65.7" cy="449.4" r="2.5"/><circle cx="56.6" cy="453.4" r="2.5"/><circle cx="48.1" cy="450.2" r="2.5"/><circle cx="61.3" cy="447.5" r="2.5"/><circle cx="71.6" cy="438.3" r="2.5"/><circle cx="64.8" cy="434.7" r="2.5"/><circle cx="74.2" cy="439.9" r="2.5"/><circle cx="60.7" cy="440.1" r="2.5"/><circle cx="65.6" cy="439.0" r="2.5"/><circle cx="64.9" cy="446.8" r="2.5"/><circle cx="50.3" cy="440.2" r="2.5"/><circle cx="63.5" cy="442.5" r="2.5"/><circle cx="57.6" cy="439.5" r="2.5"/><circle cx="69.6" cy="432.2" r="2.5"/><circle cx="64.1" cy="446.9" r="2.5"/><circle cx="66.7" cy="448.1" r="2.5"/><circle cx="72.1" cy="444.4" r="2.5"/><circle cx="74.7" cy="439.7" r="2.5"/><circle cx="63.8" cy="443.9" r="2.5"/><circle cx="64.6" cy="446.2" r="2.5"/><circle cx="62.8" cy="434.3" r="2.5"/><circle cx="77.2" cy="442.6" r="2.5"/><circle cx="50.8" cy="437.7" r="2.5"/><circle cx="55.6" cy="452.4" r="2.5"/><circle cx="64.6" cy="441.6" r="2.5"/><circle cx="63.4" cy="443.8" r="2.5"/><circle cx="65.3" cy="441.2" r="2.5"/><circle cx="41.6" cy="448.3" r="2.5"/><circle cx="58.6" cy="441.6" r="2.5"/><circle cx="66.7" cy="450.8" r="2.5"/><circle cx="61.7" cy="452.1" r="2.5"/><circle cx="60.9" cy="446.2" r="2.5"/><circle cx="61.3" cy="440.5" r="2.5"/><circle cx="69.2" cy="444.2" r="2.5"/><circle cx="76.0" cy="442.7" r="2.5"/><circle cx="57.2" cy="459.8" r="2.5"/><circle cx="50.8" cy="447.0" r="2.5"/><circle cx="70.0" cy="440.2" r="2.5"/><circle cx="69.4" cy="448.6" r="2.5"/><circle cx="57.3" cy="449.7" r="2.5"/><circle cx="47.3" cy="442.6" r="2.5"/><circle cx="58.6" cy="450.9" r="2.5"/><circle cx="66.9" cy="447.9" r="2.5"/><circle cx="69.5" cy="437.4" r="2.5"/><circle cx="79.9" cy="449.3" r="2.5"/><circle cx="73.4" cy="442.6" r="2.5"/><circle cx="55.5" cy="450.1" r="2.5"/><circle cx="84.9" cy="440.0" r="2.5"/><circle cx="73.1" cy="443.1" r="2.5"/><circle cx="64.8" cy="446.5" r="2.5"/><circle cx="63.2" cy="444.2" r="2.5"/><circle cx="75.0" cy="441.1" r="2.5"/><circle cx="59.2" cy="442.5" r="2.5"/><circle cx="59.9" cy="441.4" r="2.5"/><circle cx="66.3" cy="443.9" r="2.5"/><circle cx="80.4" cy="439.0" r="2.5"/><circle cx="48.9" cy="447.2" r="2.5"/><circle cx="72.8" cy="434.3" r="2.5"/><circle cx="43.5" cy="452.9" r="2.5"/><circle cx="55.4" cy="447.5" r="2.5"/><circle cx="64.1" cy="438.0" r="2.5"/><circle cx="76.6" cy="443.1" r="2.5"/><circle cx="53.7" cy="454.4" r="2.5"/><circle cx="73.3" cy="436.3" r="2.5"/><circle cx="77.9" cy="440.3" r="2.5"/><circle cx="58.5" cy="442.2" r="2.5"/><circle cx="61.6" cy="444.8" r="2.5"/><circle cx="66.7" cy="452.8" r="2.5"/><circle cx="48.1" cy="458.3" r="2.5"/><circle cx="54.2" cy="443.0" r="2.5"/><circle cx="72.5" cy="446.4" r="2.5"/><circle cx="50.0" cy="446.6" r="2.5"/><circle cx="70.3" cy="440.1" r="2.5"/><circle cx="70.1" cy="442.4" r="2.5"/><circle cx="63.9" cy="445.9" r="2.5"/><circle cx="67.3" cy="444.7" r="2.5"/><circle cx="76.2" cy="442.4" r="2.5"/><circle cx="59.9" cy="445.4" r="2.5"/><circle cx="53.6" cy="444.3" r="2.5"/><circle cx="88.4" cy="447.3" r="2.5"/><circle cx="66.0" cy="434.8" r="2.5"/><circle cx="61.2" cy="445.9" r="2.5"/><circle cx="86.1" cy="445.3" r="2.5"/><circle cx="69.8" cy="434.3" r="2.5"/><circle cx="53.9" cy="448.9" r="2.5"/><circle cx="70.0" cy="437.1" r="2.5"/><circle cx="67.7" cy="443.5" r="2.5"/><circle cx="71.2" cy="448.7" r="2.5"/><circle cx="58.2" cy="443.2" r="2.5"/><circle cx="58.4" cy="446.4" r="2.5"/><circle cx="58.5" cy="444.2" r="2.5"/><circle cx="64.1" cy="451.3" r="2.5"/><circle cx="72.5" cy="441.9" r="2.5"/><circle cx="73.0" cy="433.9" r="2.5"/><circle cx="75.1" cy="449.8" r="2.5"/><circle cx="78.6" cy="435.5" r="2.5"/><circle cx="52.1" cy="461.2" r="2.5"/><circle cx="61.4" cy="439.8" r="2.5"/><circle cx="59.3" cy="459.4" r="2.5"/><circle cx="86.6" cy="443.2" r="2.5"/><circle cx="63.0" cy="445.9" r="2.5"/><circle cx="69.9" cy="437.9" r="2.5"/><circle cx="69.8" cy="448.3" r="2.5"/><circle cx="55.0" cy="442.4" r="2.5"/><circle cx="55.1" cy="446.7" r="2.5"/><circle cx="70.9" cy="443.0" r="2.5"/><circle cx="70.0" cy="434.5" r="2.5"/><circle cx="59.8" cy="445.2" r="2.5"/><circle cx="83.4" cy="436.0" r="2.5"/><circle cx="62.9" cy="437.2" r="2.5"/><circle cx="73.0" cy="438.1" r="2.5"/><circle cx="67.9" cy="440.4" r="2.5"/><circle cx="77.9" cy="445.4" r="2.5"/><circle cx="51.6" cy="455.0" r="2.5"/><circle cx="82.8" cy="442.3" r="2.5"/><circle cx="72.8" cy="438.1" r="2.5"/><circle cx="72.8" cy="438.8" r="2.5"/><circle cx="81.6" cy="445.3" r="2.5"/><circle cx="71.6" cy="440.6" r="2.5"/><circle cx="51.3" cy="452.6" r="2.5"/><circle cx="61.8" cy="451.6" r="2.5"/><circle cx="52.7" cy="447.8" r="2.5"/><circle cx="61.0" cy="449.6" r="2.5"/><circle cx="73.4" cy="446.8" r="2.5"/><circle cx="82.1" cy="441.7" r="2.5"/><circle cx="50.2" cy="451.4" r="2.5"/><circle cx="57.1" cy="459.0" r="2.5"/><circle cx="67.2" cy="449.4" r="2.5"/><circle cx="70.0" cy="442.1" r="2.5"/><circle cx="65.9" cy="440.6" r="2.5"/><circle cx="59.2" cy="448.1" r="2.5"/><circle cx="70.0" cy="445.4" r="2.5"/><circle cx="72.7" cy="452.9" r="2.5"/><circle cx="55.1" cy="444.3" r="2.5"/><circle cx="80.2" cy="444.7" r="2.5"/><circle cx="52.9" cy="459.0" r="2.5"/><circle cx="63.2" cy="441.2" r="2.5"/><circle cx="67.1" cy="450.6" r="2.5"/><circle cx="72.0" cy="449.9" r="2.5"/><circle cx="74.8" cy="440.3" r="2.5"/><circle cx="58.8" cy="445.0" r="2.5"/><circle cx="63.5" cy="444.7" r="2.5"/><circle cx="75.9" cy="452.9" r="2.5"/><circle cx="81.7" cy="437.1" r="2.5"/><circle cx="60.2" cy="451.6" r="2.5"/><circle cx="73.9" cy="445.7" r="2.5"/><circle cx="66.6" cy="442.4" r="2.5"/><circle cx="55.2" cy="446.8" r="2.5"/><circle cx="75.0" cy="451.7" r="2.5"/><circle cx="53.6" cy="445.4" r="2.5"/><circle cx="66.6" cy="447.1" r="2.5"/><circle cx="68.1" cy="446.0" r="2.5"/><circle cx="60.7" cy="453.7" r="2.5"/><circle cx="56.5" cy="449.3" r="2.5"/><circle cx="71.2" cy="438.2" r="2.5"/><circle cx="70.2" cy="447.3" r="2.5"/><circle cx="68.6" cy="454.0" r="2.5"/><circle cx="56.6" cy="434.5" r="2.5"/><circle cx="77.8" cy="432.8" r="2.5"/><circle cx="58.3" cy="444.6" r="2.5"/><circle cx="70.6" cy="433.6" r="2.5"/><circle cx="65.8" cy="450.1" r="2.5"/><circle cx="74.1" cy="444.4" r="2.5"/><circle cx="76.7" cy="446.4" r="2.5"/><circle cx="50.2" cy="452.0" r="2.5"/><circle cx="57.1" cy="451.0" r="2.5"/><circle cx="60.7" cy="435.9" r="2.5"/><circle cx="68.3" cy="447.5" r="2.5"/><circle cx="47.8" cy="443.0" r="2.5"/><circle cx="67.5" cy="436.9" r="2.5"/><circle cx="71.5" cy="431.8" r="2.5"/><circle cx="66.5" cy="448.1" r="2.5"/><circle cx="67.0" cy="443.2" r="2.5"/><circle cx="55.8" cy="455.5" r="2.5"/><circle cx="76.5" cy="438.8" r="2.5"/><circle cx="82.1" cy="430.8" r="2.5"/><circle cx="67.5" cy="444.7" r="2.5"/><circle cx="67.5" cy="443.7" r="2.5"/><circle cx="82.4" cy="430.5" r="2.5"/><circle cx="61.2" cy="449.1" r="2.5"/><circle cx="72.7" cy="448.4" r="2.5"/><circle cx="65.1" cy="440.2" r="2.5"/><circle cx="55.0" cy="461.8" r="2.5"/><circle cx="55.9" cy="440.3" r="2.5"/><circle cx="68.2" cy="450.1" r="2.5"/><circle cx="66.9" cy="447.4" r="2.5"/><circle cx="64.5" cy="454.1" r="2.5"/><circle cx="61.9" cy="437.5" r="2.5"/><circle cx="70.9" cy="433.0" r="2.5"/><circle cx="76.1" cy="437.8" r="2.5"/><circle cx="75.7" cy="436.6" r="2.5"/><circle cx="56.5" cy="439.1" r="2.5"/><circle cx="65.3" cy="443.4" r="2.5"/><circle cx="70.4" cy="451.0" r="2.5"/><circle cx="72.3" cy="447.6" r="2.5"/><circle cx="80.2" cy="441.6" r="2.5"/><circle cx="49.2" cy="445.8" r="2.5"/><circle cx="56.7" cy="451.5" r="2.5"/><circle cx="61.1" cy="450.1" r="2.5"/><circle cx="78.1" cy="436.3" r="2.5"/><circle cx="70.1" cy="443.6" r="2.5"/><circle cx="66.5" cy="435.7" r="2.5"/><circle cx="82.8" cy="424.9" r="2.5"/><circle cx="89.4" cy="426.2" r="2.5"/><circle cx="98.9" cy="413.2" r="2.5"/><circle cx="69.6" cy="428.5" r="2.5"/><circle cx="83.0" cy="419.9" r="2.5"/><circle cx="79.7" cy="439.1" r="2.5"/><circle cx="76.9" cy="423.1" r="2.5"/><circle cx="87.5" cy="430.3" r="2.5"/><circle cx="75.5" cy="427.9" r="2.5"/><circle cx="90.3" cy="416.7" r="2.5"/><circle cx="76.6" cy="426.5" r="2.5"/><circle cx="81.1" cy="424.4" r="2.5"/><circle cx="87.4" cy="425.2" r="2.5"/><circle cx="85.3" cy="426.4" r="2.5"/><circle cx="85.3" cy="417.4" r="2.5"/><circle cx="78.0" cy="427.4" r="2.5"/><circle cx="89.3" cy="407.3" r="2.5"/><circle cx="88.3" cy="418.8" r="2.5"/><circle cx="84.6" cy="413.2" r="2.5"/><circle cx="86.7" cy="418.0" r="2.5"/><circle cx="84.6" cy="424.6" r="2.5"/><circle cx="78.1" cy="412.8" r="2.5"/><circle cx="92.9" cy="423.7" r="2.5"/><circle cx="96.9" cy="416.8" r="2.5"/><circle cx="86.6" cy="412.9" r="2.5"/><circle cx="76.3" cy="418.6" r="2.5"/><circle cx="87.0" cy="417.4" r="2.5"/><circle cx="76.7" cy="430.4" r="2.5"/><circle cx="87.2" cy="420.7" r="2.5"/><circle cx="77.3" cy="417.7" r="2.5"/><circle cx="91.5" cy="431.7" r="2.5"/><circle cx="91.5" cy="432.5" r="2.5"/><circle cx="79.1" cy="432.6" r="2.5"/><circle cx="85.3" cy="431.8" r="2.5"/><circle cx="84.6" cy="426.8" r="2.5"/><circle cx="87.0" cy="422.8" r="2.5"/><circle cx="90.3" cy="423.2" r="2.5"/><circle cx="82.5" cy="424.0" r="2.5"/><circle cx="79.7" cy="428.0" r="2.5"/><circle cx="96.5" cy="417.0" r="2.5"/><circle cx="75.3" cy="432.3" r="2.5"/><circle cx="87.8" cy="421.5" r="2.5"/><circle cx="98.6" cy="416.4" r="2.5"/><circle cx="82.0" cy="413.4" r="2.5"/><circle cx="79.6" cy="422.2" r="2.5"/><circle cx="87.6" cy="428.5" r="2.5"/><circle cx="72.5" cy="418.3" r="2.5"/><circle cx="91.9" cy="410.9" r="2.5"/><circle cx="93.3" cy="420.0" r="2.5"/><circle cx="81.3" cy="425.4" r="2.5"/><circle cx="90.1" cy="429.0" r="2.5"/><circle cx="87.7" cy="426.1" r="2.5"/><circle cx="84.6" cy="429.1" r="2.5"/><circle cx="84.8" cy="416.4" r="2.5"/><circle cx="72.8" cy="412.6" r="2.5"/><circle cx="89.3" cy="411.7" r="2.5"/><circle cx="85.7" cy="418.1" r="2.5"/><circle cx="76.5" cy="428.1" r="2.5"/><circle cx="83.3" cy="415.4" r="2.5"/><circle cx="94.0" cy="408.0" r="2.5"/><circle cx="91.0" cy="402.9" r="2.5"/><circle cx="95.6" cy="405.2" r="2.5"/><circle cx="90.6" cy="396.9" r="2.5"/><circle cx="100.2" cy="389.8" r="2.5"/><circle cx="103.8" cy="401.3" r="2.5"/><circle cx="103.0" cy="393.3" r="2.5"/><circle cx="104.0" cy="395.4" r="2.5"/><circle cx="99.8" cy="380.5" r="2.5"/><circle cx="103.0" cy="395.3" r="2.5"/><circle cx="90.7" cy="398.3" r="2.5"/><circle cx="102.7" cy="394.0" r="2.5"/><circle cx="101.1" cy="389.4" r="2.5"/><circle cx="98.6" cy="393.7" r="2.5"/><circle cx="88.6" cy="393.4" r="2.5"/><circle cx="94.3" cy="410.4" r="2.5"/><circle cx="104.1" cy="386.6" r="2.5"/><circle cx="98.3" cy="405.0" r="2.5"/><circle cx="109.1" cy="392.4" r="2.5"/><circle cx="93.6" cy="403.1" r="2.5"/><circle cx="89.4" cy="404.3" r="2.5"/><circle cx="94.9" cy="405.5" r="2.5"/><circle cx="87.2" cy="407.4" r="2.5"/><circle cx="97.2" cy="391.1" r="2.5"/><circle cx="97.2" cy="401.0" r="2.5"/><circle cx="101.6" cy="382.8" r="2.5"/><circle cx="98.5" cy="397.4" r="2.5"/><circle cx="102.6" cy="397.6" r="2.5"/><circle cx="101.0" cy="376.0" r="2.5"/><circle cx="92.6" cy="396.5" r="2.5"/><circle cx="97.1" cy="396.4" r="2.5"/><circle cx="97.4" cy="367.6" r="2.5"/><circle cx="109.9" cy="372.1" r="2.5"/><circle cx="112.4" cy="382.1" r="2.5"/><circle cx="111.2" cy="387.1" r="2.5"/><circle cx="108.7" cy="392.1" r="2.5"/></g>
<line x1="36.30" y1="472.73" x2="165.40" y2="347.83" stroke="#5a6ee6" stroke-width="2.3"/>
</g>
<rect x="36.30" y="347.83" width="129.10" height="124.90" fill="none" stroke="#000" stroke-width="1.3"/>
<path d="M40.83 472.73v3.4M36.30 468.35h-3.4M64.75 472.73v3.4M36.30 445.21h-3.4M88.67 472.73v3.4M36.30 422.07h-3.4M112.59 472.73v3.4M36.30 398.93h-3.4M136.51 472.73v3.4M36.30 375.79h-3.4M160.42 472.73v3.4M36.30 352.65h-3.4" stroke="#000" stroke-width="1.1" fill="none"/>
<text x="40.83" y="484.23" text-anchor="middle" font-size="9.5">5</text>
<text x="64.75" y="484.23" text-anchor="middle" font-size="9.5">10</text>
<text x="88.67" y="484.23" text-anchor="middle" font-size="9.5">15</text>
<text x="112.59" y="484.23" text-anchor="middle" font-size="9.5">20</text>
<text x="136.51" y="484.23" text-anchor="middle" font-size="9.5">25</text>
<text x="160.42" y="484.23" text-anchor="middle" font-size="9.5">30</text>
<text x="28.90" y="468.35" text-anchor="middle" font-size="9.5" transform="rotate(-90 28.90 468.35)">5</text>
<text x="28.90" y="445.21" text-anchor="middle" font-size="9.5" transform="rotate(-90 28.90 445.21)">10</text>
<text x="28.90" y="422.07" text-anchor="middle" font-size="9.5" transform="rotate(-90 28.90 422.07)">15</text>
<text x="28.90" y="398.93" text-anchor="middle" font-size="9.5" transform="rotate(-90 28.90 398.93)">20</text>
<text x="28.90" y="375.79" text-anchor="middle" font-size="9.5" transform="rotate(-90 28.90 375.79)">25</text>
<text x="28.90" y="352.65" text-anchor="middle" font-size="9.5" transform="rotate(-90 28.90 352.65)">30</text>
<text x="100.85" y="492.43" text-anchor="middle" font-size="10.4">σGS<tspan font-size="7" dy="2">beg predicted</tspan></text>
<text x="13.10" y="410.28" text-anchor="middle" font-size="10.4" transform="rotate(-90 13.10 410.28)">σGS<tspan font-size="7" dy="2">beg observed</tspan></text>
<text x="48.90" y="364.53" font-size="14" font-weight="bold">i</text>
<g font-size="7.7">
<text x="117.35" y="449.08">r = 0.755</text>
<text x="117.35" y="457.63">bias = 0.001</text>
<text x="117.35" y="466.68">rmse = 2.363</text>
</g>
<g clip-path="url(#cj)">
<g fill="rgb(175,190,240)" fill-opacity="0.55"><circle cx="275.5" cy="417.9" r="2.5"/><circle cx="238.9" cy="435.7" r="2.5"/><circle cx="273.9" cy="428.0" r="2.5"/><circle cx="296.3" cy="404.7" r="2.5"/><circle cx="255.9" cy="446.6" r="2.5"/><circle cx="283.6" cy="422.1" r="2.5"/><circle cx="265.9" cy="433.3" r="2.5"/><circle cx="284.8" cy="395.4" r="2.5"/><circle cx="266.2" cy="429.5" r="2.5"/><circle cx="252.8" cy="417.1" r="2.5"/><circle cx="290.6" cy="399.5" r="2.5"/><circle cx="290.5" cy="410.4" r="2.5"/><circle cx="256.9" cy="414.5" r="2.5"/><circle cx="246.9" cy="448.9" r="2.5"/><circle cx="254.2" cy="448.9" r="2.5"/><circle cx="267.8" cy="405.3" r="2.5"/><circle cx="283.8" cy="425.1" r="2.5"/><circle cx="242.4" cy="427.2" r="2.5"/><circle cx="286.7" cy="406.4" r="2.5"/><circle cx="270.9" cy="406.7" r="2.5"/><circle cx="271.9" cy="438.7" r="2.5"/><circle cx="263.7" cy="417.0" r="2.5"/><circle cx="268.5" cy="413.8" r="2.5"/><circle cx="256.6" cy="421.0" r="2.5"/><circle cx="287.2" cy="423.0" r="2.5"/><circle cx="269.1" cy="425.0" r="2.5"/><circle cx="276.8" cy="434.5" r="2.5"/><circle cx="273.1" cy="398.2" r="2.5"/><circle cx="276.2" cy="415.9" r="2.5"/><circle cx="249.4" cy="438.1" r="2.5"/><circle cx="263.3" cy="412.5" r="2.5"/><circle cx="257.0" cy="435.6" r="2.5"/><circle cx="270.8" cy="417.3" r="2.5"/><circle cx="277.7" cy="418.4" r="2.5"/><circle cx="245.6" cy="430.0" r="2.5"/><circle cx="276.7" cy="401.4" r="2.5"/><circle cx="287.6" cy="391.5" r="2.5"/><circle cx="273.9" cy="414.9" r="2.5"/><circle cx="259.5" cy="440.7" r="2.5"/><circle cx="259.4" cy="412.4" r="2.5"/><circle cx="273.0" cy="416.4" r="2.5"/><circle cx="280.4" cy="420.4" r="2.5"/><circle cx="276.3" cy="413.2" r="2.5"/><circle cx="258.3" cy="427.1" r="2.5"/><circle cx="257.8" cy="420.0" r="2.5"/><circle cx="288.5" cy="423.4" r="2.5"/><circle cx="270.8" cy="418.8" r="2.5"/><circle cx="277.7" cy="422.5" r="2.5"/><circle cx="267.0" cy="417.2" r="2.5"/><circle cx="283.6" cy="420.1" r="2.5"/><circle cx="296.1" cy="404.7" r="2.5"/><circle cx="274.0" cy="423.3" r="2.5"/><circle cx="274.7" cy="422.5" r="2.5"/><circle cx="261.5" cy="425.2" r="2.5"/><circle cx="258.6" cy="426.6" r="2.5"/><circle cx="262.4" cy="442.1" r="2.5"/><circle cx="253.2" cy="439.8" r="2.5"/><circle cx="256.3" cy="432.0" r="2.5"/><circle cx="266.3" cy="412.6" r="2.5"/><circle cx="270.3" cy="400.9" r="2.5"/><circle cx="273.4" cy="419.4" r="2.5"/><circle cx="247.7" cy="430.9" r="2.5"/><circle cx="253.4" cy="413.1" r="2.5"/><circle cx="268.6" cy="409.8" r="2.5"/><circle cx="267.3" cy="423.9" r="2.5"/><circle cx="267.0" cy="423.7" r="2.5"/><circle cx="297.1" cy="409.2" r="2.5"/><circle cx="276.6" cy="390.5" r="2.5"/><circle cx="272.4" cy="409.8" r="2.5"/><circle cx="247.3" cy="439.2" r="2.5"/><circle cx="270.4" cy="420.0" r="2.5"/><circle cx="243.5" cy="421.4" r="2.5"/><circle cx="251.3" cy="419.7" r="2.5"/><circle cx="258.9" cy="413.7" r="2.5"/><circle cx="266.1" cy="408.5" r="2.5"/><circle cx="284.6" cy="413.0" r="2.5"/><circle cx="266.3" cy="428.0" r="2.5"/><circle cx="275.1" cy="409.3" r="2.5"/><circle cx="261.6" cy="430.1" r="2.5"/><circle cx="265.1" cy="418.4" r="2.5"/><circle cx="256.4" cy="432.7" r="2.5"/><circle cx="290.6" cy="404.2" r="2.5"/><circle cx="261.1" cy="412.3" r="2.5"/><circle cx="283.2" cy="416.2" r="2.5"/><circle cx="259.3" cy="433.5" r="2.5"/><circle cx="271.7" cy="396.3" r="2.5"/><circle cx="278.3" cy="428.2" r="2.5"/><circle cx="253.6" cy="426.6" r="2.5"/><circle cx="264.5" cy="422.0" r="2.5"/><circle cx="261.2" cy="430.1" r="2.5"/><circle cx="245.5" cy="415.9" r="2.5"/><circle cx="290.3" cy="410.3" r="2.5"/><circle cx="274.2" cy="421.3" r="2.5"/><circle cx="254.3" cy="416.1" r="2.5"/><circle cx="232.4" cy="422.0" r="2.5"/><circle cx="291.0" cy="421.9" r="2.5"/><circle cx="263.8" cy="418.7" r="2.5"/><circle cx="261.6" cy="423.9" r="2.5"/><circle cx="253.7" cy="428.2" r="2.5"/><circle cx="282.9" cy="397.8" r="2.5"/><circle cx="281.4" cy="405.6" r="2.5"/><circle cx="259.0" cy="421.8" r="2.5"/><circle cx="269.6" cy="439.9" r="2.5"/><circle cx="269.1" cy="436.0" r="2.5"/><circle cx="259.7" cy="416.7" r="2.5"/><circle cx="264.9" cy="419.8" r="2.5"/><circle cx="243.6" cy="433.2" r="2.5"/><circle cx="251.8" cy="422.3" r="2.5"/><circle cx="276.0" cy="433.7" r="2.5"/><circle cx="291.7" cy="422.9" r="2.5"/><circle cx="279.5" cy="421.5" r="2.5"/><circle cx="264.8" cy="414.5" r="2.5"/><circle cx="254.1" cy="428.9" r="2.5"/><circle cx="279.2" cy="426.4" r="2.5"/><circle cx="279.9" cy="414.5" r="2.5"/><circle cx="280.2" cy="411.0" r="2.5"/><circle cx="287.2" cy="409.4" r="2.5"/><circle cx="263.0" cy="425.2" r="2.5"/><circle cx="250.3" cy="417.4" r="2.5"/><circle cx="282.2" cy="409.8" r="2.5"/><circle cx="259.2" cy="424.9" r="2.5"/><circle cx="279.0" cy="419.3" r="2.5"/><circle cx="256.6" cy="406.8" r="2.5"/><circle cx="242.7" cy="433.8" r="2.5"/><circle cx="267.7" cy="421.8" r="2.5"/><circle cx="263.1" cy="423.0" r="2.5"/><circle cx="255.9" cy="417.8" r="2.5"/><circle cx="264.8" cy="432.4" r="2.5"/><circle cx="241.1" cy="426.6" r="2.5"/><circle cx="266.3" cy="438.0" r="2.5"/><circle cx="267.2" cy="437.6" r="2.5"/><circle cx="285.0" cy="417.4" r="2.5"/><circle cx="272.3" cy="437.0" r="2.5"/><circle cx="266.9" cy="415.9" r="2.5"/><circle cx="291.3" cy="405.3" r="2.5"/><circle cx="238.0" cy="440.0" r="2.5"/><circle cx="272.6" cy="398.8" r="2.5"/><circle cx="275.7" cy="427.1" r="2.5"/><circle cx="256.4" cy="419.6" r="2.5"/><circle cx="252.0" cy="438.3" r="2.5"/><circle cx="276.5" cy="402.6" r="2.5"/><circle cx="265.0" cy="408.9" r="2.5"/><circle cx="263.5" cy="426.8" r="2.5"/><circle cx="247.2" cy="427.2" r="2.5"/><circle cx="283.6" cy="411.4" r="2.5"/><circle cx="280.1" cy="391.4" r="2.5"/><circle cx="259.6" cy="436.2" r="2.5"/><circle cx="265.9" cy="419.4" r="2.5"/><circle cx="282.1" cy="428.2" r="2.5"/><circle cx="285.2" cy="416.5" r="2.5"/><circle cx="259.8" cy="420.5" r="2.5"/><circle cx="293.4" cy="392.7" r="2.5"/><circle cx="264.7" cy="416.4" r="2.5"/><circle cx="264.0" cy="423.5" r="2.5"/><circle cx="252.2" cy="422.3" r="2.5"/><circle cx="259.8" cy="441.0" r="2.5"/><circle cx="278.2" cy="411.4" r="2.5"/><circle cx="264.6" cy="412.8" r="2.5"/><circle cx="262.3" cy="434.5" r="2.5"/><circle cx="261.9" cy="440.0" r="2.5"/><circle cx="273.8" cy="398.2" r="2.5"/><circle cx="283.6" cy="405.5" r="2.5"/><circle cx="289.2" cy="427.6" r="2.5"/><circle cx="272.1" cy="418.9" r="2.5"/><circle cx="258.7" cy="422.6" r="2.5"/><circle cx="280.6" cy="404.6" r="2.5"/><circle cx="284.9" cy="402.0" r="2.5"/><circle cx="270.2" cy="413.9" r="2.5"/><circle cx="269.6" cy="425.6" r="2.5"/><circle cx="294.6" cy="402.5" r="2.5"/><circle cx="256.1" cy="423.7" r="2.5"/><circle cx="277.4" cy="415.8" r="2.5"/><circle cx="281.7" cy="394.8" r="2.5"/><circle cx="276.8" cy="424.2" r="2.5"/><circle cx="266.5" cy="419.5" r="2.5"/><circle cx="262.4" cy="418.4" r="2.5"/><circle cx="255.0" cy="425.4" r="2.5"/><circle cx="266.4" cy="418.2" r="2.5"/><circle cx="298.1" cy="400.6" r="2.5"/><circle cx="255.4" cy="435.8" r="2.5"/><circle cx="271.4" cy="434.4" r="2.5"/><circle cx="273.4" cy="421.8" r="2.5"/><circle cx="263.6" cy="417.0" r="2.5"/><circle cx="266.5" cy="400.8" r="2.5"/><circle cx="258.7" cy="440.6" r="2.5"/><circle cx="286.0" cy="424.5" r="2.5"/><circle cx="283.8" cy="388.9" r="2.5"/><circle cx="249.9" cy="449.2" r="2.5"/><circle cx="247.7" cy="416.4" r="2.5"/><circle cx="245.7" cy="424.9" r="2.5"/><circle cx="265.6" cy="408.7" r="2.5"/><circle cx="273.6" cy="419.8" r="2.5"/><circle cx="294.8" cy="396.4" r="2.5"/><circle cx="251.7" cy="427.5" r="2.5"/><circle cx="291.5" cy="412.7" r="2.5"/><circle cx="253.8" cy="412.6" r="2.5"/><circle cx="288.0" cy="429.6" r="2.5"/><circle cx="270.6" cy="423.6" r="2.5"/><circle cx="284.6" cy="419.3" r="2.5"/><circle cx="257.8" cy="429.6" r="2.5"/><circle cx="278.5" cy="401.9" r="2.5"/><circle cx="284.2" cy="417.3" r="2.5"/><circle cx="243.3" cy="432.3" r="2.5"/><circle cx="272.2" cy="436.5" r="2.5"/><circle cx="261.4" cy="404.2" r="2.5"/><circle cx="253.7" cy="435.1" r="2.5"/><circle cx="244.7" cy="425.1" r="2.5"/><circle cx="257.4" cy="427.0" r="2.5"/><circle cx="271.9" cy="416.7" r="2.5"/><circle cx="271.5" cy="411.4" r="2.5"/><circle cx="254.4" cy="428.9" r="2.5"/><circle cx="270.4" cy="408.0" r="2.5"/><circle cx="228.8" cy="426.6" r="2.5"/><circle cx="259.4" cy="443.9" r="2.5"/><circle cx="273.4" cy="436.3" r="2.5"/><circle cx="283.4" cy="395.1" r="2.5"/><circle cx="274.3" cy="436.7" r="2.5"/><circle cx="255.0" cy="409.7" r="2.5"/><circle cx="269.5" cy="404.5" r="2.5"/><circle cx="266.9" cy="404.9" r="2.5"/><circle cx="240.8" cy="426.2" r="2.5"/><circle cx="263.1" cy="425.7" r="2.5"/><circle cx="266.3" cy="418.1" r="2.5"/><circle cx="266.0" cy="424.6" r="2.5"/><circle cx="256.9" cy="412.8" r="2.5"/><circle cx="264.2" cy="425.9" r="2.5"/><circle cx="260.4" cy="418.8" r="2.5"/><circle cx="277.6" cy="414.7" r="2.5"/><circle cx="265.0" cy="416.3" r="2.5"/><circle cx="278.4" cy="438.1" r="2.5"/><circle cx="257.6" cy="427.6" r="2.5"/><circle cx="278.7" cy="396.2" r="2.5"/><circle cx="263.7" cy="419.8" r="2.5"/><circle cx="288.1" cy="398.2" r="2.5"/><circle cx="258.8" cy="412.8" r="2.5"/><circle cx="249.5" cy="422.1" r="2.5"/><circle cx="262.1" cy="416.6" r="2.5"/><circle cx="263.9" cy="421.4" r="2.5"/><circle cx="256.6" cy="411.6" r="2.5"/><circle cx="271.7" cy="424.9" r="2.5"/><circle cx="267.7" cy="421.3" r="2.5"/><circle cx="280.8" cy="399.7" r="2.5"/><circle cx="251.7" cy="422.6" r="2.5"/><circle cx="246.8" cy="420.0" r="2.5"/><circle cx="261.7" cy="438.7" r="2.5"/><circle cx="291.1" cy="412.4" r="2.5"/><circle cx="263.4" cy="418.4" r="2.5"/><circle cx="278.6" cy="427.0" r="2.5"/><circle cx="282.1" cy="396.9" r="2.5"/><circle cx="266.4" cy="413.0" r="2.5"/><circle cx="244.7" cy="427.4" r="2.5"/><circle cx="278.3" cy="419.6" r="2.5"/><circle cx="282.6" cy="406.3" r="2.5"/><circle cx="247.8" cy="439.5" r="2.5"/><circle cx="298.1" cy="413.8" r="2.5"/><circle cx="272.2" cy="388.0" r="2.5"/><circle cx="278.0" cy="384.1" r="2.5"/><circle cx="242.4" cy="386.9" r="2.5"/><circle cx="258.8" cy="381.8" r="2.5"/><circle cx="264.5" cy="396.3" r="2.5"/><circle cx="278.0" cy="385.9" r="2.5"/><circle cx="267.9" cy="396.1" r="2.5"/><circle cx="268.0" cy="387.0" r="2.5"/><circle cx="251.8" cy="388.4" r="2.5"/><circle cx="251.2" cy="389.5" r="2.5"/><circle cx="288.8" cy="385.4" r="2.5"/><circle cx="272.9" cy="390.9" r="2.5"/><circle cx="289.8" cy="385.8" r="2.5"/><circle cx="259.4" cy="405.7" r="2.5"/><circle cx="272.1" cy="387.8" r="2.5"/><circle cx="281.5" cy="385.0" r="2.5"/><circle cx="264.3" cy="384.5" r="2.5"/><circle cx="268.5" cy="382.2" r="2.5"/><circle cx="248.3" cy="392.4" r="2.5"/><circle cx="238.6" cy="392.3" r="2.5"/><circle cx="253.9" cy="390.1" r="2.5"/><circle cx="243.8" cy="387.6" r="2.5"/><circle cx="248.5" cy="392.5" r="2.5"/><circle cx="267.7" cy="376.7" r="2.5"/><circle cx="263.0" cy="379.9" r="2.5"/><circle cx="284.1" cy="392.4" r="2.5"/><circle cx="287.7" cy="389.9" r="2.5"/><circle cx="282.8" cy="393.1" r="2.5"/><circle cx="274.6" cy="389.0" r="2.5"/><circle cx="266.4" cy="393.0" r="2.5"/><circle cx="279.3" cy="385.0" r="2.5"/><circle cx="249.6" cy="390.2" r="2.5"/><circle cx="257.2" cy="392.1" r="2.5"/><circle cx="285.5" cy="391.1" r="2.5"/><circle cx="266.9" cy="393.5" r="2.5"/><circle cx="280.8" cy="376.9" r="2.5"/><circle cx="276.4" cy="388.8" r="2.5"/><circle cx="272.7" cy="384.6" r="2.5"/><circle cx="281.9" cy="388.8" r="2.5"/><circle cx="267.9" cy="376.9" r="2.5"/><circle cx="259.5" cy="393.4" r="2.5"/><circle cx="265.6" cy="394.6" r="2.5"/><circle cx="281.1" cy="391.3" r="2.5"/><circle cx="253.4" cy="389.1" r="2.5"/><circle cx="292.2" cy="392.3" r="2.5"/><circle cx="267.2" cy="349.5" r="2.5"/><circle cx="267.9" cy="355.3" r="2.5"/><circle cx="291.0" cy="365.8" r="2.5"/><circle cx="289.7" cy="370.8" r="2.5"/></g>
<line x1="207.55" y1="472.73" x2="336.65" y2="347.83" stroke="#5a6ee6" stroke-width="2.3"/>
</g>
<rect x="207.55" y="347.83" width="129.10" height="124.90" fill="none" stroke="#000" stroke-width="1.3"/>
<path d="M212.24 472.73v3.4M207.55 468.19h-3.4M242.13 472.73v3.4M207.55 439.27h-3.4M272.03 472.73v3.4M207.55 410.36h-3.4M301.92 472.73v3.4M207.55 381.44h-3.4M331.81 472.73v3.4M207.55 352.52h-3.4" stroke="#000" stroke-width="1.1" fill="none"/>
<text x="212.24" y="484.23" text-anchor="middle" font-size="9.5">5</text>
<text x="242.13" y="484.23" text-anchor="middle" font-size="9.5">10</text>
<text x="272.03" y="484.23" text-anchor="middle" font-size="9.5">15</text>
<text x="301.92" y="484.23" text-anchor="middle" font-size="9.5">20</text>
<text x="331.81" y="484.23" text-anchor="middle" font-size="9.5">25</text>
<text x="200.15" y="468.19" text-anchor="middle" font-size="9.5" transform="rotate(-90 200.15 468.19)">5</text>
<text x="200.15" y="439.27" text-anchor="middle" font-size="9.5" transform="rotate(-90 200.15 439.27)">10</text>
<text x="200.15" y="410.36" text-anchor="middle" font-size="9.5" transform="rotate(-90 200.15 410.36)">15</text>
<text x="200.15" y="381.44" text-anchor="middle" font-size="9.5" transform="rotate(-90 200.15 381.44)">20</text>
<text x="200.15" y="352.52" text-anchor="middle" font-size="9.5" transform="rotate(-90 200.15 352.52)">25</text>
<text x="272.10" y="492.43" text-anchor="middle" font-size="10.4">σGS<tspan font-size="7" dy="2">end predicted</tspan></text>
<text x="184.35" y="410.28" text-anchor="middle" font-size="10.4" transform="rotate(-90 184.35 410.28)">σGS<tspan font-size="7" dy="2">end observed</tspan></text>
<text x="220.15" y="364.53" font-size="14" font-weight="bold">j</text>
<g font-size="7.7">
<text x="287.08" y="449.08">r = 0.458</text>
<text x="287.08" y="457.63">bias = −0.006</text>
<text x="287.08" y="466.68">rmse = 3.8</text>
</g>
<g clip-path="url(#ck)">
<g fill="rgb(175,190,240)" fill-opacity="0.55"><circle cx="406.4" cy="450.3" r="2.5"/><circle cx="407.0" cy="437.2" r="2.5"/><circle cx="435.6" cy="437.7" r="2.5"/><circle cx="392.2" cy="447.0" r="2.5"/><circle cx="420.7" cy="451.6" r="2.5"/><circle cx="422.4" cy="438.1" r="2.5"/><circle cx="384.3" cy="454.8" r="2.5"/><circle cx="405.0" cy="444.3" r="2.5"/><circle cx="419.6" cy="447.3" r="2.5"/><circle cx="438.2" cy="445.5" r="2.5"/><circle cx="405.1" cy="449.0" r="2.5"/><circle cx="420.1" cy="438.1" r="2.5"/><circle cx="401.8" cy="449.8" r="2.5"/><circle cx="423.5" cy="444.7" r="2.5"/><circle cx="428.2" cy="442.6" r="2.5"/><circle cx="426.9" cy="432.3" r="2.5"/><circle cx="389.3" cy="453.7" r="2.5"/><circle cx="395.7" cy="458.2" r="2.5"/><circle cx="386.8" cy="445.0" r="2.5"/><circle cx="402.9" cy="447.9" r="2.5"/><circle cx="389.7" cy="449.5" r="2.5"/><circle cx="421.0" cy="451.3" r="2.5"/><circle cx="412.9" cy="445.7" r="2.5"/><circle cx="397.4" cy="447.0" r="2.5"/><circle cx="408.5" cy="440.5" r="2.5"/><circle cx="411.4" cy="441.6" r="2.5"/><circle cx="406.2" cy="438.9" r="2.5"/><circle cx="414.2" cy="442.4" r="2.5"/><circle cx="417.4" cy="445.6" r="2.5"/><circle cx="417.7" cy="451.8" r="2.5"/><circle cx="399.8" cy="440.4" r="2.5"/><circle cx="393.7" cy="447.3" r="2.5"/><circle cx="411.7" cy="442.5" r="2.5"/><circle cx="423.2" cy="441.9" r="2.5"/><circle cx="419.3" cy="445.8" r="2.5"/><circle cx="394.0" cy="444.8" r="2.5"/><circle cx="422.2" cy="435.8" r="2.5"/><circle cx="402.5" cy="441.5" r="2.5"/><circle cx="388.4" cy="458.3" r="2.5"/><circle cx="410.7" cy="447.1" r="2.5"/><circle cx="390.9" cy="453.7" r="2.5"/><circle cx="424.8" cy="433.4" r="2.5"/><circle cx="412.6" cy="444.0" r="2.5"/><circle cx="400.1" cy="454.0" r="2.5"/><circle cx="404.1" cy="453.0" r="2.5"/><circle cx="409.7" cy="446.7" r="2.5"/><circle cx="405.6" cy="455.2" r="2.5"/><circle cx="400.4" cy="454.7" r="2.5"/><circle cx="436.3" cy="437.9" r="2.5"/><circle cx="402.0" cy="442.6" r="2.5"/><circle cx="401.2" cy="447.1" r="2.5"/><circle cx="383.0" cy="454.5" r="2.5"/><circle cx="419.2" cy="449.4" r="2.5"/><circle cx="416.9" cy="449.3" r="2.5"/><circle cx="422.0" cy="453.1" r="2.5"/><circle cx="397.1" cy="448.1" r="2.5"/><circle cx="430.2" cy="439.1" r="2.5"/><circle cx="397.5" cy="453.1" r="2.5"/><circle cx="392.4" cy="440.7" r="2.5"/><circle cx="408.6" cy="447.1" r="2.5"/><circle cx="405.4" cy="439.4" r="2.5"/><circle cx="419.9" cy="441.8" r="2.5"/><circle cx="409.3" cy="442.8" r="2.5"/><circle cx="416.3" cy="450.5" r="2.5"/><circle cx="431.3" cy="437.7" r="2.5"/><circle cx="420.0" cy="437.4" r="2.5"/><circle cx="406.7" cy="459.8" r="2.5"/><circle cx="386.3" cy="444.9" r="2.5"/><circle cx="409.5" cy="451.6" r="2.5"/><circle cx="394.2" cy="452.2" r="2.5"/><circle cx="399.5" cy="451.8" r="2.5"/><circle cx="411.2" cy="439.3" r="2.5"/><circle cx="402.3" cy="444.7" r="2.5"/><circle cx="422.5" cy="445.5" r="2.5"/><circle cx="383.5" cy="457.6" r="2.5"/><circle cx="392.1" cy="449.0" r="2.5"/><circle cx="434.1" cy="441.2" r="2.5"/><circle cx="422.9" cy="445.6" r="2.5"/><circle cx="414.5" cy="447.1" r="2.5"/><circle cx="417.2" cy="437.3" r="2.5"/><circle cx="393.9" cy="459.5" r="2.5"/><circle cx="395.8" cy="458.8" r="2.5"/><circle cx="420.3" cy="440.3" r="2.5"/><circle cx="412.0" cy="449.2" r="2.5"/><circle cx="419.0" cy="451.6" r="2.5"/><circle cx="409.2" cy="442.5" r="2.5"/><circle cx="427.9" cy="444.2" r="2.5"/><circle cx="417.7" cy="449.7" r="2.5"/><circle cx="408.6" cy="454.3" r="2.5"/><circle cx="411.8" cy="437.0" r="2.5"/><circle cx="413.1" cy="446.4" r="2.5"/><circle cx="393.3" cy="442.1" r="2.5"/><circle cx="389.2" cy="449.1" r="2.5"/><circle cx="406.3" cy="451.6" r="2.5"/><circle cx="412.8" cy="436.4" r="2.5"/><circle cx="395.3" cy="450.6" r="2.5"/><circle cx="409.3" cy="441.1" r="2.5"/><circle cx="436.9" cy="445.0" r="2.5"/><circle cx="409.5" cy="454.2" r="2.5"/><circle cx="407.5" cy="449.5" r="2.5"/><circle cx="388.1" cy="458.0" r="2.5"/><circle cx="427.3" cy="434.6" r="2.5"/><circle cx="405.4" cy="444.1" r="2.5"/><circle cx="405.5" cy="453.7" r="2.5"/><circle cx="392.0" cy="450.6" r="2.5"/><circle cx="425.9" cy="448.4" r="2.5"/><circle cx="410.0" cy="448.0" r="2.5"/><circle cx="414.2" cy="444.7" r="2.5"/><circle cx="408.0" cy="455.1" r="2.5"/><circle cx="396.0" cy="459.1" r="2.5"/><circle cx="413.1" cy="445.9" r="2.5"/><circle cx="415.8" cy="448.2" r="2.5"/><circle cx="396.2" cy="442.7" r="2.5"/><circle cx="400.2" cy="456.4" r="2.5"/><circle cx="407.1" cy="445.9" r="2.5"/><circle cx="400.7" cy="440.9" r="2.5"/><circle cx="427.0" cy="434.0" r="2.5"/><circle cx="426.2" cy="439.1" r="2.5"/><circle cx="405.5" cy="452.3" r="2.5"/><circle cx="399.8" cy="451.7" r="2.5"/><circle cx="421.8" cy="439.2" r="2.5"/><circle cx="415.1" cy="445.4" r="2.5"/><circle cx="410.6" cy="445.5" r="2.5"/><circle cx="409.5" cy="449.8" r="2.5"/><circle cx="421.8" cy="445.4" r="2.5"/><circle cx="410.4" cy="436.7" r="2.5"/><circle cx="411.8" cy="440.0" r="2.5"/><circle cx="415.5" cy="434.7" r="2.5"/><circle cx="433.4" cy="436.8" r="2.5"/><circle cx="410.7" cy="441.4" r="2.5"/><circle cx="413.7" cy="451.4" r="2.5"/><circle cx="409.3" cy="453.7" r="2.5"/><circle cx="401.5" cy="452.3" r="2.5"/><circle cx="387.3" cy="457.0" r="2.5"/><circle cx="423.2" cy="444.5" r="2.5"/><circle cx="406.1" cy="453.5" r="2.5"/><circle cx="388.1" cy="457.0" r="2.5"/><circle cx="430.3" cy="446.8" r="2.5"/><circle cx="415.6" cy="441.4" r="2.5"/><circle cx="405.4" cy="444.4" r="2.5"/><circle cx="423.7" cy="442.0" r="2.5"/><circle cx="412.8" cy="442.0" r="2.5"/><circle cx="403.4" cy="440.6" r="2.5"/><circle cx="430.5" cy="443.4" r="2.5"/><circle cx="412.4" cy="440.1" r="2.5"/><circle cx="410.1" cy="440.4" r="2.5"/><circle cx="419.0" cy="447.8" r="2.5"/><circle cx="415.7" cy="440.8" r="2.5"/><circle cx="419.5" cy="443.6" r="2.5"/><circle cx="404.9" cy="446.6" r="2.5"/><circle cx="409.3" cy="450.7" r="2.5"/><circle cx="420.1" cy="444.9" r="2.5"/><circle cx="412.1" cy="437.7" r="2.5"/><circle cx="418.4" cy="444.5" r="2.5"/><circle cx="394.2" cy="448.8" r="2.5"/><circle cx="408.9" cy="449.4" r="2.5"/><circle cx="404.0" cy="449.9" r="2.5"/><circle cx="414.2" cy="447.2" r="2.5"/><circle cx="421.0" cy="441.3" r="2.5"/><circle cx="407.2" cy="448.0" r="2.5"/><circle cx="413.7" cy="443.2" r="2.5"/><circle cx="414.4" cy="445.2" r="2.5"/><circle cx="419.6" cy="440.5" r="2.5"/><circle cx="413.5" cy="442.1" r="2.5"/><circle cx="410.6" cy="446.5" r="2.5"/><circle cx="408.4" cy="450.6" r="2.5"/><circle cx="413.6" cy="453.9" r="2.5"/><circle cx="434.6" cy="447.8" r="2.5"/><circle cx="434.0" cy="436.3" r="2.5"/><circle cx="418.8" cy="443.9" r="2.5"/><circle cx="404.5" cy="450.9" r="2.5"/><circle cx="415.4" cy="450.3" r="2.5"/><circle cx="422.1" cy="442.8" r="2.5"/><circle cx="389.0" cy="456.9" r="2.5"/><circle cx="404.3" cy="443.4" r="2.5"/><circle cx="435.1" cy="439.3" r="2.5"/><circle cx="413.7" cy="450.6" r="2.5"/><circle cx="397.4" cy="456.6" r="2.5"/><circle cx="404.6" cy="450.0" r="2.5"/><circle cx="385.1" cy="457.4" r="2.5"/><circle cx="405.6" cy="449.3" r="2.5"/><circle cx="406.3" cy="455.8" r="2.5"/><circle cx="405.6" cy="449.8" r="2.5"/><circle cx="403.9" cy="444.7" r="2.5"/><circle cx="403.6" cy="443.7" r="2.5"/><circle cx="418.4" cy="438.6" r="2.5"/><circle cx="409.8" cy="441.4" r="2.5"/><circle cx="401.8" cy="447.1" r="2.5"/><circle cx="407.6" cy="445.3" r="2.5"/><circle cx="383.7" cy="459.1" r="2.5"/><circle cx="448.7" cy="405.5" r="2.5"/><circle cx="447.0" cy="416.4" r="2.5"/><circle cx="420.7" cy="410.1" r="2.5"/><circle cx="450.7" cy="406.1" r="2.5"/><circle cx="427.7" cy="416.1" r="2.5"/><circle cx="427.0" cy="426.9" r="2.5"/><circle cx="416.7" cy="428.4" r="2.5"/><circle cx="428.1" cy="412.9" r="2.5"/><circle cx="433.1" cy="418.0" r="2.5"/><circle cx="419.9" cy="429.4" r="2.5"/><circle cx="437.0" cy="430.3" r="2.5"/><circle cx="434.4" cy="412.6" r="2.5"/><circle cx="422.9" cy="428.5" r="2.5"/><circle cx="445.6" cy="395.7" r="2.5"/><circle cx="418.4" cy="429.5" r="2.5"/><circle cx="424.5" cy="423.3" r="2.5"/><circle cx="434.9" cy="420.4" r="2.5"/><circle cx="432.0" cy="436.0" r="2.5"/><circle cx="439.3" cy="420.7" r="2.5"/><circle cx="420.9" cy="425.0" r="2.5"/><circle cx="406.7" cy="436.4" r="2.5"/><circle cx="410.6" cy="420.3" r="2.5"/><circle cx="427.2" cy="436.3" r="2.5"/><circle cx="445.9" cy="415.8" r="2.5"/><circle cx="427.4" cy="430.9" r="2.5"/><circle cx="411.9" cy="424.3" r="2.5"/><circle cx="425.2" cy="418.0" r="2.5"/><circle cx="440.6" cy="420.5" r="2.5"/><circle cx="407.7" cy="438.5" r="2.5"/><circle cx="421.9" cy="427.5" r="2.5"/><circle cx="426.0" cy="419.6" r="2.5"/><circle cx="438.3" cy="406.9" r="2.5"/><circle cx="451.7" cy="404.9" r="2.5"/><circle cx="441.9" cy="412.1" r="2.5"/><circle cx="418.2" cy="406.5" r="2.5"/><circle cx="423.4" cy="430.5" r="2.5"/><circle cx="436.0" cy="402.9" r="2.5"/><circle cx="421.0" cy="446.0" r="2.5"/><circle cx="437.2" cy="429.2" r="2.5"/><circle cx="446.2" cy="422.5" r="2.5"/><circle cx="421.4" cy="420.5" r="2.5"/><circle cx="414.6" cy="431.9" r="2.5"/><circle cx="423.1" cy="418.3" r="2.5"/><circle cx="414.2" cy="424.1" r="2.5"/><circle cx="418.7" cy="437.2" r="2.5"/><circle cx="430.6" cy="430.9" r="2.5"/><circle cx="427.5" cy="435.7" r="2.5"/><circle cx="437.0" cy="413.1" r="2.5"/><circle cx="418.5" cy="427.2" r="2.5"/><circle cx="436.6" cy="403.6" r="2.5"/><circle cx="408.0" cy="433.7" r="2.5"/><circle cx="448.4" cy="409.6" r="2.5"/><circle cx="433.9" cy="416.6" r="2.5"/><circle cx="420.6" cy="425.4" r="2.5"/><circle cx="419.4" cy="437.4" r="2.5"/><circle cx="412.8" cy="421.1" r="2.5"/><circle cx="424.9" cy="432.6" r="2.5"/><circle cx="424.1" cy="410.4" r="2.5"/><circle cx="398.2" cy="425.7" r="2.5"/><circle cx="428.8" cy="388.9" r="2.5"/><circle cx="439.7" cy="404.3" r="2.5"/><circle cx="438.1" cy="410.7" r="2.5"/><circle cx="429.1" cy="411.2" r="2.5"/><circle cx="428.4" cy="413.9" r="2.5"/><circle cx="408.5" cy="442.9" r="2.5"/><circle cx="426.0" cy="423.6" r="2.5"/><circle cx="427.6" cy="413.6" r="2.5"/><circle cx="425.0" cy="413.4" r="2.5"/><circle cx="437.7" cy="403.8" r="2.5"/><circle cx="437.4" cy="407.9" r="2.5"/><circle cx="425.3" cy="414.0" r="2.5"/><circle cx="427.0" cy="409.5" r="2.5"/><circle cx="437.8" cy="401.6" r="2.5"/><circle cx="430.7" cy="423.3" r="2.5"/><circle cx="434.7" cy="429.1" r="2.5"/><circle cx="421.6" cy="429.9" r="2.5"/><circle cx="416.2" cy="436.6" r="2.5"/><circle cx="425.7" cy="435.3" r="2.5"/><circle cx="433.9" cy="425.1" r="2.5"/><circle cx="410.9" cy="433.2" r="2.5"/><circle cx="432.1" cy="435.2" r="2.5"/><circle cx="429.0" cy="442.0" r="2.5"/><circle cx="423.1" cy="419.7" r="2.5"/><circle cx="433.1" cy="409.5" r="2.5"/><circle cx="445.9" cy="419.0" r="2.5"/><circle cx="436.8" cy="409.9" r="2.5"/><circle cx="423.1" cy="431.3" r="2.5"/><circle cx="431.3" cy="432.8" r="2.5"/><circle cx="438.1" cy="427.5" r="2.5"/><circle cx="424.1" cy="436.5" r="2.5"/><circle cx="446.0" cy="400.3" r="2.5"/><circle cx="415.1" cy="434.2" r="2.5"/><circle cx="424.1" cy="408.9" r="2.5"/><circle cx="413.6" cy="437.1" r="2.5"/><circle cx="425.8" cy="438.2" r="2.5"/><circle cx="438.2" cy="435.4" r="2.5"/><circle cx="436.9" cy="426.0" r="2.5"/><circle cx="425.4" cy="429.4" r="2.5"/><circle cx="450.1" cy="402.6" r="2.5"/><circle cx="449.3" cy="423.9" r="2.5"/><circle cx="431.5" cy="390.3" r="2.5"/><circle cx="400.0" cy="435.0" r="2.5"/><circle cx="433.6" cy="411.6" r="2.5"/><circle cx="452.4" cy="402.1" r="2.5"/><circle cx="448.5" cy="411.3" r="2.5"/><circle cx="412.9" cy="424.9" r="2.5"/><circle cx="421.2" cy="433.5" r="2.5"/><circle cx="412.3" cy="427.0" r="2.5"/><circle cx="432.5" cy="409.9" r="2.5"/><circle cx="424.4" cy="439.5" r="2.5"/><circle cx="451.2" cy="392.6" r="2.5"/><circle cx="433.9" cy="390.0" r="2.5"/><circle cx="445.6" cy="386.8" r="2.5"/><circle cx="438.1" cy="374.4" r="2.5"/><circle cx="444.8" cy="376.0" r="2.5"/><circle cx="440.4" cy="396.0" r="2.5"/><circle cx="464.3" cy="384.4" r="2.5"/><circle cx="459.6" cy="387.2" r="2.5"/><circle cx="443.3" cy="394.8" r="2.5"/><circle cx="449.8" cy="377.4" r="2.5"/><circle cx="446.3" cy="382.8" r="2.5"/><circle cx="454.9" cy="394.2" r="2.5"/><circle cx="465.3" cy="381.1" r="2.5"/><circle cx="447.9" cy="386.9" r="2.5"/><circle cx="441.4" cy="407.6" r="2.5"/><circle cx="461.9" cy="374.5" r="2.5"/><circle cx="437.8" cy="379.2" r="2.5"/><circle cx="454.2" cy="391.5" r="2.5"/><circle cx="429.9" cy="386.2" r="2.5"/><circle cx="458.5" cy="379.7" r="2.5"/><circle cx="440.1" cy="392.6" r="2.5"/><circle cx="432.9" cy="393.0" r="2.5"/><circle cx="429.0" cy="397.4" r="2.5"/><circle cx="435.3" cy="376.4" r="2.5"/><circle cx="466.6" cy="379.4" r="2.5"/><circle cx="443.2" cy="365.0" r="2.5"/><circle cx="454.4" cy="370.8" r="2.5"/><circle cx="460.2" cy="372.6" r="2.5"/></g>
<line x1="378.80" y1="472.73" x2="507.90" y2="347.83" stroke="#5a6ee6" stroke-width="2.3"/>
</g>
<rect x="378.80" y="347.83" width="129.10" height="124.90" fill="none" stroke="#000" stroke-width="1.3"/>
<path d="M383.65 472.73v3.4M378.80 468.04h-3.4M403.57 472.73v3.4M378.80 448.76h-3.4M423.50 472.73v3.4M378.80 429.49h-3.4M443.42 472.73v3.4M378.80 410.21h-3.4M463.35 472.73v3.4M378.80 390.94h-3.4M483.27 472.73v3.4M378.80 371.66h-3.4M503.20 472.73v3.4M378.80 352.38h-3.4" stroke="#000" stroke-width="1.1" fill="none"/>
<text x="383.65" y="484.23" text-anchor="middle" font-size="9.5">10</text>
<text x="403.57" y="484.23" text-anchor="middle" font-size="9.5">15</text>
<text x="423.50" y="484.23" text-anchor="middle" font-size="9.5">20</text>
<text x="443.42" y="484.23" text-anchor="middle" font-size="9.5">25</text>
<text x="463.35" y="484.23" text-anchor="middle" font-size="9.5">30</text>
<text x="483.27" y="484.23" text-anchor="middle" font-size="9.5">35</text>
<text x="503.20" y="484.23" text-anchor="middle" font-size="9.5">40</text>
<text x="371.40" y="468.04" text-anchor="middle" font-size="9.5" transform="rotate(-90 371.40 468.04)">10</text>
<text x="371.40" y="448.76" text-anchor="middle" font-size="9.5" transform="rotate(-90 371.40 448.76)">15</text>
<text x="371.40" y="429.49" text-anchor="middle" font-size="9.5" transform="rotate(-90 371.40 429.49)">20</text>
<text x="371.40" y="410.21" text-anchor="middle" font-size="9.5" transform="rotate(-90 371.40 410.21)">25</text>
<text x="371.40" y="390.94" text-anchor="middle" font-size="9.5" transform="rotate(-90 371.40 390.94)">30</text>
<text x="371.40" y="371.66" text-anchor="middle" font-size="9.5" transform="rotate(-90 371.40 371.66)">35</text>
<text x="371.40" y="352.38" text-anchor="middle" font-size="9.5" transform="rotate(-90 371.40 352.38)">40</text>
<text x="443.35" y="492.43" text-anchor="middle" font-size="10.4">σGS<tspan font-size="7" dy="2">len predicted</tspan></text>
<text x="355.60" y="410.28" text-anchor="middle" font-size="10.4" transform="rotate(-90 355.60 410.28)">σGS<tspan font-size="7" dy="2">len observed</tspan></text>
<text x="391.40" y="364.53" font-size="14" font-weight="bold">k</text>
<g font-size="7.7">
<text x="458.33" y="449.08">r = 0.701</text>
<text x="458.33" y="457.63">bias = −0.003</text>
<text x="458.33" y="466.68">rmse = 3.844</text>
</g>
<g clip-path="url(#cl)">
<g fill="rgb(175,190,240)" fill-opacity="0.55"><circle cx="635.7" cy="407.9" r="2.5"/><circle cx="641.4" cy="402.8" r="2.5"/><circle cx="612.0" cy="411.6" r="2.5"/><circle cx="589.6" cy="438.2" r="2.5"/><circle cx="621.0" cy="389.3" r="2.5"/><circle cx="619.9" cy="405.0" r="2.5"/><circle cx="621.0" cy="436.9" r="2.5"/><circle cx="627.9" cy="438.7" r="2.5"/><circle cx="613.7" cy="425.2" r="2.5"/><circle cx="624.5" cy="416.2" r="2.5"/><circle cx="621.4" cy="414.6" r="2.5"/><circle cx="585.9" cy="413.9" r="2.5"/><circle cx="606.1" cy="399.3" r="2.5"/><circle cx="596.9" cy="420.1" r="2.5"/><circle cx="586.1" cy="431.7" r="2.5"/><circle cx="615.8" cy="421.3" r="2.5"/><circle cx="631.9" cy="398.2" r="2.5"/><circle cx="636.8" cy="432.3" r="2.5"/><circle cx="619.8" cy="404.1" r="2.5"/><circle cx="647.8" cy="398.7" r="2.5"/><circle cx="618.9" cy="392.8" r="2.5"/><circle cx="632.8" cy="437.0" r="2.5"/><circle cx="608.7" cy="412.1" r="2.5"/><circle cx="645.9" cy="392.7" r="2.5"/><circle cx="609.0" cy="425.8" r="2.5"/><circle cx="598.5" cy="408.1" r="2.5"/><circle cx="641.9" cy="418.2" r="2.5"/><circle cx="648.0" cy="417.8" r="2.5"/><circle cx="601.1" cy="440.0" r="2.5"/><circle cx="627.7" cy="399.6" r="2.5"/><circle cx="612.0" cy="410.4" r="2.5"/><circle cx="631.8" cy="429.7" r="2.5"/><circle cx="610.4" cy="417.9" r="2.5"/><circle cx="617.3" cy="417.3" r="2.5"/><circle cx="653.6" cy="407.9" r="2.5"/><circle cx="638.1" cy="418.9" r="2.5"/><circle cx="607.7" cy="429.3" r="2.5"/><circle cx="609.1" cy="418.0" r="2.5"/><circle cx="602.9" cy="442.4" r="2.5"/><circle cx="574.8" cy="439.2" r="2.5"/><circle cx="603.6" cy="423.0" r="2.5"/><circle cx="633.7" cy="403.1" r="2.5"/><circle cx="630.1" cy="406.6" r="2.5"/><circle cx="600.8" cy="432.6" r="2.5"/><circle cx="580.9" cy="452.3" r="2.5"/><circle cx="636.4" cy="400.2" r="2.5"/><circle cx="610.7" cy="434.3" r="2.5"/><circle cx="613.6" cy="407.0" r="2.5"/><circle cx="615.6" cy="407.4" r="2.5"/><circle cx="623.6" cy="439.1" r="2.5"/><circle cx="650.0" cy="394.9" r="2.5"/><circle cx="666.9" cy="411.1" r="2.5"/><circle cx="631.1" cy="436.3" r="2.5"/><circle cx="625.8" cy="405.7" r="2.5"/><circle cx="621.5" cy="402.5" r="2.5"/><circle cx="615.1" cy="425.2" r="2.5"/><circle cx="586.5" cy="422.0" r="2.5"/><circle cx="596.7" cy="443.7" r="2.5"/><circle cx="618.1" cy="402.7" r="2.5"/><circle cx="620.6" cy="414.1" r="2.5"/><circle cx="610.9" cy="405.6" r="2.5"/><circle cx="614.9" cy="407.4" r="2.5"/><circle cx="625.6" cy="417.9" r="2.5"/><circle cx="615.4" cy="431.8" r="2.5"/><circle cx="579.9" cy="441.2" r="2.5"/><circle cx="573.2" cy="441.3" r="2.5"/><circle cx="631.4" cy="390.8" r="2.5"/><circle cx="622.8" cy="426.1" r="2.5"/><circle cx="589.8" cy="439.5" r="2.5"/><circle cx="604.7" cy="437.3" r="2.5"/><circle cx="615.9" cy="397.9" r="2.5"/><circle cx="659.7" cy="416.3" r="2.5"/><circle cx="644.7" cy="408.9" r="2.5"/><circle cx="621.9" cy="408.7" r="2.5"/><circle cx="623.7" cy="413.3" r="2.5"/><circle cx="598.4" cy="442.7" r="2.5"/><circle cx="620.6" cy="415.7" r="2.5"/><circle cx="598.5" cy="418.2" r="2.5"/><circle cx="618.3" cy="418.7" r="2.5"/><circle cx="578.5" cy="437.2" r="2.5"/><circle cx="626.9" cy="415.8" r="2.5"/><circle cx="598.9" cy="417.6" r="2.5"/><circle cx="635.4" cy="410.8" r="2.5"/><circle cx="582.2" cy="440.7" r="2.5"/><circle cx="634.3" cy="420.5" r="2.5"/><circle cx="625.6" cy="429.4" r="2.5"/><circle cx="604.0" cy="434.5" r="2.5"/><circle cx="614.8" cy="406.4" r="2.5"/><circle cx="597.7" cy="431.6" r="2.5"/><circle cx="636.0" cy="397.1" r="2.5"/><circle cx="584.3" cy="450.8" r="2.5"/><circle cx="601.7" cy="450.0" r="2.5"/><circle cx="589.9" cy="429.5" r="2.5"/><circle cx="582.9" cy="445.9" r="2.5"/><circle cx="572.1" cy="448.5" r="2.5"/><circle cx="618.8" cy="410.8" r="2.5"/><circle cx="599.0" cy="418.8" r="2.5"/><circle cx="585.4" cy="429.8" r="2.5"/><circle cx="588.0" cy="434.7" r="2.5"/><circle cx="586.2" cy="452.5" r="2.5"/><circle cx="620.2" cy="412.4" r="2.5"/><circle cx="624.6" cy="426.1" r="2.5"/><circle cx="618.7" cy="417.0" r="2.5"/><circle cx="582.4" cy="449.2" r="2.5"/><circle cx="628.5" cy="431.8" r="2.5"/><circle cx="595.5" cy="427.4" r="2.5"/><circle cx="599.5" cy="405.2" r="2.5"/><circle cx="591.9" cy="431.1" r="2.5"/><circle cx="627.0" cy="424.0" r="2.5"/><circle cx="644.4" cy="416.3" r="2.5"/><circle cx="606.9" cy="417.7" r="2.5"/><circle cx="625.3" cy="426.0" r="2.5"/><circle cx="621.1" cy="437.1" r="2.5"/><circle cx="591.9" cy="435.5" r="2.5"/><circle cx="618.9" cy="417.2" r="2.5"/><circle cx="593.4" cy="432.4" r="2.5"/><circle cx="612.5" cy="414.7" r="2.5"/><circle cx="634.9" cy="421.1" r="2.5"/><circle cx="644.9" cy="401.0" r="2.5"/><circle cx="592.1" cy="425.4" r="2.5"/><circle cx="633.0" cy="402.5" r="2.5"/><circle cx="642.3" cy="382.9" r="2.5"/><circle cx="623.9" cy="421.9" r="2.5"/><circle cx="626.3" cy="420.0" r="2.5"/><circle cx="634.1" cy="419.1" r="2.5"/><circle cx="622.4" cy="401.3" r="2.5"/><circle cx="611.9" cy="419.8" r="2.5"/><circle cx="624.9" cy="404.5" r="2.5"/><circle cx="609.8" cy="433.4" r="2.5"/><circle cx="589.1" cy="435.7" r="2.5"/><circle cx="611.0" cy="417.4" r="2.5"/><circle cx="635.3" cy="399.3" r="2.5"/><circle cx="593.4" cy="440.2" r="2.5"/><circle cx="587.2" cy="434.0" r="2.5"/><circle cx="600.5" cy="434.9" r="2.5"/><circle cx="620.1" cy="396.1" r="2.5"/><circle cx="600.6" cy="444.0" r="2.5"/><circle cx="628.7" cy="409.1" r="2.5"/><circle cx="665.0" cy="411.0" r="2.5"/><circle cx="622.5" cy="415.6" r="2.5"/><circle cx="654.8" cy="411.9" r="2.5"/><circle cx="627.0" cy="390.9" r="2.5"/><circle cx="640.7" cy="375.9" r="2.5"/><circle cx="605.5" cy="422.8" r="2.5"/><circle cx="600.4" cy="432.5" r="2.5"/><circle cx="647.9" cy="420.7" r="2.5"/><circle cx="649.8" cy="386.8" r="2.5"/><circle cx="604.0" cy="423.3" r="2.5"/><circle cx="633.2" cy="407.8" r="2.5"/><circle cx="595.8" cy="428.2" r="2.5"/><circle cx="612.2" cy="425.8" r="2.5"/><circle cx="573.2" cy="430.1" r="2.5"/><circle cx="615.6" cy="436.3" r="2.5"/><circle cx="592.6" cy="427.3" r="2.5"/><circle cx="644.6" cy="399.7" r="2.5"/><circle cx="612.8" cy="414.6" r="2.5"/><circle cx="639.6" cy="399.9" r="2.5"/><circle cx="658.0" cy="395.1" r="2.5"/><circle cx="586.6" cy="452.6" r="2.5"/><circle cx="653.0" cy="389.3" r="2.5"/><circle cx="622.4" cy="418.5" r="2.5"/><circle cx="626.3" cy="416.2" r="2.5"/><circle cx="608.1" cy="427.2" r="2.5"/><circle cx="586.2" cy="456.3" r="2.5"/><circle cx="594.7" cy="436.8" r="2.5"/><circle cx="611.1" cy="427.3" r="2.5"/><circle cx="575.7" cy="426.3" r="2.5"/><circle cx="611.8" cy="409.9" r="2.5"/><circle cx="639.7" cy="420.4" r="2.5"/><circle cx="592.5" cy="425.8" r="2.5"/><circle cx="616.1" cy="444.4" r="2.5"/><circle cx="643.8" cy="417.5" r="2.5"/><circle cx="580.9" cy="434.4" r="2.5"/><circle cx="634.6" cy="417.1" r="2.5"/><circle cx="580.7" cy="441.8" r="2.5"/><circle cx="637.8" cy="400.7" r="2.5"/><circle cx="621.8" cy="431.4" r="2.5"/><circle cx="597.9" cy="420.7" r="2.5"/><circle cx="613.0" cy="423.2" r="2.5"/><circle cx="663.3" cy="403.5" r="2.5"/><circle cx="583.0" cy="431.6" r="2.5"/><circle cx="588.2" cy="435.1" r="2.5"/><circle cx="626.0" cy="388.6" r="2.5"/><circle cx="629.7" cy="396.2" r="2.5"/><circle cx="606.4" cy="416.2" r="2.5"/><circle cx="637.6" cy="415.1" r="2.5"/><circle cx="611.5" cy="414.2" r="2.5"/><circle cx="631.5" cy="410.9" r="2.5"/><circle cx="616.0" cy="418.9" r="2.5"/><circle cx="616.8" cy="408.6" r="2.5"/><circle cx="625.5" cy="422.4" r="2.5"/><circle cx="596.5" cy="411.0" r="2.5"/><circle cx="612.4" cy="412.9" r="2.5"/><circle cx="631.6" cy="417.7" r="2.5"/><circle cx="618.4" cy="415.2" r="2.5"/><circle cx="585.9" cy="431.8" r="2.5"/><circle cx="619.6" cy="409.8" r="2.5"/><circle cx="577.3" cy="450.1" r="2.5"/><circle cx="646.8" cy="421.7" r="2.5"/><circle cx="631.4" cy="417.9" r="2.5"/><circle cx="610.0" cy="422.7" r="2.5"/><circle cx="585.4" cy="440.6" r="2.5"/><circle cx="613.5" cy="430.8" r="2.5"/><circle cx="589.4" cy="431.5" r="2.5"/><circle cx="619.7" cy="414.0" r="2.5"/><circle cx="571.2" cy="438.3" r="2.5"/><circle cx="612.9" cy="414.3" r="2.5"/><circle cx="593.5" cy="421.1" r="2.5"/><circle cx="629.3" cy="435.2" r="2.5"/><circle cx="603.1" cy="423.3" r="2.5"/><circle cx="627.8" cy="411.3" r="2.5"/><circle cx="636.2" cy="410.4" r="2.5"/><circle cx="604.8" cy="424.8" r="2.5"/><circle cx="625.7" cy="427.6" r="2.5"/><circle cx="633.9" cy="391.6" r="2.5"/><circle cx="602.7" cy="414.3" r="2.5"/><circle cx="600.7" cy="428.9" r="2.5"/><circle cx="598.5" cy="417.4" r="2.5"/><circle cx="615.8" cy="402.2" r="2.5"/><circle cx="606.1" cy="414.2" r="2.5"/><circle cx="588.5" cy="437.6" r="2.5"/><circle cx="598.4" cy="430.8" r="2.5"/><circle cx="589.3" cy="434.4" r="2.5"/><circle cx="612.1" cy="436.2" r="2.5"/><circle cx="607.8" cy="420.8" r="2.5"/><circle cx="621.2" cy="385.3" r="2.5"/><circle cx="613.2" cy="414.9" r="2.5"/><circle cx="588.4" cy="431.6" r="2.5"/><circle cx="601.6" cy="409.9" r="2.5"/><circle cx="593.1" cy="430.8" r="2.5"/><circle cx="598.6" cy="420.8" r="2.5"/><circle cx="603.5" cy="419.7" r="2.5"/><circle cx="627.0" cy="440.4" r="2.5"/><circle cx="611.1" cy="434.6" r="2.5"/><circle cx="627.9" cy="428.6" r="2.5"/><circle cx="641.0" cy="409.0" r="2.5"/><circle cx="644.2" cy="404.1" r="2.5"/><circle cx="646.6" cy="383.3" r="2.5"/><circle cx="596.8" cy="413.1" r="2.5"/><circle cx="590.1" cy="413.9" r="2.5"/><circle cx="598.0" cy="421.6" r="2.5"/><circle cx="623.1" cy="414.0" r="2.5"/><circle cx="608.3" cy="434.7" r="2.5"/><circle cx="604.4" cy="410.5" r="2.5"/><circle cx="577.0" cy="428.9" r="2.5"/><circle cx="601.5" cy="418.1" r="2.5"/><circle cx="642.8" cy="403.2" r="2.5"/><circle cx="584.4" cy="440.7" r="2.5"/><circle cx="594.5" cy="428.5" r="2.5"/><circle cx="608.3" cy="423.4" r="2.5"/><circle cx="625.7" cy="412.8" r="2.5"/><circle cx="596.6" cy="427.1" r="2.5"/><circle cx="639.5" cy="413.3" r="2.5"/><circle cx="650.1" cy="413.0" r="2.5"/><circle cx="648.3" cy="404.9" r="2.5"/><circle cx="628.3" cy="418.0" r="2.5"/><circle cx="612.1" cy="416.1" r="2.5"/><circle cx="593.5" cy="432.1" r="2.5"/><circle cx="617.3" cy="424.9" r="2.5"/><circle cx="624.5" cy="424.5" r="2.5"/><circle cx="628.7" cy="413.9" r="2.5"/><circle cx="621.9" cy="422.5" r="2.5"/><circle cx="622.4" cy="419.2" r="2.5"/><circle cx="621.6" cy="402.4" r="2.5"/><circle cx="624.2" cy="405.4" r="2.5"/><circle cx="623.3" cy="420.5" r="2.5"/><circle cx="630.7" cy="422.2" r="2.5"/><circle cx="633.8" cy="402.5" r="2.5"/><circle cx="620.5" cy="432.0" r="2.5"/><circle cx="626.1" cy="428.2" r="2.5"/><circle cx="646.0" cy="394.9" r="2.5"/><circle cx="611.6" cy="387.3" r="2.5"/><circle cx="638.6" cy="389.4" r="2.5"/><circle cx="598.4" cy="378.9" r="2.5"/><circle cx="602.8" cy="389.8" r="2.5"/><circle cx="637.8" cy="372.6" r="2.5"/><circle cx="606.2" cy="397.0" r="2.5"/><circle cx="586.4" cy="388.4" r="2.5"/><circle cx="607.2" cy="378.8" r="2.5"/><circle cx="614.6" cy="391.9" r="2.5"/><circle cx="623.0" cy="382.4" r="2.5"/><circle cx="615.2" cy="377.1" r="2.5"/><circle cx="618.8" cy="381.0" r="2.5"/><circle cx="643.0" cy="392.9" r="2.5"/><circle cx="631.3" cy="381.3" r="2.5"/><circle cx="591.3" cy="386.5" r="2.5"/><circle cx="586.5" cy="397.5" r="2.5"/><circle cx="642.2" cy="369.7" r="2.5"/><circle cx="618.7" cy="399.4" r="2.5"/><circle cx="619.1" cy="372.8" r="2.5"/><circle cx="600.4" cy="389.0" r="2.5"/><circle cx="616.1" cy="371.5" r="2.5"/><circle cx="614.4" cy="386.3" r="2.5"/><circle cx="583.8" cy="395.0" r="2.5"/><circle cx="639.6" cy="375.9" r="2.5"/><circle cx="581.9" cy="370.9" r="2.5"/><circle cx="616.5" cy="381.7" r="2.5"/><circle cx="604.4" cy="393.3" r="2.5"/><circle cx="616.3" cy="376.1" r="2.5"/><circle cx="622.4" cy="384.2" r="2.5"/><circle cx="588.8" cy="380.0" r="2.5"/><circle cx="637.7" cy="372.4" r="2.5"/><circle cx="627.7" cy="384.0" r="2.5"/><circle cx="589.9" cy="383.5" r="2.5"/><circle cx="594.5" cy="378.6" r="2.5"/><circle cx="611.7" cy="389.3" r="2.5"/><circle cx="648.2" cy="395.9" r="2.5"/><circle cx="606.2" cy="386.1" r="2.5"/><circle cx="596.5" cy="385.3" r="2.5"/><circle cx="639.8" cy="381.6" r="2.5"/><circle cx="606.9" cy="366.8" r="2.5"/><circle cx="601.6" cy="382.5" r="2.5"/><circle cx="626.8" cy="378.1" r="2.5"/><circle cx="589.4" cy="401.7" r="2.5"/><circle cx="655.4" cy="373.2" r="2.5"/><circle cx="637.9" cy="396.8" r="2.5"/><circle cx="633.3" cy="384.4" r="2.5"/><circle cx="657.4" cy="367.8" r="2.5"/><circle cx="606.3" cy="390.9" r="2.5"/><circle cx="612.8" cy="377.8" r="2.5"/><circle cx="618.6" cy="386.3" r="2.5"/><circle cx="568.8" cy="394.0" r="2.5"/><circle cx="618.6" cy="396.9" r="2.5"/><circle cx="620.2" cy="383.8" r="2.5"/><circle cx="626.7" cy="396.1" r="2.5"/><circle cx="634.5" cy="375.7" r="2.5"/><circle cx="586.0" cy="374.1" r="2.5"/><circle cx="573.8" cy="390.4" r="2.5"/><circle cx="603.8" cy="407.3" r="2.5"/><circle cx="620.7" cy="393.1" r="2.5"/><circle cx="622.7" cy="350.0" r="2.5"/><circle cx="627.7" cy="358.3" r="2.5"/></g>
<line x1="550.05" y1="472.73" x2="679.15" y2="347.83" stroke="#5a6ee6" stroke-width="2.3"/>
</g>
<rect x="550.05" y="347.83" width="129.10" height="124.90" fill="none" stroke="#000" stroke-width="1.3"/>
<path d="M554.85 472.73v3.4M550.05 468.08h-3.4M574.04 472.73v3.4M550.05 449.53h-3.4M593.22 472.73v3.4M550.05 430.97h-3.4M612.40 472.73v3.4M550.05 412.41h-3.4M631.58 472.73v3.4M550.05 393.86h-3.4M650.76 472.73v3.4M550.05 375.30h-3.4M669.94 472.73v3.4M550.05 356.74h-3.4" stroke="#000" stroke-width="1.1" fill="none"/>
<text x="554.85" y="484.23" text-anchor="middle" font-size="9.5">100</text>
<text x="593.22" y="484.23" text-anchor="middle" font-size="9.5">140</text>
<text x="631.58" y="484.23" text-anchor="middle" font-size="9.5">180</text>
<text x="669.94" y="484.23" text-anchor="middle" font-size="9.5">220</text>
<text x="542.65" y="468.08" text-anchor="middle" font-size="9.5" transform="rotate(-90 542.65 468.08)">100</text>
<text x="542.65" y="430.97" text-anchor="middle" font-size="9.5" transform="rotate(-90 542.65 430.97)">140</text>
<text x="542.65" y="393.86" text-anchor="middle" font-size="9.5" transform="rotate(-90 542.65 393.86)">180</text>
<text x="542.65" y="356.74" text-anchor="middle" font-size="9.5" transform="rotate(-90 542.65 356.74)">220</text>
<text x="614.60" y="492.43" text-anchor="middle" font-size="10.4">σGDDS<tspan font-size="7" dy="2">predicted</tspan></text>
<text x="526.85" y="410.28" text-anchor="middle" font-size="10.4" transform="rotate(-90 526.85 410.28)">σGDDS<tspan font-size="7" dy="2">observed</tspan></text>
<text x="562.65" y="364.53" font-size="14" font-weight="bold">l</text>
<g font-size="7.7">
<text x="627.38" y="449.08">r = 0.576</text>
<text x="627.38" y="457.63">bias = −0.054</text>
<text x="627.38" y="466.68">rmse = 28.311</text>
</g>
</svg>
</body></html>
